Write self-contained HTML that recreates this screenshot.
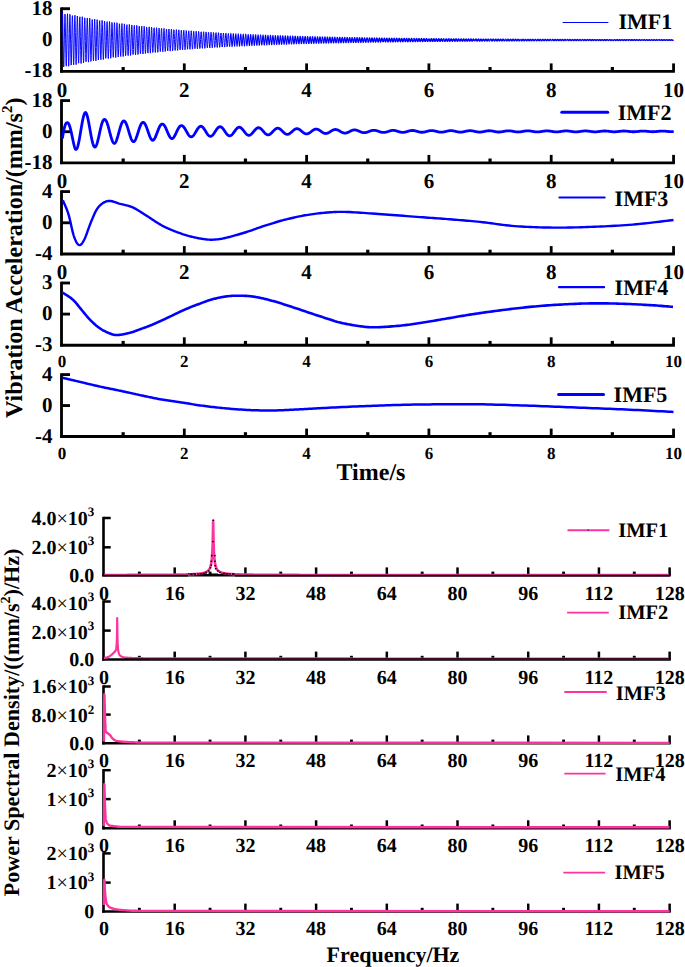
<!DOCTYPE html>
<html><head><meta charset="utf-8"><style>
html,body{margin:0;padding:0;background:#fff;overflow:hidden;width:685px;height:967px;}
svg{display:block;}
text{font-family:"Liberation Serif", serif;font-weight:bold;fill:#000;text-rendering:geometricPrecision;}
</style></head><body>
<svg width="685" height="967" viewBox="0 0 685 967">
<rect width="685" height="967" fill="#fff"/>
<line x1="61.5" y1="7.4" x2="61.5" y2="72.6" stroke="#000" stroke-width="2.85"/>
<line x1="60.15" y1="71.3" x2="674.9" y2="71.3" stroke="#000" stroke-width="2.85"/>
<line x1="61.5" y1="8.7" x2="70" y2="8.7" stroke="#000" stroke-width="2.85"/>
<line x1="123.15" y1="71.3" x2="123.15" y2="67" stroke="#000" stroke-width="3.2"/>
<line x1="184.3" y1="71.3" x2="184.3" y2="63.4" stroke="#000" stroke-width="2.8"/>
<line x1="245.45" y1="71.3" x2="245.45" y2="67" stroke="#000" stroke-width="3.2"/>
<line x1="306.6" y1="71.3" x2="306.6" y2="63.4" stroke="#000" stroke-width="2.8"/>
<line x1="367.75" y1="71.3" x2="367.75" y2="67" stroke="#000" stroke-width="3.2"/>
<line x1="428.9" y1="71.3" x2="428.9" y2="63.4" stroke="#000" stroke-width="2.8"/>
<line x1="490.05" y1="71.3" x2="490.05" y2="67" stroke="#000" stroke-width="3.2"/>
<line x1="551.2" y1="71.3" x2="551.2" y2="63.4" stroke="#000" stroke-width="2.8"/>
<line x1="612.35" y1="71.3" x2="612.35" y2="67" stroke="#000" stroke-width="3.2"/>
<line x1="673.55" y1="71.3" x2="673.55" y2="63.4" stroke="#000" stroke-width="2.8"/>
<text x="52.6" y="14.8" font-size="21" text-anchor="end" >18</text>
<text x="52.6" y="46.1" font-size="21" text-anchor="end" >0</text>
<text x="52.6" y="77.4" font-size="21" text-anchor="end" >-18</text>
<text x="62" y="96.5" font-size="21" text-anchor="middle" >0</text>
<text x="184.3" y="96.5" font-size="21" text-anchor="middle" >2</text>
<text x="306.6" y="96.5" font-size="21" text-anchor="middle" >4</text>
<text x="428.9" y="96.5" font-size="21" text-anchor="middle" >6</text>
<text x="551.2" y="96.5" font-size="21" text-anchor="middle" >8</text>
<text x="673.5" y="96.5" font-size="21" text-anchor="middle" >10</text>
<line x1="61.5" y1="99.3" x2="61.5" y2="164.1" stroke="#000" stroke-width="2.85"/>
<line x1="60.15" y1="162.8" x2="674.9" y2="162.8" stroke="#000" stroke-width="2.85"/>
<line x1="61.5" y1="100.6" x2="70" y2="100.6" stroke="#000" stroke-width="2.85"/>
<line x1="61.5" y1="131.7" x2="70" y2="131.7" stroke="#000" stroke-width="2.85"/>
<line x1="123.15" y1="162.8" x2="123.15" y2="158.5" stroke="#000" stroke-width="3.2"/>
<line x1="184.3" y1="162.8" x2="184.3" y2="154.9" stroke="#000" stroke-width="2.8"/>
<line x1="245.45" y1="162.8" x2="245.45" y2="158.5" stroke="#000" stroke-width="3.2"/>
<line x1="306.6" y1="162.8" x2="306.6" y2="154.9" stroke="#000" stroke-width="2.8"/>
<line x1="367.75" y1="162.8" x2="367.75" y2="158.5" stroke="#000" stroke-width="3.2"/>
<line x1="428.9" y1="162.8" x2="428.9" y2="154.9" stroke="#000" stroke-width="2.8"/>
<line x1="490.05" y1="162.8" x2="490.05" y2="158.5" stroke="#000" stroke-width="3.2"/>
<line x1="551.2" y1="162.8" x2="551.2" y2="154.9" stroke="#000" stroke-width="2.8"/>
<line x1="612.35" y1="162.8" x2="612.35" y2="158.5" stroke="#000" stroke-width="3.2"/>
<line x1="673.55" y1="162.8" x2="673.55" y2="154.9" stroke="#000" stroke-width="2.8"/>
<text x="52.6" y="106.7" font-size="21" text-anchor="end" >18</text>
<text x="52.6" y="137.8" font-size="21" text-anchor="end" >0</text>
<text x="52.6" y="168.9" font-size="21" text-anchor="end" >-18</text>
<text x="62" y="188" font-size="21" text-anchor="middle" >0</text>
<text x="184.3" y="188" font-size="21" text-anchor="middle" >2</text>
<text x="306.6" y="188" font-size="21" text-anchor="middle" >4</text>
<text x="428.9" y="188" font-size="21" text-anchor="middle" >6</text>
<text x="551.2" y="188" font-size="21" text-anchor="middle" >8</text>
<text x="673.5" y="188" font-size="21" text-anchor="middle" >10</text>
<line x1="61.5" y1="190.3" x2="61.5" y2="255.3" stroke="#000" stroke-width="2.85"/>
<line x1="60.15" y1="254" x2="674.9" y2="254" stroke="#000" stroke-width="2.85"/>
<line x1="61.5" y1="191.6" x2="70" y2="191.6" stroke="#000" stroke-width="2.85"/>
<line x1="61.5" y1="222.8" x2="70" y2="222.8" stroke="#000" stroke-width="2.85"/>
<line x1="123.15" y1="254" x2="123.15" y2="249.7" stroke="#000" stroke-width="3.2"/>
<line x1="184.3" y1="254" x2="184.3" y2="246.1" stroke="#000" stroke-width="2.8"/>
<line x1="245.45" y1="254" x2="245.45" y2="249.7" stroke="#000" stroke-width="3.2"/>
<line x1="306.6" y1="254" x2="306.6" y2="246.1" stroke="#000" stroke-width="2.8"/>
<line x1="367.75" y1="254" x2="367.75" y2="249.7" stroke="#000" stroke-width="3.2"/>
<line x1="428.9" y1="254" x2="428.9" y2="246.1" stroke="#000" stroke-width="2.8"/>
<line x1="490.05" y1="254" x2="490.05" y2="249.7" stroke="#000" stroke-width="3.2"/>
<line x1="551.2" y1="254" x2="551.2" y2="246.1" stroke="#000" stroke-width="2.8"/>
<line x1="612.35" y1="254" x2="612.35" y2="249.7" stroke="#000" stroke-width="3.2"/>
<line x1="673.55" y1="254" x2="673.55" y2="246.1" stroke="#000" stroke-width="2.8"/>
<text x="52.6" y="197.7" font-size="21" text-anchor="end" >4</text>
<text x="52.6" y="228.9" font-size="21" text-anchor="end" >0</text>
<text x="52.6" y="260.1" font-size="21" text-anchor="end" >-4</text>
<text x="62" y="279.2" font-size="21" text-anchor="middle" >0</text>
<text x="184.3" y="279.2" font-size="21" text-anchor="middle" >2</text>
<text x="306.6" y="279.2" font-size="21" text-anchor="middle" >4</text>
<text x="428.9" y="279.2" font-size="21" text-anchor="middle" >6</text>
<text x="551.2" y="279.2" font-size="21" text-anchor="middle" >8</text>
<text x="673.5" y="279.2" font-size="21" text-anchor="middle" >10</text>
<line x1="61.5" y1="281.7" x2="61.5" y2="346.5" stroke="#000" stroke-width="2.85"/>
<line x1="60.15" y1="345.2" x2="674.9" y2="345.2" stroke="#000" stroke-width="2.85"/>
<line x1="61.5" y1="283" x2="70" y2="283" stroke="#000" stroke-width="2.85"/>
<line x1="61.5" y1="314.1" x2="70" y2="314.1" stroke="#000" stroke-width="2.85"/>
<line x1="123.15" y1="345.2" x2="123.15" y2="340.9" stroke="#000" stroke-width="3.2"/>
<line x1="184.3" y1="345.2" x2="184.3" y2="337.3" stroke="#000" stroke-width="2.8"/>
<line x1="245.45" y1="345.2" x2="245.45" y2="340.9" stroke="#000" stroke-width="3.2"/>
<line x1="306.6" y1="345.2" x2="306.6" y2="337.3" stroke="#000" stroke-width="2.8"/>
<line x1="367.75" y1="345.2" x2="367.75" y2="340.9" stroke="#000" stroke-width="3.2"/>
<line x1="428.9" y1="345.2" x2="428.9" y2="337.3" stroke="#000" stroke-width="2.8"/>
<line x1="490.05" y1="345.2" x2="490.05" y2="340.9" stroke="#000" stroke-width="3.2"/>
<line x1="551.2" y1="345.2" x2="551.2" y2="337.3" stroke="#000" stroke-width="2.8"/>
<line x1="612.35" y1="345.2" x2="612.35" y2="340.9" stroke="#000" stroke-width="3.2"/>
<line x1="673.55" y1="345.2" x2="673.55" y2="337.3" stroke="#000" stroke-width="2.8"/>
<text x="52.6" y="289.1" font-size="21" text-anchor="end" >3</text>
<text x="52.6" y="320.2" font-size="21" text-anchor="end" >0</text>
<text x="52.6" y="351.3" font-size="21" text-anchor="end" >-3</text>
<text x="62" y="367.2" font-size="17" text-anchor="middle" >0</text>
<text x="184.3" y="367.2" font-size="17" text-anchor="middle" >2</text>
<text x="306.6" y="367.2" font-size="17" text-anchor="middle" >4</text>
<text x="428.9" y="367.2" font-size="17" text-anchor="middle" >6</text>
<text x="551.2" y="367.2" font-size="17" text-anchor="middle" >8</text>
<text x="673.5" y="367.2" font-size="17" text-anchor="middle" >10</text>
<line x1="61.5" y1="373.3" x2="61.5" y2="437.8" stroke="#000" stroke-width="2.85"/>
<line x1="60.15" y1="436.5" x2="674.9" y2="436.5" stroke="#000" stroke-width="2.85"/>
<line x1="61.5" y1="374.6" x2="70" y2="374.6" stroke="#000" stroke-width="2.85"/>
<line x1="61.5" y1="405.55" x2="70" y2="405.55" stroke="#000" stroke-width="2.85"/>
<line x1="123.15" y1="436.5" x2="123.15" y2="432.2" stroke="#000" stroke-width="3.2"/>
<line x1="184.3" y1="436.5" x2="184.3" y2="428.6" stroke="#000" stroke-width="2.8"/>
<line x1="245.45" y1="436.5" x2="245.45" y2="432.2" stroke="#000" stroke-width="3.2"/>
<line x1="306.6" y1="436.5" x2="306.6" y2="428.6" stroke="#000" stroke-width="2.8"/>
<line x1="367.75" y1="436.5" x2="367.75" y2="432.2" stroke="#000" stroke-width="3.2"/>
<line x1="428.9" y1="436.5" x2="428.9" y2="428.6" stroke="#000" stroke-width="2.8"/>
<line x1="490.05" y1="436.5" x2="490.05" y2="432.2" stroke="#000" stroke-width="3.2"/>
<line x1="551.2" y1="436.5" x2="551.2" y2="428.6" stroke="#000" stroke-width="2.8"/>
<line x1="612.35" y1="436.5" x2="612.35" y2="432.2" stroke="#000" stroke-width="3.2"/>
<line x1="673.55" y1="436.5" x2="673.55" y2="428.6" stroke="#000" stroke-width="2.8"/>
<text x="52.6" y="380.7" font-size="21" text-anchor="end" >4</text>
<text x="52.6" y="411.65" font-size="21" text-anchor="end" >0</text>
<text x="52.6" y="442.6" font-size="21" text-anchor="end" >-4</text>
<text x="62" y="459.1" font-size="17" text-anchor="middle" >0</text>
<text x="184.3" y="459.1" font-size="17" text-anchor="middle" >2</text>
<text x="306.6" y="459.1" font-size="17" text-anchor="middle" >4</text>
<text x="428.9" y="459.1" font-size="17" text-anchor="middle" >6</text>
<text x="551.2" y="459.1" font-size="17" text-anchor="middle" >8</text>
<text x="673.5" y="459.1" font-size="17" text-anchor="middle" >10</text>
<path d="M62 31.85 L62.24 18.25 L62.48 12.46 L62.72 16.51 L62.96 28.91 L63.19 45.23 L63.43 59.63 L63.67 67.02 L63.91 64.78 L64.15 53.76 L64.39 37.9 L64.63 22.88 L64.87 14.02 L65.11 14.46 L65.34 24 L65.58 39.21 L65.82 54.65 L66.06 64.84 L66.3 66.17 L66.54 58.21 L66.78 43.81 L67.02 28.14 L67.26 16.77 L67.49 13.72 L67.73 20.05 L67.97 33.47 L68.21 49.17 L68.45 61.57 L68.69 66.26 L68.93 61.61 L69.17 49.31 L69.4 33.77 L69.64 20.52 L69.88 14.28 L70.12 17.22 L70.36 28.28 L70.6 43.47 L70.84 57.39 L71.08 65.08 L71.32 63.84 L71.55 54.14 L71.79 39.47 L72.03 25.07 L72.27 16.05 L72.51 15.61 L72.75 23.86 L72.99 37.83 L73.23 52.54 L73.47 62.75 L73.7 64.84 L73.94 58.1 L74.18 44.98 L74.42 30.15 L74.66 18.9 L74.9 15.22 L75.14 20.39 L75.38 32.53 L75.62 47.29 L75.85 59.42 L76.09 64.61 L76.33 61.04 L76.57 50.02 L76.81 35.5 L77.05 22.66 L77.29 16.05" fill="none" stroke="#0000ff" stroke-width="0.95" stroke-linejoin="round" stroke-linecap="butt" />
<path d="M77.29 16.05 L77.53 18.01 L77.77 27.8 L78 41.9 L78.24 55.29 L78.48 63.21 L78.72 62.85 L78.96 54.39 L79.2 40.86 L79.44 27.1 L79.68 18 L79.92 16.78 L80.15 23.84 L80.39 36.64 L80.63 50.6 L80.87 60.75 L81.11 63.5 L81.35 57.89 L81.59 45.96 L81.83 31.98 L82.06 20.93 L82.3 16.72 L82.54 20.82 L82.78 31.75 L83.02 45.59 L83.26 57.4 L83.5 62.99 L83.74 60.4 L83.98 50.58 L84.21 37.06 L84.45 24.65 L84.69 17.78 L84.93 18.85 L85.17 27.46 L85.41 40.51 L85.65 53.35 L85.89 61.4 L86.13 61.83 L86.36 54.51 L86.6 42.08 L86.84 28.97 L87.08 19.86 L87.32 17.97 L87.56 23.94 L87.8 35.61 L88.04 48.82 L88.28 58.85 L88.51 62.16 L88.75 57.59 L88.99 46.8 L89.23 33.65 L89.47 22.84 L89.71 18.19 L89.95 21.33 L90.19 31.12 L90.43 44.05 L90.66 55.5 L90.9 61.41 L91.14 59.7 L91.38 51.01 L91.62 38.45 L91.86 26.52 L92.1 19.44 L92.34 19.73 L92.58 27.24" fill="none" stroke="#0000ff" stroke-width="0.95" stroke-linejoin="round" stroke-linecap="butt" />
<path d="M92.58 27.24 L92.81 39.28 L93.05 51.54 L93.29 59.67 L93.53 60.78 L93.77 54.52 L94.01 43.14 L94.25 30.7 L94.49 21.64 L94.72 19.17 L94.96 24.13 L95.2 34.73 L95.44 47.19 L95.68 57.05 L95.92 60.83 L96.16 57.2 L96.4 47.49 L96.64 35.17 L96.87 24.64 L97.11 19.63 L97.35 21.91 L97.59 30.63 L97.83 42.66 L98.07 53.72 L98.31 59.87 L98.55 58.95 L98.79 51.31 L99.02 39.69 L99.26 28.25 L99.5 21.05 L99.74 20.64 L99.98 27.14 L100.22 38.2 L100.46 49.87 L100.7 58.01 L100.94 59.72 L101.17 54.43 L101.41 44.05 L101.65 32.29 L101.89 23.33 L102.13 20.36 L102.37 24.4 L102.61 33.99 L102.85 45.7 L103.09 55.35 L103.32 59.52 L103.56 56.74 L103.8 48.04 L104.04 36.54 L104.28 26.32 L104.52 21.04 L104.76 22.53 L105 30.25 L105.23 41.43 L105.47 52.07 L105.71 58.39 L105.95 58.16 L106.19 51.5 L106.43 40.79 L106.67 29.86 L106.91 22.6 L107.15 21.58 L107.38 27.13 L107.62 37.26 L107.86 48.33" fill="none" stroke="#0000ff" stroke-width="0.95" stroke-linejoin="round" stroke-linecap="butt" />
<path d="M107.86 48.33 L108.1 56.42 L108.34 58.65 L108.58 54.26 L108.82 44.83 L109.06 33.74 L109.3 24.94 L109.53 21.55 L109.77 24.75 L110.01 33.38 L110.25 44.35 L110.49 53.75 L110.73 58.23 L110.97 56.23 L111.21 48.48 L111.45 37.77 L111.68 27.91 L111.92 22.4 L112.16 23.2 L112.4 29.99 L112.64 40.33 L112.88 50.52 L113.12 56.96 L113.36 57.35 L113.6 51.59 L113.83 41.75 L114.07 31.34 L114.31 24.08 L114.55 22.52 L114.79 27.21 L115.03 36.44 L115.27 46.92 L115.51 54.92 L115.75 57.59 L115.98 54.01 L116.22 45.48 L116.46 35.06 L116.7 26.45 L116.94 22.71 L117.18 25.16 L117.42 32.89 L117.66 43.14 L117.89 52.25 L118.13 56.98 L118.37 55.67 L118.61 48.81 L118.85 38.87 L119.09 29.38 L119.33 23.73 L119.57 23.9 L119.81 29.82 L120.04 39.35 L120.28 49.1 L120.52 55.58 L120.76 56.51 L121 51.59 L121.24 42.58 L121.48 32.71 L121.72 25.49 L121.96 23.47 L122.19 27.37 L122.43 35.75 L122.67 45.64 L122.91 53.49 L123.15 56.53" fill="none" stroke="#0000ff" stroke-width="0.95" stroke-linejoin="round" stroke-linecap="butt" />
<path d="M123.15 56.53 L123.39 53.7 L123.63 46.03 L123.87 36.25 L124.11 27.87 L124.34 23.86 L124.58 25.62 L124.82 32.5 L125.06 42.04 L125.3 50.84 L125.54 55.76 L125.78 55.07 L126.02 49.05 L126.26 39.84 L126.49 30.75 L126.73 25 L126.97 24.63 L127.21 29.74 L127.45 38.5 L127.69 47.77 L127.93 54.26 L128.17 55.67 L128.41 51.52 L128.64 43.3 L128.88 33.96 L129.12 26.83 L129.36 24.42 L129.6 27.59 L129.84 35.17 L130.08 44.46 L130.32 52.14 L130.55 55.49 L130.79 53.34 L131.03 46.46 L131.27 37.34 L131.51 29.21 L131.75 24.97 L131.99 26.12 L132.23 32.21 L132.47 41.07 L132.7 49.53 L132.94 54.58 L133.18 54.45 L133.42 49.19 L133.66 40.71 L133.9 32.02 L134.14 26.23 L134.38 25.37 L134.62 29.74 L134.85 37.76 L135.09 46.56 L135.33 53.01 L135.57 54.82 L135.81 51.38 L136.05 43.91 L136.29 35.11 L136.53 28.1 L136.77 25.36 L137 27.87 L137.24 34.69 L137.48 43.4 L137.72 50.88 L137.96 54.47 L138.2 52.93 L138.44 46.81" fill="none" stroke="#0000ff" stroke-width="0.95" stroke-linejoin="round" stroke-linecap="butt" />
<path d="M138.44 46.81 L138.68 38.31 L138.92 30.46 L139.15 26.06 L139.39 26.65 L139.63 32 L139.87 40.2 L140.11 48.31 L140.35 53.45 L140.59 53.8 L140.83 49.26 L141.07 41.46 L141.3 33.2 L141.54 27.4 L141.78 26.13 L142.02 29.81 L142.26 37.12 L142.5 45.44 L142.74 51.82 L142.98 53.98 L143.21 51.18 L143.45 44.43 L143.69 36.15 L143.93 29.29 L144.17 26.29 L144.41 28.19 L144.65 34.3 L144.89 42.44 L145.13 49.69 L145.36 53.48 L145.6 52.48 L145.84 47.07 L146.08 39.18 L146.32 31.63 L146.56 27.11 L146.8 27.21 L147.04 31.88 L147.28 39.43 L147.51 47.18 L147.75 52.36 L147.99 53.14 L148.23 49.26 L148.47 42.12 L148.71 34.28 L148.95 28.52 L149.19 26.88 L149.43 29.94 L149.66 36.58 L149.9 44.42 L150.14 50.69 L150.38 53.14 L150.62 50.93 L150.86 44.85 L151.1 37.1 L151.34 30.42 L151.58 27.2 L151.81 28.56 L152.05 34 L152.29 41.57 L152.53 48.57 L152.77 52.51 L153.01 52 L153.25 47.25 L153.49 39.95 L153.72 32.72" fill="none" stroke="#0000ff" stroke-width="0.95" stroke-linejoin="round" stroke-linecap="butt" />
<path d="M153.72 32.72 L153.96 28.12 L154.2 27.79 L154.44 31.82 L154.68 38.76 L154.92 46.13 L155.16 51.31 L155.4 52.47 L155.64 49.2 L155.87 42.69 L156.11 35.27 L156.35 29.58 L156.59 27.64 L156.83 30.11 L157.07 36.12 L157.31 43.5 L157.55 49.62 L157.79 52.31 L158.02 50.63 L158.26 45.2 L158.5 37.95 L158.74 31.48 L158.98 28.09 L159.22 28.96 L159.46 33.77 L159.7 40.8 L159.94 47.53 L160.17 51.58 L160.41 51.51 L160.65 47.36 L160.89 40.63 L161.13 33.72 L161.37 29.09 L161.61 28.38 L161.85 31.82 L162.09 38.17 L162.32 45.17 L162.56 50.32 L162.8 51.79 L163.04 49.08 L163.28 43.18 L163.52 36.18 L163.76 30.59 L164 28.38 L164.24 30.34 L164.47 35.74 L164.71 42.65 L164.95 48.61 L165.19 51.5 L165.43 50.31 L165.67 45.47 L165.91 38.72 L166.15 32.47 L166.38 28.95 L166.62 29.38 L166.86 33.61 L167.1 40.11 L167.34 46.57 L167.58 50.68 L167.82 50.99 L168.06 47.41 L168.3 41.23 L168.53 34.65 L168.77 30.02 L169.01 28.98" fill="none" stroke="#0000ff" stroke-width="0.95" stroke-linejoin="round" stroke-linecap="butt" />
<path d="M169.01 28.98 L169.25 31.87 L169.49 37.67 L169.73 44.29 L169.97 49.37 L170.21 51.12 L170.45 48.92 L170.68 43.58 L170.92 37 L171.16 31.54 L171.4 29.12 L171.64 30.6 L171.88 35.44 L172.12 41.89 L172.36 47.67 L172.6 50.71 L172.83 49.95 L173.07 45.67 L173.31 39.41 L173.55 33.4 L173.79 29.78 L174.03 29.83 L174.27 33.51 L174.51 39.51 L174.75 45.67 L174.98 49.81 L175.22 50.46 L175.46 47.41 L175.7 41.75 L175.94 35.51 L176.18 30.91 L176.42 29.58 L176.66 31.98 L176.9 37.24 L177.13 43.48 L177.37 48.47 L177.61 50.45 L177.85 48.72 L178.09 43.92 L178.33 37.75 L178.57 32.43 L178.81 29.84 L179.04 30.89 L179.28 35.2 L179.52 41.21 L179.76 46.79 L180 49.95 L180.24 49.57 L180.48 45.81 L180.72 40.02 L180.96 34.26 L181.19 30.58 L181.43 30.29 L181.67 33.47 L181.91 38.97 L182.15 44.84 L182.39 48.98 L182.63 49.93 L182.87 47.36 L183.11 42.2 L183.34 36.29 L183.58 31.75 L183.82 30.18 L184.06 32.12 L184.3 36.88" fill="none" stroke="#0000ff" stroke-width="0.95" stroke-linejoin="round" stroke-linecap="butt" />
<path d="M184.3 36.88 L184.54 42.74 L184.78 47.63 L185.02 49.8 L185.26 48.49 L185.49 44.19 L185.73 38.43 L185.97 33.27 L186.21 30.54 L186.45 31.21 L186.69 35.02 L186.93 40.6 L187.17 45.96 L187.41 49.2 L187.64 49.17 L187.88 45.9 L188.12 40.56 L188.36 35.06 L188.6 31.35 L188.84 30.76 L189.08 33.47 L189.32 38.51 L189.56 44.08 L189.79 48.19 L190.03 49.39 L190.27 47.26 L190.51 42.58 L190.75 37.01 L190.99 32.55 L191.23 30.77 L191.47 32.3 L191.7 36.58 L191.94 42.08 L192.18 46.83 L192.42 49.15 L192.66 48.23 L192.9 44.4 L193.14 39.04 L193.38 34.06 L193.62 31.23 L193.85 31.55 L194.09 34.89 L194.33 40.06 L194.57 45.2 L194.81 48.49 L195.05 48.76 L195.29 45.94 L195.53 41.03 L195.77 35.79 L196 32.09 L196.24 31.23 L196.48 33.52 L196.72 38.11 L196.96 43.38 L197.2 47.44 L197.44 48.86 L197.68 47.14 L197.92 42.9 L198.15 37.67 L198.39 33.3 L198.63 31.36 L198.87 32.51 L199.11 36.34 L199.35 41.47 L199.59 46.08" fill="none" stroke="#0000ff" stroke-width="0.95" stroke-linejoin="round" stroke-linecap="butt" />
<path d="M199.59 46.08 L199.83 48.53 L200.07 47.95 L200.3 44.56 L200.54 39.58 L200.78 34.79 L201.02 31.89 L201.26 31.9 L201.5 34.81 L201.74 39.58 L201.98 44.49 L202.22 47.8 L202.45 48.34 L202.69 45.94 L202.93 41.44 L203.17 36.47 L203.41 32.8 L203.65 31.71 L203.89 33.6 L204.13 37.77 L204.36 42.74 L204.6 46.73 L204.84 48.33 L205.08 46.98 L205.32 43.16 L205.56 38.26 L205.8 34.01 L206.04 31.93 L206.28 32.74 L206.51 36.15 L206.75 40.93 L206.99 45.38 L207.23 47.92 L207.47 47.64 L207.71 44.67 L207.95 40.07 L208.19 35.47 L208.43 32.53 L208.66 32.27 L208.9 34.78 L209.14 39.15 L209.38 43.83 L209.62 47.14 L209.86 47.92 L210.1 45.89 L210.34 41.8 L210.58 37.1 L210.81 33.46 L211.05 32.19 L211.29 33.72 L211.53 37.49 L211.77 42.16 L212.01 46.06 L212.25 47.81 L212.49 46.79 L212.73 43.38 L212.96 38.8 L213.2 34.68 L213.44 32.49 L213.68 33 L213.92 36.01 L214.16 40.45 L214.4 44.73 L214.64 47.33 L214.88 47.33" fill="none" stroke="#0000ff" stroke-width="0.97" stroke-linejoin="round" stroke-linecap="butt" />
<path d="M214.88 47.33 L215.11 44.74 L215.35 40.49 L215.59 36.11 L215.83 33.14 L216.07 32.64 L216.31 34.78 L216.55 38.79 L216.79 43.23 L217.02 46.52 L217.26 47.49 L217.5 45.82 L217.74 42.1 L217.98 37.67 L218.22 34.1 L218.46 32.66 L218.7 33.86 L218.94 37.25 L219.17 41.63 L219.41 45.43 L219.65 47.3 L219.89 46.58 L220.13 43.55 L220.37 39.28 L220.61 35.3 L220.85 33.03 L221.09 33.27 L221.32 35.91 L221.56 40.02 L221.8 44.12 L222.04 46.76 L222.28 47 L222.52 44.77 L222.76 40.87 L223 36.69 L223.24 33.73 L223.47 33.02 L223.71 34.82 L223.95 38.47 L224.19 42.67 L224.43 45.92 L224.67 47.07 L224.91 45.72 L225.15 42.35 L225.39 38.19 L225.62 34.7 L225.86 33.13 L226.1 34.03 L226.34 37.06 L226.58 41.15 L226.82 44.83 L227.06 46.8 L227.3 46.35 L227.53 43.67 L227.77 39.71 L228.01 35.89 L228.25 33.56 L228.49 33.55 L228.73 35.85 L228.97 39.64 L229.21 43.56 L229.45 46.21 L229.68 46.66 L229.92 44.76 L230.16 41.19" fill="none" stroke="#0000ff" stroke-width="1.0" stroke-linejoin="round" stroke-linecap="butt" />
<path d="M230.16 41.19 L230.4 37.23 L230.64 34.29 L230.88 33.4 L231.12 34.89 L231.36 38.2 L231.6 42.16 L231.83 45.35 L232.07 46.65 L232.31 45.59 L232.55 42.56 L232.79 38.66 L233.03 35.26 L233.27 33.58 L233.51 34.21 L233.75 36.91 L233.98 40.72 L234.22 44.28 L234.46 46.31 L234.7 46.11 L234.94 43.76 L235.18 40.09 L235.42 36.43 L235.66 34.07 L235.9 33.84 L236.13 35.83 L236.37 39.31 L236.61 43.04 L236.85 45.69 L237.09 46.33 L237.33 44.73 L237.57 41.47 L237.81 37.72 L238.05 34.82 L238.28 33.78 L238.52 34.98 L238.76 37.98 L239 41.7 L239.24 44.82 L239.48 46.23 L239.72 45.44 L239.96 42.73 L240.19 39.08 L240.43 35.79 L240.67 34.03 L240.91 34.41 L241.15 36.8 L241.39 40.34 L241.63 43.76 L241.87 45.84 L242.11 45.86 L242.34 43.81 L242.58 40.43 L242.82 36.93 L243.06 34.55 L243.3 34.14 L243.54 35.83 L243.78 39.01 L244.02 42.56 L244.26 45.19 L244.49 45.99 L244.73 44.67 L244.97 41.71 L245.21 38.18 L245.45 35.32" fill="none" stroke="#0000ff" stroke-width="1.03" stroke-linejoin="round" stroke-linecap="butt" />
<path d="M245.45 35.32 L245.69 34.16 L245.93 35.1 L246.17 37.79 L246.41 41.28 L246.64 44.32 L246.88 45.82 L247.12 45.27 L247.36 42.86 L247.6 39.46 L247.84 36.29 L248.08 34.46 L248.32 34.63 L248.56 36.73 L248.79 40 L249.03 43.27 L249.27 45.39 L249.51 45.6 L249.75 43.83 L249.99 40.73 L250.23 37.4 L250.47 35.02 L250.71 34.44 L250.94 35.86 L251.18 38.76 L251.42 42.12 L251.66 44.72 L251.9 45.65 L252.14 44.59 L252.38 41.91 L252.62 38.59 L252.85 35.8 L253.09 34.53 L253.33 35.23 L253.57 37.64 L253.81 40.9 L254.05 43.85 L254.29 45.43 L254.53 45.09 L254.77 42.96 L255 39.81 L255.24 36.75 L255.48 34.88 L255.72 34.85 L255.96 36.68 L256.2 39.7 L256.44 42.83 L256.68 44.96 L256.92 45.33 L257.15 43.83 L257.39 40.99 L257.63 37.82 L257.87 35.46 L258.11 34.74 L258.35 35.91 L258.59 38.55 L258.83 41.71 L259.07 44.27 L259.3 45.31 L259.54 44.48 L259.78 42.08 L260.02 38.96 L260.26 36.24 L260.5 34.89 L260.74 35.38" fill="none" stroke="#0000ff" stroke-width="1.07" stroke-linejoin="round" stroke-linecap="butt" />
<path d="M260.74 35.38 L260.98 37.52 L261.22 40.56 L261.45 43.4 L261.69 45.04 L261.93 44.9 L262.17 43.03 L262.41 40.11 L262.65 37.18 L262.89 35.28 L263.13 35.09 L263.37 36.66 L263.6 39.43 L263.84 42.41 L264.08 44.54 L264.32 45.07 L264.56 43.8 L264.8 41.21 L265.04 38.22 L265.28 35.89 L265.51 35.04 L265.75 35.99 L265.99 38.37 L266.23 41.34 L266.47 43.84 L266.71 44.98 L266.95 44.36 L267.19 42.21 L267.43 39.3 L267.66 36.67 L267.9 35.25 L268.14 35.54 L268.38 37.44 L268.62 40.26 L268.86 42.99 L269.1 44.67 L269.34 44.7 L269.58 43.07 L269.81 40.38 L270.05 37.58 L270.29 35.67 L270.53 35.32 L270.77 36.66 L271.01 39.2 L271.25 42.03 L271.49 44.15 L271.73 44.8 L271.96 43.75 L272.2 41.4 L272.44 38.58 L272.68 36.29 L272.92 35.34 L273.16 36.08 L273.4 38.23 L273.64 41.01 L273.88 43.44 L274.11 44.66 L274.35 44.23 L274.59 42.32 L274.83 39.6 L275.07 37.06 L275.31 35.59 L275.55 35.71 L275.79 37.38 L276.02 39.98" fill="none" stroke="#0000ff" stroke-width="1.1" stroke-linejoin="round" stroke-linecap="butt" />
<path d="M276.02 39.98 L276.26 42.61 L276.5 44.31 L276.74 44.49 L276.98 43.09 L277.22 40.62 L277.46 37.95 L277.7 36.04 L277.94 35.56 L278.17 36.69 L278.41 39 L278.65 41.68 L278.89 43.77 L279.13 44.53 L279.37 43.69 L279.61 41.56 L279.85 38.9 L280.09 36.66 L280.32 35.64 L280.56 36.19 L280.8 38.11 L281.04 40.71 L281.28 43.07 L281.52 44.34 L281.76 44.09 L282 42.4 L282.24 39.88 L282.47 37.43 L282.71 35.92 L282.95 35.89 L283.19 37.34 L283.43 39.75 L283.67 42.25 L283.91 43.96 L284.15 44.28 L284.39 43.09 L284.62 40.82 L284.86 38.29 L285.1 36.39 L285.34 35.81 L285.58 36.73 L285.82 38.83 L286.06 41.36 L286.3 43.41 L286.54 44.26 L286.77 43.61 L287.01 41.69 L287.25 39.2 L287.49 37.02 L287.73 35.93 L287.97 36.3 L288.21 38.01 L288.45 40.44 L288.68 42.72 L288.92 44.04 L289.16 43.94 L289.4 42.45 L289.64 40.12 L289.88 37.77 L290.12 36.24 L290.36 36.08 L290.6 37.32 L290.83 39.53 L291.07 41.92 L291.31 43.63" fill="none" stroke="#0000ff" stroke-width="1.13" stroke-linejoin="round" stroke-linecap="butt" />
<path d="M291.31 43.63 L291.55 44.06 L291.79 43.07 L292.03 41 L292.27 38.6 L292.51 36.73 L292.75 36.05 L292.98 36.79 L293.22 38.69 L293.46 41.07 L293.7 43.07 L293.94 44 L294.18 43.51 L294.42 41.8 L294.66 39.47 L294.9 37.36 L295.13 36.21 L295.37 36.43 L295.61 37.94 L295.85 40.2 L296.09 42.39 L296.33 43.74 L296.57 43.78 L296.81 42.48 L297.05 40.33 L297.28 38.09 L297.52 36.55 L297.76 36.26 L298 37.33 L298.24 39.35 L298.48 41.62 L298.72 43.32 L298.96 43.85 L299.2 43.03 L299.43 41.15 L299.67 38.89 L299.91 37.05 L300.15 36.28 L300.39 36.86 L300.63 38.57 L300.87 40.8 L301.11 42.75 L301.34 43.74 L301.58 43.41 L301.82 41.88 L302.06 39.71 L302.3 37.67 L302.54 36.48 L302.78 36.57 L303.02 37.89 L303.26 39.98 L303.49 42.08 L303.73 43.45 L303.97 43.61 L304.21 42.5 L304.45 40.52 L304.69 38.38 L304.93 36.85 L305.17 36.46 L305.41 37.34 L305.64 39.19 L305.88 41.34 L306.12 43.02 L306.36 43.63 L306.6 42.97" fill="none" stroke="#0000ff" stroke-width="1.17" stroke-linejoin="round" stroke-linecap="butt" />
<path d="M306.6 42.97 L306.84 41.28 L307.08 39.15 L307.32 37.35 L307.56 36.52 L307.79 36.95 L308.03 38.48 L308.27 40.56 L308.51 42.46 L308.75 43.49 L308.99 43.29 L309.23 41.94 L309.47 39.93 L309.71 37.96 L309.94 36.75 L310.18 36.71 L310.42 37.86 L310.66 39.79 L310.9 41.8 L311.14 43.18 L311.38 43.44 L311.62 42.5 L311.86 40.68 L312.09 38.65 L312.33 37.13 L312.57 36.65 L312.81 37.38 L313.05 39.06 L313.29 41.08 L313.53 42.73 L313.77 43.42 L314 42.91 L314.24 41.38 L314.48 39.39 L314.72 37.63 L314.96 36.75 L315.2 37.04 L315.44 38.4 L315.68 40.35 L315.92 42.18 L316.15 43.24 L316.39 43.17 L316.63 41.99 L316.87 40.12 L317.11 38.24 L317.35 37 L317.59 36.86 L317.83 37.85 L318.07 39.62 L318.3 41.54 L318.54 42.92 L318.78 43.27 L319.02 42.48 L319.26 40.83 L319.5 38.9 L319.74 37.4 L319.98 36.84 L320.22 37.43 L320.45 38.94 L320.69 40.85 L320.93 42.46 L321.17 43.21 L321.41 42.83 L321.65 41.47 L321.89 39.6" fill="none" stroke="#0000ff" stroke-width="1.2" stroke-linejoin="round" stroke-linecap="butt" />
<path d="M321.89 39.6 L322.13 37.9 L322.37 36.97 L322.6 37.14 L322.84 38.35 L323.08 40.15 L323.32 41.91 L323.56 43.01 L323.8 43.04 L324.04 42.01 L324.28 40.29 L324.52 38.49 L324.75 37.25 L324.99 37.01 L325.23 37.85 L325.47 39.47 L325.71 41.29 L325.95 42.66 L326.19 43.1 L326.43 42.45 L326.66 40.95 L326.9 39.13 L327.14 37.65 L327.38 37.03 L327.62 37.48 L327.86 38.85 L328.1 40.64 L328.34 42.21 L328.58 43.01 L328.81 42.75 L329.05 41.53 L329.29 39.79 L329.53 38.15 L329.77 37.19 L330.01 37.25 L330.25 38.31 L330.49 39.98 L330.73 41.67 L330.96 42.78 L331.2 42.91 L331.44 42.03 L331.68 40.44 L331.92 38.72 L332.16 37.48 L332.4 37.16 L332.64 37.87 L332.88 39.35 L333.11 41.07 L333.35 42.42 L333.59 42.93 L333.83 42.41 L334.07 41.05 L334.31 39.34 L334.55 37.89 L334.79 37.22 L335.03 37.55 L335.26 38.77 L335.5 40.45 L335.74 41.97 L335.98 42.81 L336.22 42.66 L336.46 41.58 L336.7 39.97 L336.94 38.39 L337.18 37.4" fill="none" stroke="#0000ff" stroke-width="1.23" stroke-linejoin="round" stroke-linecap="butt" />
<path d="M337.18 37.4 L337.41 37.37 L337.65 38.28 L337.89 39.83 L338.13 41.44 L338.37 42.56 L338.61 42.78 L338.85 42.02 L339.09 40.57 L339.32 38.94 L339.56 37.71 L339.8 37.32 L340.04 37.9 L340.28 39.24 L340.52 40.87 L340.76 42.2 L341 42.76 L341.24 42.35 L341.47 41.13 L341.71 39.53 L341.95 38.12 L342.19 37.4 L342.43 37.63 L342.67 38.71 L342.91 40.27 L343.15 41.75 L343.39 42.61 L343.62 42.56 L343.86 41.62 L344.1 40.12 L344.34 38.6 L344.58 37.61 L344.82 37.48 L345.06 38.27 L345.3 39.69 L345.54 41.23 L345.77 42.35 L346.01 42.64 L346.25 42.01 L346.49 40.69 L346.73 39.14 L346.97 37.92 L347.21 37.47 L347.45 37.93 L347.69 39.15 L347.92 40.68 L348.16 41.98 L348.4 42.59 L348.64 42.29 L348.88 41.2 L349.12 39.7 L349.36 38.33 L349.6 37.58 L349.83 37.71 L350.07 38.67 L350.31 40.12 L350.55 41.54 L350.79 42.42 L351.03 42.46 L351.27 41.64 L351.51 40.26 L351.75 38.81 L351.98 37.8 L352.22 37.6 L352.46 38.27" fill="none" stroke="#0000ff" stroke-width="1.27" stroke-linejoin="round" stroke-linecap="butt" />
<path d="M352.46 38.27 L352.7 39.58 L352.94 41.04 L353.18 42.15 L353.42 42.5 L353.66 41.99 L353.9 40.78 L354.13 39.32 L354.37 38.13 L354.61 37.62 L354.85 37.98 L355.09 39.07 L355.33 40.51 L355.57 41.78 L355.81 42.43 L356.05 42.23 L356.28 41.25 L356.52 39.85 L356.76 38.53 L357 37.75 L357.24 37.79 L357.48 38.64 L357.72 39.98 L357.96 41.34 L358.2 42.24 L358.43 42.35 L358.67 41.65 L358.91 40.38 L359.15 38.99 L359.39 37.99 L359.63 37.72 L359.87 38.29 L360.11 39.47 L360.35 40.86 L360.58 41.96 L360.82 42.37 L361.06 41.95 L361.3 40.86 L361.54 39.49 L361.78 38.32 L362.02 37.77 L362.26 38.03 L362.49 39.01 L362.73 40.36 L362.97 41.59 L363.21 42.27 L363.45 42.15 L363.69 41.29 L363.93 39.99 L364.17 38.72 L364.41 37.92 L364.64 37.89 L364.88 38.62 L365.12 39.86 L365.36 41.16 L365.6 42.07 L365.84 42.25 L366.08 41.65 L366.32 40.48 L366.56 39.17 L366.79 38.17 L367.03 37.85 L367.27 38.31 L367.51 39.39 L367.75 40.7" fill="none" stroke="#0000ff" stroke-width="1.3" stroke-linejoin="round" stroke-linecap="butt" />
<path d="M367.75 40.7 L367.99 41.77 L368.23 42.23 L368.47 41.91 L368.71 40.93 L368.94 39.64 L369.18 38.5 L369.42 37.92 L369.66 38.09 L369.9 38.96 L370.14 40.22 L370.38 41.41 L370.62 42.11 L370.86 42.08 L371.09 41.32 L371.33 40.12 L371.57 38.89 L371.81 38.08 L372.05 37.98 L372.29 38.61 L372.53 39.75 L372.77 40.99 L373.01 41.9 L373.24 42.14 L373.48 41.64 L373.72 40.57 L373.96 39.33 L374.2 38.34 L374.44 37.97 L374.68 38.34 L374.92 39.31 L375.15 40.55 L375.39 41.6 L375.63 42.1 L375.87 41.86 L376.11 40.99 L376.35 39.78 L376.59 38.67 L376.83 38.06 L377.07 38.16 L377.3 38.93 L377.54 40.1 L377.78 41.24 L378.02 41.96 L378.26 42 L378.5 41.34 L378.74 40.23 L378.98 39.05 L379.22 38.24 L379.45 38.07 L379.69 38.61 L379.93 39.66 L380.17 40.84 L380.41 41.74 L380.65 42.03 L380.89 41.62 L381.13 40.65 L381.37 39.47 L381.6 38.5 L381.84 38.09 L382.08 38.37 L382.32 39.25 L382.56 40.41 L382.8 41.44 L383.04 41.97" fill="none" stroke="#0000ff" stroke-width="1.34" stroke-linejoin="round" stroke-linecap="butt" />
<path d="M383.04 41.97 L383.28 41.81 L383.52 41.03 L383.75 39.9 L383.99 38.83 L384.23 38.2 L384.47 38.23 L384.71 38.9 L384.95 39.99 L385.19 41.09 L385.43 41.81 L385.67 41.91 L385.9 41.35 L386.14 40.32 L386.38 39.21 L386.62 38.39 L386.86 38.17 L387.1 38.62 L387.34 39.58 L387.58 40.7 L387.81 41.58 L388.05 41.92 L388.29 41.59 L388.53 40.72 L388.77 39.61 L389.01 38.66 L389.25 38.21 L389.49 38.42 L389.73 39.2 L389.96 40.29 L390.2 41.29 L390.44 41.84 L390.68 41.75 L390.92 41.06 L391.16 40.01 L391.4 38.98 L391.64 38.33 L391.88 38.3 L392.11 38.89 L392.35 39.89 L392.59 40.94 L392.83 41.67 L393.07 41.83 L393.31 41.35 L393.55 40.41 L393.79 39.34 L394.03 38.54 L394.26 38.27 L394.5 38.64 L394.74 39.51 L394.98 40.57 L395.22 41.44 L395.46 41.81 L395.7 41.56 L395.94 40.77 L396.18 39.73 L396.41 38.8 L396.65 38.33 L396.89 38.46 L397.13 39.17 L397.37 40.18 L397.61 41.14 L397.85 41.71 L398.09 41.69 L398.32 41.09" fill="none" stroke="#0000ff" stroke-width="1.37" stroke-linejoin="round" stroke-linecap="butt" />
<path d="M398.32 41.09 L398.56 40.11 L398.8 39.12 L399.04 38.46 L399.28 38.37 L399.52 38.88 L399.76 39.8 L400 40.81 L400.24 41.54 L400.47 41.74 L400.71 41.34 L400.95 40.48 L401.19 39.47 L401.43 38.67 L401.67 38.37 L401.91 38.66 L402.15 39.45 L402.39 40.45 L402.62 41.3 L402.86 41.71 L403.1 41.52 L403.34 40.81 L403.58 39.84 L403.82 38.94 L404.06 38.44 L404.3 38.52 L404.54 39.14 L404.77 40.08 L405.01 41.01 L405.25 41.59 L405.49 41.63 L405.73 41.1 L405.97 40.2 L406.21 39.25 L406.45 38.59 L406.69 38.45 L406.92 38.88 L407.16 39.72 L407.4 40.68 L407.64 41.41 L407.88 41.65 L408.12 41.32 L408.36 40.54 L408.6 39.59 L408.84 38.8 L409.07 38.46 L409.31 38.69 L409.55 39.4 L409.79 40.34 L410.03 41.17 L410.27 41.6 L410.51 41.48 L410.75 40.85 L410.98 39.94 L411.22 39.07 L411.46 38.55 L411.7 38.57 L411.94 39.11 L412.18 39.99 L412.42 40.88 L412.66 41.48 L412.9 41.56 L413.13 41.11 L413.37 40.28 L413.61 39.37" fill="none" stroke="#0000ff" stroke-width="1.4" stroke-linejoin="round" stroke-linecap="butt" />
<path d="M413.61 39.37 L413.85 38.71 L414.09 38.53 L414.33 38.89 L414.57 39.66 L414.81 40.57 L415.05 41.29 L415.28 41.57 L415.52 41.3 L415.76 40.6 L416 39.7 L416.24 38.93 L416.48 38.56 L416.72 38.72 L416.96 39.36 L417.2 40.24 L417.43 41.05 L417.67 41.5 L417.91 41.43 L418.15 40.88 L418.39 40.03 L418.63 39.19 L418.87 38.66 L419.11 38.63 L419.35 39.1 L419.58 39.91 L419.82 40.77 L420.06 41.36 L420.3 41.49 L420.54 41.11 L420.78 40.35 L421.02 39.48 L421.26 38.83 L421.5 38.61 L421.73 38.9 L421.97 39.6 L422.21 40.46 L422.45 41.17 L422.69 41.48 L422.93 41.28 L423.17 40.64 L423.41 39.8 L423.64 39.04 L423.88 38.65 L424.12 38.76 L424.36 39.33 L424.6 40.15 L424.84 40.93 L425.08 41.4 L425.32 41.38 L425.56 40.9 L425.79 40.11 L426.03 39.3 L426.27 38.77 L426.51 38.69 L426.75 39.09 L426.99 39.84 L427.23 40.66 L427.47 41.26 L427.71 41.42 L427.94 41.1 L428.18 40.41 L428.42 39.59 L428.66 38.94 L428.9 38.68" fill="none" stroke="#0000ff" stroke-width="1.44" stroke-linejoin="round" stroke-linecap="butt" />
<path d="M428.9 38.68 L429.14 38.92 L429.38 39.55 L429.62 40.36 L429.86 41.06 L430.09 41.39 L430.33 41.25 L430.57 40.68 L430.81 39.88 L431.05 39.15 L431.29 38.74 L431.53 38.8 L431.77 39.3 L432.01 40.07 L432.24 40.82 L432.48 41.3 L432.72 41.33 L432.96 40.91 L433.2 40.18 L433.44 39.41 L433.68 38.87 L433.92 38.75 L434.16 39.09 L434.39 39.78 L434.63 40.56 L434.87 41.15 L435.11 41.35 L435.35 41.09 L435.59 40.46 L435.83 39.68 L436.07 39.04 L436.3 38.76 L436.54 38.94 L436.78 39.51 L437.02 40.28 L437.26 40.96 L437.5 41.31 L437.74 41.22 L437.98 40.71 L438.22 39.96 L438.45 39.26 L438.69 38.83 L438.93 38.84 L439.17 39.28 L439.41 39.99 L439.65 40.72 L439.89 41.21 L440.13 41.28 L440.37 40.91 L440.6 40.24 L440.84 39.5 L441.08 38.96 L441.32 38.81 L441.56 39.1 L441.8 39.73 L442.04 40.47 L442.28 41.05 L442.52 41.28 L442.75 41.07 L442.99 40.5 L443.23 39.77 L443.47 39.14 L443.71 38.84 L443.95 38.97 L444.19 39.48" fill="none" stroke="#0000ff" stroke-width="1.47" stroke-linejoin="round" stroke-linecap="butt" />
<path d="M444.19 39.48 L444.43 40.2 L444.67 40.86 L444.9 41.23 L445.14 41.18 L445.38 40.73 L445.62 40.04 L445.86 39.35 L446.1 38.92 L446.34 38.89 L446.58 39.27 L446.82 39.93 L447.05 40.63 L447.29 41.12 L447.53 41.23 L447.77 40.91 L448.01 40.3 L448.25 39.59 L448.49 39.06 L448.73 38.87 L448.96 39.11 L449.2 39.68 L449.44 40.38 L449.68 40.96 L449.92 41.21 L450.16 41.05 L450.4 40.54 L450.64 39.85 L450.88 39.23 L451.11 38.91 L451.35 39 L451.59 39.46 L451.83 40.12 L452.07 40.76 L452.31 41.15 L452.55 41.14 L452.79 40.74 L453.03 40.1 L453.26 39.44 L453.5 39 L453.74 38.94 L453.98 39.27 L454.22 39.87 L454.46 40.54 L454.7 41.03 L454.94 41.17 L455.18 40.91 L455.41 40.35 L455.65 39.68 L455.89 39.14 L456.13 38.94 L456.37 39.12 L456.61 39.64 L456.85 40.3 L457.09 40.87 L457.33 41.15 L457.56 41.03 L457.8 40.57 L458.04 39.92 L458.28 39.32 L458.52 38.99 L458.76 39.03 L459 39.44 L459.24 40.06 L459.47 40.68" fill="none" stroke="#0000ff" stroke-width="1.5" stroke-linejoin="round" stroke-linecap="butt" />
<path d="M459.47 40.68 L459.71 41.07 L459.95 41.1 L460.19 40.75 L460.43 40.16 L460.67 39.53 L460.91 39.09 L461.15 38.99 L461.39 39.27 L461.62 39.82 L461.86 40.46 L462.1 40.95 L462.34 41.11 L462.58 40.9 L462.82 40.39 L463.06 39.75 L463.3 39.23 L463.54 39 L463.77 39.14 L464.01 39.61 L464.25 40.23 L464.49 40.79 L464.73 41.08 L464.97 41 L465.21 40.59 L465.45 39.99 L465.69 39.41 L465.92 39.06 L466.16 39.06 L466.4 39.42 L466.64 40 L466.88 40.6 L467.12 40.99 L467.36 41.06 L467.6 40.76 L467.84 40.21 L468.07 39.61 L468.31 39.16 L468.55 39.04 L468.79 39.27 L469.03 39.78 L469.27 40.38 L469.51 40.87 L469.75 41.06 L469.99 40.89 L470.22 40.42 L470.46 39.82 L470.7 39.31 L470.94 39.06 L471.18 39.16 L471.42 39.58 L471.66 40.17 L471.9 40.71 L472.13 41.01 L472.37 40.97 L472.61 40.61 L472.85 40.04 L473.09 39.48 L473.33 39.13 L473.57 39.1 L473.81 39.41 L474.05 39.95 L474.28 40.52 L474.52 40.92 L474.76 41.01" fill="none" stroke="#0000ff" stroke-width="1.5" stroke-linejoin="round" stroke-linecap="butt" />
<path d="M474.76 41.01 L475 40.76 L475.24 40.26 L475.48 39.68 L475.72 39.24 L475.96 39.09 L476.2 39.28 L476.43 39.74 L476.67 40.32 L476.91 40.79 L477.15 41 L477.39 40.87 L477.63 40.45 L477.87 39.89 L478.11 39.39 L478.35 39.12 L478.58 39.19 L478.82 39.56 L479.06 40.11 L479.3 40.63 L479.54 40.95 L479.78 40.94 L480.02 40.62 L480.26 40.1 L480.5 39.56 L480.73 39.2 L480.97 39.14 L481.21 39.41 L481.45 39.9 L481.69 40.45 L481.93 40.85 L482.17 40.97 L482.41 40.76 L482.65 40.3 L482.88 39.75 L483.12 39.31 L483.36 39.14 L483.6 39.29 L483.84 39.71 L484.08 40.25 L484.32 40.72 L484.56 40.95 L484.79 40.86 L485.03 40.48 L485.27 39.95 L485.51 39.46 L485.75 39.18 L485.99 39.21 L486.23 39.54 L486.47 40.05 L486.71 40.56 L486.94 40.88 L487.18 40.91 L487.42 40.63 L487.66 40.14 L487.9 39.63 L488.14 39.26 L488.38 39.18 L488.62 39.4 L488.86 39.86 L489.09 40.38 L489.33 40.78 L489.57 40.92 L489.81 40.75 L490.05 40.33" fill="none" stroke="#0000ff" stroke-width="1.5" stroke-linejoin="round" stroke-linecap="butt" />
<path d="M490.05 40.33 L490.29 39.81 L490.53 39.38 L490.77 39.19 L491.01 39.3 L491.24 39.68 L491.48 40.19 L491.72 40.65 L491.96 40.89 L492.2 40.83 L492.44 40.5 L492.68 40 L492.92 39.52 L493.16 39.24 L493.39 39.24 L493.63 39.53 L493.87 40 L494.11 40.49 L494.35 40.82 L494.59 40.88 L494.83 40.64 L495.07 40.19 L495.31 39.69 L495.54 39.32 L495.78 39.22 L496.02 39.41 L496.26 39.82 L496.5 40.32 L496.74 40.72 L496.98 40.88 L497.22 40.74 L497.45 40.36 L497.69 39.87 L497.93 39.44 L498.17 39.24 L498.41 39.32 L498.65 39.66 L498.89 40.14 L499.13 40.59 L499.37 40.84 L499.6 40.81 L499.84 40.51 L500.08 40.05 L500.32 39.59 L500.56 39.29 L500.8 39.27 L501.04 39.52 L501.28 39.96 L501.52 40.43 L501.75 40.77 L501.99 40.84 L502.23 40.64 L502.47 40.22 L502.71 39.75 L502.95 39.38 L503.19 39.26 L503.43 39.41 L503.67 39.79 L503.9 40.26 L504.14 40.66 L504.38 40.83 L504.62 40.73 L504.86 40.38 L505.1 39.92 L505.34 39.51" fill="none" stroke="#0000ff" stroke-width="1.5" stroke-linejoin="round" stroke-linecap="butt" />
<path d="M505.34 39.51 L505.58 39.28 L505.82 39.34 L506.05 39.64 L506.29 40.09 L506.53 40.53 L506.77 40.79 L507.01 40.79 L507.25 40.52 L507.49 40.09 L507.73 39.65 L507.97 39.35 L508.2 39.3 L508.44 39.52 L508.68 39.92 L508.92 40.37 L509.16 40.71 L509.4 40.81 L509.64 40.64 L509.88 40.26 L510.11 39.81 L510.35 39.44 L510.59 39.3 L510.83 39.42 L511.07 39.77 L511.31 40.21 L511.55 40.6 L511.79 40.79 L512.03 40.72 L512.26 40.41 L512.5 39.97 L512.74 39.56 L512.98 39.33 L513.22 39.36 L513.46 39.63 L513.7 40.05 L513.94 40.47 L514.18 40.74 L514.41 40.76 L514.65 40.53 L514.89 40.13 L515.13 39.7 L515.37 39.4 L515.61 39.33 L515.85 39.51 L516.09 39.89 L516.33 40.32 L516.56 40.65 L516.8 40.77 L517.04 40.63 L517.28 40.29 L517.52 39.86 L517.76 39.5 L518 39.34 L518.24 39.43 L518.48 39.74 L518.71 40.17 L518.95 40.54 L519.19 40.75 L519.43 40.7 L519.67 40.42 L519.91 40.01 L520.15 39.62 L520.39 39.38 L520.62 39.38" fill="none" stroke="#0000ff" stroke-width="1.5" stroke-linejoin="round" stroke-linecap="butt" />
<path d="M520.62 39.38 L520.86 39.62 L521.1 40.01 L521.34 40.41 L521.58 40.69 L521.82 40.73 L522.06 40.54 L522.3 40.17 L522.54 39.76 L522.77 39.45 L523.01 39.36 L523.25 39.52 L523.49 39.86 L523.73 40.27 L523.97 40.6 L524.21 40.73 L524.45 40.62 L524.69 40.31 L524.92 39.9 L525.16 39.55 L525.4 39.38 L525.64 39.44 L525.88 39.73 L526.12 40.12 L526.36 40.49 L526.6 40.7 L526.84 40.68 L527.07 40.44 L527.31 40.05 L527.55 39.67 L527.79 39.43 L528.03 39.4 L528.27 39.61 L528.51 39.97 L528.75 40.36 L528.99 40.64 L529.22 40.71 L529.46 40.54 L529.7 40.2 L529.94 39.81 L530.18 39.5 L530.42 39.39 L530.66 39.52 L530.9 39.83 L531.14 40.22 L531.37 40.55 L531.61 40.7 L531.85 40.61 L532.09 40.33 L532.33 39.95 L532.57 39.6 L532.81 39.42 L533.05 39.46 L533.28 39.71 L533.52 40.08 L533.76 40.44 L534 40.66 L534.24 40.66 L534.48 40.45 L534.72 40.09 L534.96 39.72 L535.2 39.47 L535.43 39.43 L535.67 39.61 L535.91 39.94" fill="none" stroke="#0000ff" stroke-width="1.5" stroke-linejoin="round" stroke-linecap="butt" />
<path d="M535.91 39.94 L536.15 40.32 L536.39 40.59 L536.63 40.68 L536.87 40.54 L537.11 40.22 L537.35 39.85 L537.58 39.55 L537.82 39.43 L538.06 39.53 L538.3 39.81 L538.54 40.18 L538.78 40.5 L539.02 40.66 L539.26 40.6 L539.5 40.35 L539.73 39.99 L539.97 39.65 L540.21 39.46 L540.45 39.47 L540.69 39.7 L540.93 40.05 L541.17 40.39 L541.41 40.62 L541.65 40.64 L541.88 40.45 L542.12 40.12 L542.36 39.77 L542.6 39.51 L542.84 39.45 L543.08 39.6 L543.32 39.91 L543.56 40.27 L543.8 40.55 L544.03 40.65 L544.27 40.53 L544.51 40.25 L544.75 39.89 L544.99 39.59 L545.23 39.46 L545.47 39.53 L545.71 39.79 L545.94 40.14 L546.18 40.46 L546.42 40.63 L546.66 40.59 L546.9 40.36 L547.14 40.02 L547.38 39.69 L547.62 39.49 L547.86 39.49 L548.09 39.69 L548.33 40.01 L548.57 40.35 L548.81 40.58 L549.05 40.62 L549.29 40.46 L549.53 40.15 L549.77 39.81 L550.01 39.55 L550.24 39.48 L550.48 39.6 L550.72 39.89 L550.96 40.23 L551.2 40.51" fill="none" stroke="#0000ff" stroke-width="1.5" stroke-linejoin="round" stroke-linecap="butt" />
<path d="M551.2 40.51 L551.44 40.62 L551.68 40.53 L551.92 40.27 L552.16 39.93 L552.39 39.64 L552.63 39.49 L552.87 39.54 L553.11 39.78 L553.35 40.11 L553.59 40.42 L553.83 40.59 L554.07 40.58 L554.31 40.37 L554.54 40.06 L554.78 39.74 L555.02 39.53 L555.26 39.51 L555.5 39.68 L555.74 39.98 L555.98 40.31 L556.22 40.54 L556.46 40.6 L556.69 40.46 L556.93 40.18 L557.17 39.85 L557.41 39.59 L557.65 39.5 L557.89 39.61 L558.13 39.87 L558.37 40.19 L558.6 40.47 L558.84 40.59 L559.08 40.52 L559.32 40.29 L559.56 39.97 L559.8 39.68 L560.04 39.52 L560.28 39.56 L560.52 39.76 L560.75 40.07 L560.99 40.37 L561.23 40.56 L561.47 40.56 L561.71 40.38 L561.95 40.08 L562.19 39.78 L562.43 39.57 L562.67 39.53 L562.9 39.68 L563.14 39.96 L563.38 40.27 L563.62 40.5 L563.86 40.57 L564.1 40.46 L564.34 40.2 L564.58 39.89 L564.82 39.63 L565.05 39.53 L565.29 39.61 L565.53 39.85 L565.77 40.16 L566.01 40.43 L566.25 40.56 L566.49 40.51" fill="none" stroke="#0000ff" stroke-width="1.5" stroke-linejoin="round" stroke-linecap="butt" />
<path d="M566.49 40.51 L566.73 40.3 L566.97 40 L567.2 39.72 L567.44 39.55 L567.68 39.57 L567.92 39.75 L568.16 40.04 L568.4 40.34 L568.64 40.52 L568.88 40.54 L569.12 40.39 L569.35 40.11 L569.59 39.81 L569.83 39.6 L570.07 39.55 L570.31 39.68 L570.55 39.93 L570.79 40.23 L571.03 40.47 L571.26 40.55 L571.5 40.46 L571.74 40.22 L571.98 39.92 L572.22 39.67 L572.46 39.56 L572.7 39.62 L572.94 39.83 L573.18 40.13 L573.41 40.39 L573.65 40.53 L573.89 40.5 L574.13 40.31 L574.37 40.03 L574.61 39.75 L574.85 39.59 L575.09 39.58 L575.33 39.75 L575.56 40.02 L575.8 40.3 L576.04 40.49 L576.28 40.53 L576.52 40.39 L576.76 40.14 L577 39.85 L577.24 39.64 L577.48 39.57 L577.71 39.68 L577.95 39.91 L578.19 40.2 L578.43 40.43 L578.67 40.53 L578.91 40.45 L579.15 40.24 L579.39 39.95 L579.63 39.71 L579.86 39.58 L580.1 39.63 L580.34 39.82 L580.58 40.1 L580.82 40.35 L581.06 40.5 L581.3 40.49 L581.54 40.32 L581.77 40.06" fill="none" stroke="#0000ff" stroke-width="1.5" stroke-linejoin="round" stroke-linecap="butt" />
<path d="M581.77 40.06 L582.01 39.79 L582.25 39.62 L582.49 39.6 L582.73 39.74 L582.97 39.99 L583.21 40.26 L583.45 40.46 L583.69 40.51 L583.92 40.39 L584.16 40.16 L584.4 39.88 L584.64 39.67 L584.88 39.59 L585.12 39.68 L585.36 39.9 L585.6 40.17 L585.84 40.4 L586.07 40.5 L586.31 40.45 L586.55 40.25 L586.79 39.98 L587.03 39.74 L587.27 39.61 L587.51 39.63 L587.75 39.81 L587.99 40.07 L588.22 40.32 L588.46 40.48 L588.7 40.48 L588.94 40.33 L589.18 40.08 L589.42 39.82 L589.66 39.65 L589.9 39.61 L590.14 39.74 L590.37 39.97 L590.61 40.23 L590.85 40.43 L591.09 40.49 L591.33 40.39 L591.57 40.18 L591.81 39.91 L592.05 39.7 L592.29 39.61 L592.52 39.68 L592.76 39.88 L593 40.14 L593.24 40.37 L593.48 40.48 L593.72 40.44 L593.96 40.26 L594.2 40.01 L594.43 39.77 L594.67 39.63 L594.91 39.64 L595.15 39.8 L595.39 40.04 L595.63 40.29 L595.87 40.45 L596.11 40.47 L596.35 40.34 L596.58 40.1 L596.82 39.85 L597.06 39.67" fill="none" stroke="#0000ff" stroke-width="1.5" stroke-linejoin="round" stroke-linecap="butt" />
<path d="M597.06 39.67 L597.3 39.63 L597.54 39.73 L597.78 39.95 L598.02 40.2 L598.26 40.4 L598.5 40.47 L598.73 40.39 L598.97 40.19 L599.21 39.94 L599.45 39.73 L599.69 39.63 L599.93 39.68 L600.17 39.87 L600.41 40.11 L600.65 40.33 L600.88 40.46 L601.12 40.43 L601.36 40.27 L601.6 40.03 L601.84 39.8 L602.08 39.66 L602.32 39.66 L602.56 39.79 L602.8 40.02 L603.03 40.26 L603.27 40.42 L603.51 40.45 L603.75 40.34 L603.99 40.12 L604.23 39.88 L604.47 39.7 L604.71 39.65 L604.95 39.73 L605.18 39.93 L605.42 40.17 L605.66 40.37 L605.9 40.45 L606.14 40.39 L606.38 40.21 L606.62 39.97 L606.86 39.76 L607.09 39.66 L607.33 39.69 L607.57 39.85 L607.81 40.09 L608.05 40.31 L608.29 40.43 L608.53 40.42 L608.77 40.28 L609.01 40.06 L609.24 39.83 L609.48 39.68 L609.72 39.67 L609.96 39.79 L610.2 40 L610.44 40.23 L610.68 40.4 L610.92 40.44 L611.16 40.34 L611.39 40.14 L611.63 39.91 L611.87 39.73 L612.11 39.66 L612.35 39.73" fill="none" stroke="#0000ff" stroke-width="1.5" stroke-linejoin="round" stroke-linecap="butt" />
<path d="M612.35 39.73 L612.59 39.92 L612.83 40.15 L613.07 40.34 L613.31 40.43 L613.54 40.39 L613.78 40.22 L614.02 39.99 L614.26 39.79 L614.5 39.68 L614.74 39.7 L614.98 39.84 L615.22 40.06 L615.46 40.28 L615.69 40.41 L615.93 40.41 L616.17 40.29 L616.41 40.08 L616.65 39.86 L616.89 39.71 L617.13 39.68 L617.37 39.78 L617.61 39.98 L617.84 40.2 L618.08 40.37 L618.32 40.42 L618.56 40.34 L618.8 40.16 L619.04 39.94 L619.28 39.76 L619.52 39.68 L619.75 39.74 L619.99 39.9 L620.23 40.12 L620.47 40.32 L620.71 40.41 L620.95 40.38 L621.19 40.23 L621.43 40.02 L621.67 39.82 L621.9 39.7 L622.14 39.71 L622.38 39.84 L622.62 40.04 L622.86 40.25 L623.1 40.39 L623.34 40.4 L623.58 40.29 L623.82 40.1 L624.05 39.89 L624.29 39.73 L624.53 39.69 L624.77 39.78 L625.01 39.96 L625.25 40.18 L625.49 40.35 L625.73 40.41 L625.97 40.34 L626.2 40.17 L626.44 39.96 L626.68 39.78 L626.92 39.7 L627.16 39.74 L627.4 39.89 L627.64 40.1" fill="none" stroke="#0000ff" stroke-width="1.5" stroke-linejoin="round" stroke-linecap="butt" />
<path d="M627.64 40.1 L627.88 40.29 L628.12 40.39 L628.35 40.38 L628.59 40.24 L628.83 40.04 L629.07 39.84 L629.31 39.72 L629.55 39.71 L629.79 39.83 L630.03 40.02 L630.27 40.23 L630.5 40.37 L630.74 40.39 L630.98 40.3 L631.22 40.11 L631.46 39.91 L631.7 39.76 L631.94 39.71 L632.18 39.78 L632.41 39.95 L632.65 40.15 L632.89 40.32 L633.13 40.39 L633.37 40.34 L633.61 40.19 L633.85 39.98 L634.09 39.8 L634.33 39.71 L634.56 39.74 L634.8 39.88 L635.04 40.08 L635.28 40.27 L635.52 40.38 L635.76 40.37 L636 40.25 L636.24 40.06 L636.48 39.87 L636.71 39.74 L636.95 39.72 L637.19 39.82 L637.43 40.01 L637.67 40.2 L637.91 40.34 L638.15 40.38 L638.39 40.3 L638.63 40.13 L638.86 39.93 L639.1 39.78 L639.34 39.72 L639.58 39.78 L639.82 39.94 L640.06 40.13 L640.3 40.3 L640.54 40.38 L640.78 40.34 L641.01 40.2 L641.25 40 L641.49 39.83 L641.73 39.73 L641.97 39.75 L642.21 39.87 L642.45 40.06 L642.69 40.24 L642.92 40.36" fill="none" stroke="#0000ff" stroke-width="1.5" stroke-linejoin="round" stroke-linecap="butt" />
<path d="M642.92 40.36 L643.16 40.36 L643.4 40.25 L643.64 40.08 L643.88 39.89 L644.12 39.76 L644.36 39.73 L644.6 39.82 L644.84 39.99 L645.07 40.18 L645.31 40.32 L645.55 40.37 L645.79 40.3 L646.03 40.14 L646.27 39.95 L646.51 39.8 L646.75 39.73 L646.99 39.78 L647.22 39.92 L647.46 40.11 L647.7 40.28 L647.94 40.36 L648.18 40.33 L648.42 40.21 L648.66 40.02 L648.9 39.85 L649.14 39.75 L649.37 39.75 L649.61 39.87 L649.85 40.04 L650.09 40.22 L650.33 40.34 L650.57 40.35 L650.81 40.26 L651.05 40.09 L651.29 39.91 L651.52 39.78 L651.76 39.74 L652 39.82 L652.24 39.97 L652.48 40.16 L652.72 40.3 L652.96 40.36 L653.2 40.3 L653.44 40.16 L653.67 39.98 L653.91 39.82 L654.15 39.75 L654.39 39.78 L654.63 39.91 L654.87 40.09 L655.11 40.25 L655.35 40.34 L655.58 40.33 L655.82 40.21 L656.06 40.04 L656.3 39.87 L656.54 39.77 L656.78 39.76 L657.02 39.86 L657.26 40.03 L657.5 40.2 L657.73 40.32 L657.97 40.34 L658.21 40.26" fill="none" stroke="#0000ff" stroke-width="1.5" stroke-linejoin="round" stroke-linecap="butt" />
<path d="M658.21 40.26 L658.45 40.11 L658.69 39.93 L658.93 39.8 L659.17 39.75 L659.41 39.82 L659.65 39.96 L659.88 40.14 L660.12 40.28 L660.36 40.34 L660.6 40.3 L660.84 40.17 L661.08 39.99 L661.32 39.84 L661.56 39.76 L661.8 39.79 L662.03 39.9 L662.27 40.07 L662.51 40.23 L662.75 40.33 L662.99 40.32 L663.23 40.22 L663.47 40.06 L663.71 39.89 L663.95 39.78 L664.18 39.77 L664.42 39.86 L664.66 40.01 L664.9 40.18 L665.14 40.3 L665.38 40.33 L665.62 40.27 L665.86 40.12 L666.1 39.95 L666.33 39.82 L666.57 39.77 L666.81 39.82 L667.05 39.95 L667.29 40.12 L667.53 40.26 L667.77 40.33 L668.01 40.3 L668.24 40.18 L668.48 40.01 L668.72 39.86 L668.96 39.78 L669.2 39.79 L669.44 39.9 L669.68 40.06 L669.92 40.21 L670.16 40.31 L670.39 40.32 L670.63 40.23 L670.87 40.07 L671.11 39.91 L671.35 39.8 L671.59 39.78 L671.83 39.85 L672.07 40 L672.31 40.16 L672.54 40.28 L672.78 40.32 L673.02 40.27 L673.26 40.13 L673.5 39.97" fill="none" stroke="#0000ff" stroke-width="1.5" stroke-linejoin="round" stroke-linecap="butt" />
<path d="M62.3 138.5 L62.5 137.39 L62.7 136.28 L62.9 135.18 L63.1 134.1 L63.3 133.04 L63.5 132.01 L63.7 131.02 L63.9 130.06 L64.1 129.14 L64.3 128.27 L64.5 127.46 L64.7 126.7 L64.9 126 L65.1 125.36 L65.3 124.79 L65.5 124.3 L65.7 123.87 L65.9 123.52 L66.1 123.24 L66.3 123.04 L66.5 122.92 L66.7 122.88 L66.7 122.88 L66.95 122.74 L67.2 122.67 L67.45 122.67 L67.7 122.75 L67.95 122.9 L68.2 123.13 L68.45 123.44 L68.7 123.84 L68.95 124.32 L69.2 124.88 L69.45 125.52 L69.7 126.23 L69.95 127.02 L70.2 127.89 L70.45 128.81 L70.7 129.8 L70.95 130.85 L71.2 131.94 L71.45 133.07 L71.7 134.24 L71.95 135.43 L72.2 136.64 L72.45 137.85 L72.7 139.06 L72.95 140.26 L73.2 141.44 L73.45 142.58 L73.7 143.68 L73.95 144.73 L74.2 145.72 L74.45 146.63 L74.7 147.46 L74.95 148.2 L75.2 148.84 L75.45 149.23 L75.7 149.4 L75.95 149.45 L76.2 149.38 L76.45 149.19 L76.7 148.88 L76.95 148.46 L77.2 147.92 L77.45 147.26 L77.7 146.5 L77.95 145.64 L78.2 144.68 L78.45 143.63 L78.7 142.49 L78.95 141.28 L79.2 140 L79.45 138.65 L79.7 137.26 L79.95 135.82 L80.2 134.35 L80.45 132.86 L80.7 131.35 L80.95 129.85 L81.2 128.34 L81.45 126.86 L81.7 125.4 L81.95 123.98 L82.2 122.6 L82.45 121.28 L82.7 120.02 L82.95 118.84 L83.2 117.74 L83.45 116.73 L83.7 115.81 L83.95 114.99 L84.2 114.28 L84.45 113.69 L84.7 113.21 L84.95 112.85 L85.2 112.62 L85.45 112.51 L85.7 112.61 L85.95 112.86 L86.2 113.22 L86.45 113.71 L86.7 114.31 L86.95 115.02 L87.2 115.83 L87.45 116.74 L87.7 117.74 L87.95 118.82 L88.2 119.97 L88.45 121.19 L88.7 122.47 L88.95 123.79 L89.2 125.15 L89.45 126.55 L89.7 127.95 L89.95 129.37 L90.2 130.79 L90.45 132.2 L90.7 133.59 L90.95 134.95 L91.2 136.28 L91.45 137.55 L91.7 138.78 L91.95 139.94 L92.2 141.03 L92.45 142.05 L92.7 142.99 L92.95 143.84 L93.2 144.6 L93.45 145.26 L93.7 145.82 L93.95 146.28 L94.2 146.63 L94.45 146.88 L94.7 147.03 L94.95 147.06 L95.2 146.99 L95.45 146.81 L95.7 146.53 L95.95 146.14 L96.2 145.67 L96.45 145.1 L96.7 144.45 L96.95 143.72 L97.2 142.92 L97.45 142.05 L97.7 141.11 L97.95 140.13 L98.2 139.1 L98.45 138.04 L98.7 136.94 L98.95 135.82 L99.2 134.69 L99.45 133.55 L99.7 132.41 L99.95 131.28 L100.2 130.16 L100.45 129.07 L100.7 128.02 L100.95 127 L101.2 126.02 L101.45 125.09 L101.7 124.22 L101.95 123.41 L102.2 122.67 L102.45 122 L102.7 121.4 L102.95 120.88 L103.2 120.43 L103.45 120.07 L103.7 119.79 L103.95 119.59 L104.2 119.47 L104.45 119.44 L104.7 119.48 L104.95 119.61 L105.2 119.73 L105.45 119.92 L105.7 120.17 L105.95 120.51 L106.2 120.91 L106.45 121.39 L106.7 121.93 L106.95 122.54 L107.2 123.21 L107.45 123.93 L107.7 124.7 L107.95 125.52 L108.2 126.38 L108.45 127.27 L108.7 128.19 L108.95 129.13 L109.2 130.09 L109.45 131.06 L109.7 132.03 L109.95 133 L110.2 133.96 L110.45 134.9 L110.7 135.82 L110.95 136.71 L111.2 137.56 L111.45 138.38 L111.7 139.15 L111.95 139.87 L112.2 140.53 L112.45 141.13 L112.7 141.67 L112.95 142.14 L113.2 142.54 L113.45 142.86 L113.7 143.11 L113.95 143.28 L114.2 143.37 L114.45 143.39 L114.7 143.32 L114.95 143.14 L115.2 142.87 L115.45 142.52 L115.7 142.11 L115.95 141.62 L116.2 141.07 L116.45 140.46 L116.7 139.79 L116.95 139.07 L117.2 138.31 L117.45 137.5 L117.7 136.66 L117.95 135.79 L118.2 134.9 L118.45 133.99 L118.7 133.07 L118.95 132.15 L119.2 131.23 L119.45 130.31 L119.7 129.41 L119.95 128.53 L120.2 127.67 L120.45 126.85 L120.7 126.06 L120.95 125.32 L121.2 124.62 L121.45 123.97 L121.7 123.38 L121.95 122.84 L122.2 122.37 L122.45 121.95 L122.7 121.61 L122.95 121.33 L123.2 121.13 L123.45 120.99 L123.7 120.92 L123.95 120.93 L124.2 121 L124.45 121.13 L124.7 121.31 L124.95 121.54 L125.2 121.85 L125.45 122.22 L125.7 122.65 L125.95 123.13 L126.2 123.68 L126.45 124.27 L126.7 124.91 L126.95 125.6 L127.2 126.32 L127.45 127.07 L127.7 127.86 L127.95 128.66 L128.2 129.49 L128.45 130.33 L128.7 131.17 L128.95 132.02 L129.2 132.86 L129.45 133.69 L129.7 134.5 L129.95 135.3 L130.2 136.06 L130.45 136.8 L130.7 137.5 L130.95 138.16 L131.2 138.77 L131.45 139.34 L131.7 139.85 L131.95 140.3 L132.2 140.69 L132.45 141.03 L132.7 141.29 L132.95 141.5 L133.2 141.63 L133.45 141.7 L133.7 141.69 L133.95 141.62 L134.2 141.46 L134.45 141.22 L134.7 140.92 L134.95 140.56 L135.2 140.14 L135.45 139.66 L135.7 139.13 L135.95 138.56 L136.2 137.94 L136.45 137.28 L136.7 136.59 L136.95 135.86 L137.2 135.11 L137.45 134.35 L137.7 133.56 L137.95 132.77 L138.2 131.98 L138.45 131.19 L138.7 130.4 L138.95 129.63 L139.2 128.87 L139.45 128.14 L139.7 127.43 L139.95 126.76 L140.2 126.12 L140.45 125.52 L140.7 124.96 L140.95 124.45 L141.2 123.99 L141.45 123.59 L141.7 123.24 L141.95 122.94 L142.2 122.71 L142.45 122.53 L142.7 122.42 L142.95 122.37 L143.2 122.37 L143.45 122.43 L143.7 122.53 L143.95 122.68 L144.2 122.89 L144.45 123.16 L144.7 123.49 L144.95 123.86 L145.2 124.29 L145.45 124.76 L145.7 125.28 L145.95 125.83 L146.2 126.43 L146.45 127.06 L146.7 127.71 L146.95 128.39 L147.2 129.09 L147.45 129.81 L147.7 130.53 L147.95 131.26 L148.2 131.99 L148.45 132.72 L148.7 133.44 L148.95 134.14 L149.2 134.82 L149.45 135.48 L149.7 136.12 L149.95 136.72 L150.2 137.29 L150.45 137.81 L150.7 138.3 L150.95 138.73 L151.2 139.12 L151.45 139.46 L151.7 139.74 L151.95 139.97 L152.2 140.13 L152.45 140.25 L152.7 140.3 L152.95 140.29 L153.2 140.19 L153.45 140.03 L153.7 139.81 L153.95 139.54 L154.2 139.21 L154.45 138.84 L154.7 138.42 L154.95 137.95 L155.2 137.45 L155.45 136.91 L155.7 136.34 L155.95 135.75 L156.2 135.13 L156.45 134.49 L156.7 133.83 L156.95 133.17 L157.2 132.5 L157.45 131.83 L157.7 131.17 L157.95 130.51 L158.2 129.87 L158.45 129.24 L158.7 128.63 L158.95 128.05 L159.2 127.5 L159.45 126.98 L159.7 126.49 L159.95 126.05 L160.2 125.64 L160.45 125.27 L160.7 124.95 L160.95 124.68 L161.2 124.46 L161.45 124.28 L161.7 124.16 L161.95 124.08 L162.2 124.05 L162.45 124.08 L162.7 124.13 L162.95 124.21 L163.2 124.34 L163.45 124.52 L163.7 124.74 L163.95 125.01 L164.2 125.31 L164.45 125.66 L164.7 126.05 L164.95 126.47 L165.2 126.93 L165.45 127.41 L165.7 127.92 L165.95 128.46 L166.2 129.01 L166.45 129.58 L166.7 130.16 L166.95 130.74 L167.2 131.33 L167.45 131.93 L167.7 132.51 L167.95 133.09 L168.2 133.66 L168.45 134.21 L168.7 134.75 L168.95 135.26 L169.2 135.74 L169.45 136.2 L169.7 136.62 L169.95 137.01 L170.2 137.36 L170.45 137.67 L170.7 137.94 L170.95 138.16 L171.2 138.34 L171.45 138.47 L171.7 138.56 L171.95 138.6 L172.2 138.56 L172.45 138.47 L172.7 138.33 L172.95 138.14 L173.2 137.92 L173.45 137.65 L173.7 137.34 L173.95 137 L174.2 136.62 L174.45 136.21 L174.7 135.78 L174.95 135.32 L175.2 134.84 L175.45 134.34 L175.7 133.82 L175.95 133.3 L176.2 132.77 L176.45 132.24 L176.7 131.7 L176.95 131.17 L177.2 130.65 L177.45 130.14 L177.7 129.65 L177.95 129.17 L178.2 128.71 L178.45 128.27 L178.7 127.87 L178.95 127.49 L179.2 127.14 L179.45 126.82 L179.7 126.54 L179.95 126.3 L180.2 126.09 L180.45 125.92 L180.7 125.79 L180.95 125.7 L181.2 125.64 L181.45 125.63 L181.7 125.66 L181.95 125.72 L182.2 125.8 L182.45 125.91 L182.7 126.05 L182.95 126.23 L183.2 126.45 L183.45 126.7 L183.7 126.98 L183.95 127.28 L184.2 127.61 L184.45 127.97 L184.7 128.35 L184.95 128.75 L185.2 129.17 L185.45 129.59 L185.7 130.03 L185.95 130.48 L186.2 130.93 L186.45 131.39 L186.7 131.84 L186.95 132.29 L187.2 132.73 L187.45 133.16 L187.7 133.58 L187.95 133.98 L188.2 134.36 L188.45 134.73 L188.7 135.07 L188.95 135.38 L189.2 135.67 L189.45 135.93 L189.7 136.15 L189.95 136.35 L190.2 136.51 L190.45 136.63 L190.7 136.72 L190.95 136.78 L191.2 136.8 L191.45 136.78 L191.7 136.73 L191.95 136.65 L192.2 136.53 L192.45 136.37 L192.7 136.18 L192.95 135.96 L193.2 135.72 L193.45 135.44 L193.7 135.13 L193.95 134.81 L194.2 134.46 L194.45 134.09 L194.7 133.7 L194.95 133.3 L195.2 132.89 L195.45 132.47 L195.7 132.04 L195.95 131.61 L196.2 131.18 L196.45 130.75 L196.7 130.33 L196.95 129.91 L197.2 129.51 L197.45 129.12 L197.7 128.75 L197.95 128.39 L198.2 128.06 L198.45 127.74 L198.7 127.46 L198.95 127.2 L199.2 126.97 L199.45 126.77 L199.7 126.6 L199.95 126.46 L200.2 126.36 L200.45 126.29 L200.7 126.25 L200.95 126.25 L201.2 126.28 L201.45 126.35 L201.7 126.45 L201.95 126.58 L202.2 126.75 L202.45 126.95 L202.7 127.17 L202.95 127.42 L203.2 127.7 L203.45 128 L203.7 128.33 L203.95 128.67 L204.2 129.03 L204.45 129.41 L204.7 129.8 L204.95 130.2 L205.2 130.6 L205.45 131.01 L205.7 131.42 L205.95 131.83 L206.2 132.24 L206.45 132.64 L206.7 133.03 L206.95 133.4 L207.2 133.77 L207.45 134.11 L207.7 134.44 L207.95 134.75 L208.2 135.03 L208.45 135.29 L208.7 135.53 L208.95 135.73 L209.2 135.9 L209.45 136.05 L209.7 136.16 L209.95 136.24 L210.2 136.29 L210.45 136.31 L210.7 136.29 L210.95 136.24 L211.2 136.16 L211.45 136.05 L211.7 135.9 L211.95 135.73 L212.2 135.53 L212.45 135.3 L212.7 135.05 L212.95 134.77 L213.2 134.47 L213.45 134.15 L213.7 133.81 L213.95 133.46 L214.2 133.1 L214.45 132.72 L214.7 132.34 L214.95 131.95 L215.2 131.56 L215.45 131.17 L215.7 130.78 L215.95 130.4 L216.2 130.02 L216.45 129.66 L216.7 129.31 L216.95 128.97 L217.2 128.65 L217.45 128.35 L217.7 128.07 L217.95 127.81 L218.2 127.58 L218.45 127.37 L218.7 127.19 L218.95 127.04 L219.2 126.92 L219.45 126.83 L219.7 126.77 L219.95 126.74 L220.2 126.74 L220.45 126.78 L220.7 126.84 L220.95 126.93 L221.2 127.06 L221.45 127.21 L221.7 127.39 L221.95 127.59 L222.2 127.82 L222.45 128.08 L222.7 128.35 L222.95 128.65 L223.2 128.96 L223.45 129.29 L223.7 129.63 L223.95 129.98 L224.2 130.34 L224.45 130.71 L224.7 131.08 L224.95 131.45 L225.2 131.82 L225.45 132.18 L225.7 132.54 L225.95 132.89 L226.2 133.23 L226.45 133.56 L226.7 133.87 L226.95 134.17 L227.2 134.44 L227.45 134.69 L227.7 134.93 L227.95 135.13 L228.2 135.31 L228.45 135.47 L228.7 135.6 L228.95 135.7 L229.2 135.77 L229.45 135.81 L229.7 135.82 L229.95 135.8 L230.2 135.75 L230.45 135.68 L230.7 135.57 L230.95 135.44 L231.2 135.28 L231.45 135.1 L231.7 134.89 L231.95 134.66 L232.2 134.41 L232.45 134.14 L232.7 133.85 L232.95 133.54 L233.2 133.23 L233.45 132.9 L233.7 132.56 L233.95 132.22 L234.2 131.87 L234.45 131.52 L234.7 131.17 L234.95 130.82 L235.2 130.47 L235.45 130.14 L235.7 129.81 L235.95 129.5 L236.2 129.2 L236.45 128.91 L236.7 128.64 L236.95 128.39 L237.2 128.17 L237.45 127.96 L237.7 127.78 L237.95 127.62 L238.2 127.49 L238.45 127.38 L238.7 127.3 L238.95 127.25 L239.2 127.23 L239.45 127.23 L239.7 127.27 L239.95 127.33 L240.2 127.41 L240.45 127.53 L240.7 127.66 L240.95 127.83 L241.2 128.01 L241.45 128.22 L241.7 128.45 L241.95 128.7 L242.2 128.96 L242.45 129.24 L242.7 129.54 L242.95 129.84 L243.2 130.16 L243.45 130.48 L243.7 130.81 L243.95 131.14 L244.2 131.47 L244.45 131.8 L244.7 132.12 L244.95 132.44 L245.2 132.76 L245.45 133.06 L245.7 133.35 L245.95 133.62 L246.2 133.88 L246.45 134.13 L246.7 134.35 L246.95 134.55 L247.2 134.74 L247.45 134.89 L247.7 135.03 L247.95 135.14 L248.2 135.23 L248.45 135.29 L248.7 135.32 L248.95 135.33 L249.2 135.31 L249.45 135.26 L249.7 135.19 L249.95 135.1 L250.2 134.98 L250.45 134.83 L250.7 134.67 L250.95 134.48 L251.2 134.27 L251.45 134.05 L251.7 133.81 L251.95 133.55 L252.2 133.28 L252.45 133 L252.7 132.7 L252.95 132.4 L253.2 132.1 L253.45 131.79 L253.7 131.48 L253.95 131.17 L254.2 130.86 L254.45 130.56 L254.7 130.26 L254.95 129.97 L255.2 129.7 L255.45 129.43 L255.7 129.18 L255.95 128.94 L256.2 128.73 L256.45 128.53 L256.7 128.35 L256.95 128.19 L257.2 128.05 L257.45 127.94 L257.7 127.85 L257.95 127.78 L258.2 127.74 L258.45 127.72 L258.7 127.73 L258.95 127.76 L259.2 127.81 L259.45 127.89 L259.7 127.99 L259.95 128.12 L260.2 128.26 L260.45 128.43 L260.7 128.62 L260.95 128.82 L261.2 129.04 L261.45 129.28 L261.7 129.52 L261.95 129.78 L262.2 130.05 L262.45 130.33 L262.7 130.61 L262.95 130.9 L263.2 131.19 L263.45 131.48 L263.7 131.77 L263.95 132.06 L264.2 132.34 L264.45 132.61 L264.7 132.88 L264.95 133.13 L265.2 133.37 L265.45 133.6 L265.7 133.81 L265.95 134 L266.2 134.18 L266.45 134.34 L266.7 134.47 L266.95 134.59 L267.2 134.68 L267.45 134.75 L267.7 134.8 L267.95 134.83 L268.2 134.83 L268.45 134.82 L268.7 134.77 L268.95 134.71 L269.2 134.62 L269.45 134.52 L269.7 134.39 L269.95 134.24 L270.2 134.08 L270.45 133.89 L270.7 133.7 L270.95 133.48 L271.2 133.26 L271.45 133.02 L271.7 132.77 L271.95 132.52 L272.2 132.25 L272.45 131.99 L272.7 131.72 L272.95 131.45 L273.2 131.18 L273.45 130.91 L273.7 130.65 L273.95 130.39 L274.2 130.14 L274.45 129.9 L274.7 129.67 L274.95 129.45 L275.2 129.25 L275.45 129.06 L275.7 128.89 L275.95 128.74 L276.2 128.6 L276.45 128.48 L276.7 128.39 L276.95 128.31 L277.2 128.26 L277.45 128.22 L277.7 128.21 L277.95 128.22 L278.2 128.25 L278.45 128.3 L278.7 128.37 L278.95 128.46 L279.2 128.57 L279.45 128.7 L279.7 128.84 L279.95 129.01 L280.2 129.18 L280.45 129.38 L280.7 129.58 L280.95 129.8 L281.2 130.02 L281.45 130.26 L281.7 130.5 L281.95 130.74 L282.2 130.99 L282.45 131.24 L282.7 131.49 L282.95 131.74 L283.2 131.99 L283.45 132.23 L283.7 132.46 L283.95 132.69 L284.2 132.9 L284.45 133.11 L284.7 133.3 L284.95 133.48 L285.2 133.65 L285.45 133.8 L285.7 133.93 L285.95 134.05 L286.2 134.14 L286.45 134.22 L286.7 134.28 L286.95 134.32 L287.2 134.34 L287.45 134.34 L287.7 134.32 L287.95 134.29 L288.2 134.23 L288.45 134.15 L288.7 134.06 L288.95 133.95 L289.2 133.82 L289.45 133.68 L289.7 133.52 L289.95 133.35 L290.2 133.16 L290.45 132.97 L290.7 132.77 L290.95 132.55 L291.2 132.33 L291.45 132.11 L291.7 131.88 L291.95 131.65 L292.2 131.42 L292.45 131.19 L292.7 130.96 L292.95 130.74 L293.2 130.52 L293.45 130.31 L293.7 130.11 L293.95 129.91 L294.2 129.73 L294.45 129.56 L294.7 129.4 L294.95 129.26 L295.2 129.13 L295.45 129.02 L295.7 128.92 L295.95 128.84 L296.2 128.78 L296.45 128.73 L296.7 128.71 L296.95 128.7 L297.2 128.71 L297.45 128.73 L297.7 128.78 L297.95 128.84 L298.2 128.92 L298.45 129.01 L298.7 129.12 L298.95 129.25 L299.2 129.39 L299.45 129.54 L299.7 129.7 L299.95 129.87 L300.2 130.06 L300.45 130.25 L300.7 130.45 L300.95 130.65 L301.2 130.86 L301.45 131.07 L301.7 131.28 L301.95 131.5 L302.2 131.71 L302.45 131.91 L302.7 132.12 L302.95 132.32 L303.2 132.51 L303.45 132.69 L303.7 132.86 L303.95 133.03 L304.2 133.18 L304.45 133.32 L304.7 133.44 L304.95 133.55 L305.2 133.65 L305.45 133.73 L305.7 133.8 L305.95 133.85 L306.2 133.88 L306.45 133.9 L306.7 133.9 L306.95 133.88 L307.2 133.84 L307.45 133.79 L307.7 133.73 L307.95 133.65 L308.2 133.55 L308.45 133.44 L308.7 133.32 L308.95 133.19 L309.2 133.04 L309.45 132.88 L309.7 132.72 L309.95 132.54 L310.2 132.36 L310.45 132.18 L310.7 131.99 L310.95 131.79 L311.2 131.6 L311.45 131.4 L311.7 131.21 L311.95 131.01 L312.2 130.82 L312.45 130.64 L312.7 130.46 L312.95 130.29 L313.2 130.13 L313.45 129.97 L313.7 129.83 L313.95 129.69 L314.2 129.57 L314.45 129.46 L314.7 129.37 L314.95 129.29 L315.2 129.22 L315.45 129.17 L315.7 129.13 L315.95 129.11 L316.2 129.1 L316.45 129.11 L316.7 129.14 L316.95 129.18 L317.2 129.23 L317.45 129.3 L317.7 129.38 L317.95 129.48 L318.2 129.58 L318.45 129.7 L318.7 129.83 L318.95 129.97 L319.2 130.12 L319.45 130.28 L319.7 130.44 L319.95 130.61 L320.2 130.78 L320.45 130.96 L320.7 131.14 L320.95 131.32 L321.2 131.49 L321.45 131.67 L321.7 131.85 L321.95 132.02 L322.2 132.18 L322.45 132.34 L322.7 132.5 L322.95 132.64 L323.2 132.78 L323.45 132.9 L323.7 133.02 L323.95 133.12 L324.2 133.22 L324.45 133.3 L324.7 133.36 L324.95 133.42 L325.2 133.46 L325.45 133.48 L325.7 133.49 L325.95 133.49 L326.2 133.47 L326.45 133.44 L326.7 133.4 L326.95 133.34 L327.2 133.27 L327.45 133.19 L327.7 133.1 L327.95 133 L328.2 132.88 L328.45 132.76 L328.7 132.63 L328.95 132.49 L329.2 132.34 L329.45 132.19 L329.7 132.03 L329.95 131.88 L330.2 131.71 L330.45 131.55 L330.7 131.39 L330.95 131.23 L331.2 131.07 L331.45 130.91 L331.7 130.76 L331.95 130.61 L332.2 130.47 L332.45 130.33 L332.7 130.21 L332.95 130.09 L333.2 129.98 L333.45 129.88 L333.7 129.79 L333.95 129.72 L334.2 129.65 L334.45 129.6 L334.7 129.56 L334.95 129.53 L335.2 129.51 L335.45 129.51 L335.7 129.52 L335.95 129.54 L336.2 129.58 L336.45 129.62 L336.7 129.68 L336.95 129.75 L337.2 129.83 L337.45 129.92 L337.7 130.02 L337.95 130.12 L338.2 130.24 L338.45 130.36 L338.7 130.49 L338.95 130.63 L339.2 130.76 L339.45 130.91 L339.7 131.05 L339.95 131.2 L340.2 131.34 L340.45 131.49 L340.7 131.63 L340.95 131.78 L341.2 131.91 L341.45 132.05 L341.7 132.18 L341.95 132.3 L342.2 132.42 L342.45 132.53 L342.7 132.63 L342.95 132.72 L343.2 132.8 L343.45 132.88 L343.7 132.94 L343.95 132.99 L344.2 133.03 L344.45 133.06 L344.7 133.08 L344.95 133.09 L345.2 133.08 L345.45 133.07 L345.7 133.04 L345.95 133.01 L346.2 132.96 L346.45 132.9 L346.7 132.83 L346.95 132.76 L347.2 132.67 L347.45 132.58 L347.7 132.48 L347.95 132.37 L348.2 132.26 L348.45 132.14 L348.7 132.02 L348.95 131.9 L349.2 131.77 L349.45 131.64 L349.7 131.51 L349.95 131.38 L350.2 131.25 L350.45 131.12 L350.7 131 L350.95 130.88 L351.2 130.76 L351.45 130.65 L351.7 130.55 L351.95 130.45 L352.2 130.35 L352.45 130.27 L352.7 130.19 L352.95 130.13 L353.2 130.07 L353.45 130.02 L353.7 129.98 L353.95 129.95 L354.2 129.93 L354.45 129.92 L354.7 129.91 L354.95 129.92 L355.2 129.94 L355.45 129.97 L355.7 130.01 L355.95 130.06 L356.2 130.11 L356.45 130.18 L356.7 130.25 L356.95 130.33 L357.2 130.41 L357.45 130.5 L357.7 130.6 L357.95 130.7 L358.2 130.81 L358.45 130.92 L358.7 131.03 L358.95 131.14 L359.2 131.25 L359.45 131.36 L359.7 131.48 L359.95 131.59 L360.2 131.7 L360.45 131.8 L360.7 131.91 L360.95 132.01 L361.2 132.1 L361.45 132.19 L361.7 132.27 L361.95 132.35 L362.2 132.42 L362.45 132.48 L362.7 132.53 L362.95 132.58 L363.2 132.62 L363.45 132.65 L363.7 132.67 L363.95 132.68 L364.2 132.68 L364.45 132.68 L364.7 132.67 L364.95 132.64 L365.2 132.61 L365.45 132.58 L365.7 132.53 L365.95 132.48 L366.2 132.42 L366.45 132.35 L366.7 132.28 L366.95 132.21 L367.2 132.12 L367.45 132.04 L367.7 131.95 L367.95 131.86 L368.2 131.76 L368.45 131.67 L368.7 131.57 L368.95 131.47 L369.2 131.38 L369.45 131.28 L369.7 131.19 L369.95 131.1 L370.2 131.01 L370.45 130.92 L370.7 130.84 L370.95 130.76 L371.2 130.69 L371.45 130.62 L371.7 130.56 L371.95 130.51 L372.2 130.46 L372.45 130.42 L372.7 130.38 L372.95 130.36 L373.2 130.33 L373.45 130.32 L373.7 130.31 L373.95 130.3 L374.2 130.31 L374.45 130.32 L374.7 130.34 L374.95 130.37 L375.2 130.4 L375.45 130.44 L375.7 130.49 L375.95 130.54 L376.2 130.59 L376.45 130.66 L376.7 130.73 L376.95 130.8 L377.2 130.87 L377.45 130.95 L377.7 131.03 L377.95 131.12 L378.2 131.21 L378.45 131.29 L378.7 131.38 L378.95 131.47 L379.2 131.55 L379.45 131.64 L379.7 131.72 L379.95 131.81 L380.2 131.88 L380.45 131.96 L380.7 132.03 L380.95 132.1 L381.2 132.16 L381.45 132.22 L381.7 132.27 L381.95 132.32 L382.2 132.35 L382.45 132.39 L382.7 132.41 L382.95 132.43 L383.2 132.45 L383.45 132.45 L383.7 132.45 L383.95 132.44 L384.2 132.43 L384.45 132.4 L384.7 132.38 L384.95 132.34 L385.2 132.3 L385.45 132.25 L385.7 132.2 L385.95 132.14 L386.2 132.08 L386.45 132.01 L386.7 131.94 L386.95 131.86 L387.2 131.79 L387.45 131.71 L387.7 131.63 L387.95 131.54 L388.2 131.46 L388.45 131.37 L388.7 131.29 L388.95 131.21 L389.2 131.13 L389.45 131.05 L389.7 130.97 L389.95 130.9 L390.2 130.83 L390.45 130.76 L390.7 130.7 L390.95 130.64 L391.2 130.59 L391.45 130.54 L391.7 130.5 L391.95 130.47 L392.2 130.44 L392.45 130.42 L392.7 130.4 L392.95 130.39 L393.2 130.39 L393.45 130.4 L393.7 130.41 L393.95 130.43 L394.2 130.45 L394.45 130.48 L394.7 130.52 L394.95 130.56 L395.2 130.61 L395.45 130.66 L395.7 130.72 L395.95 130.79 L396.2 130.85 L396.45 130.92 L396.7 130.99 L396.95 131.07 L397.2 131.15 L397.45 131.23 L397.7 131.31 L397.95 131.39 L398.2 131.47 L398.45 131.55 L398.7 131.63 L398.95 131.7 L399.2 131.78 L399.45 131.85 L399.7 131.92 L399.95 131.98 L400.2 132.05 L400.45 132.1 L400.7 132.15 L400.95 132.2 L401.2 132.24 L401.45 132.28 L401.7 132.31 L401.95 132.33 L402.2 132.35 L402.45 132.36 L402.7 132.36 L402.95 132.36 L403.2 132.35 L403.45 132.34 L403.7 132.32 L403.95 132.29 L404.2 132.26 L404.45 132.22 L404.7 132.18 L404.95 132.13 L405.2 132.07 L405.45 132.02 L405.7 131.95 L405.95 131.89 L406.2 131.82 L406.45 131.75 L406.7 131.68 L406.95 131.6 L407.2 131.52 L407.45 131.45 L407.7 131.37 L407.95 131.29 L408.2 131.22 L408.45 131.14 L408.7 131.07 L408.95 131 L409.2 130.93 L409.45 130.87 L409.7 130.81 L409.95 130.75 L410.2 130.7 L410.45 130.65 L410.7 130.61 L410.95 130.58 L411.2 130.55 L411.45 130.52 L411.7 130.5 L411.95 130.49 L412.2 130.48 L412.45 130.48 L412.7 130.48 L412.95 130.5 L413.2 130.51 L413.45 130.54 L413.7 130.57 L413.95 130.6 L414.2 130.64 L414.45 130.68 L414.7 130.73 L414.95 130.79 L415.2 130.84 L415.45 130.9 L415.7 130.97 L415.95 131.04 L416.2 131.11 L416.45 131.18 L416.7 131.25 L416.95 131.32 L417.2 131.39 L417.45 131.47 L417.7 131.54 L417.95 131.61 L418.2 131.68 L418.45 131.75 L418.7 131.82 L418.95 131.88 L419.2 131.94 L419.45 131.99 L419.7 132.04 L419.95 132.09 L420.2 132.13 L420.45 132.17 L420.7 132.2 L420.95 132.23 L421.2 132.25 L421.45 132.26 L421.7 132.27 L421.95 132.28 L422.2 132.27 L422.45 132.27 L422.7 132.25 L422.95 132.23 L423.2 132.21 L423.45 132.18 L423.7 132.14 L423.95 132.1 L424.2 132.06 L424.45 132.01 L424.7 131.96 L424.95 131.9 L425.2 131.84 L425.45 131.78 L425.7 131.71 L425.95 131.64 L426.2 131.58 L426.45 131.51 L426.7 131.44 L426.95 131.37 L427.2 131.3 L427.45 131.23 L427.7 131.16 L427.95 131.1 L428.2 131.03 L428.45 130.97 L428.7 130.91 L428.95 130.86 L429.2 130.81 L429.45 130.76 L429.7 130.72 L429.95 130.68 L430.2 130.65 L430.45 130.62 L430.7 130.6 L430.95 130.58 L431.2 130.57 L431.45 130.57 L431.7 130.57 L431.95 130.57 L432.2 130.58 L432.45 130.6 L432.7 130.62 L432.95 130.65 L433.2 130.68 L433.45 130.71 L433.7 130.76 L433.95 130.8 L434.2 130.85 L434.45 130.9 L434.7 130.96 L434.95 131.02 L435.2 131.08 L435.45 131.14 L435.7 131.2 L435.95 131.27 L436.2 131.33 L436.45 131.4 L436.7 131.47 L436.95 131.53 L437.2 131.6 L437.45 131.66 L437.7 131.72 L437.95 131.78 L438.2 131.84 L438.45 131.89 L438.7 131.94 L438.95 131.98 L439.2 132.03 L439.45 132.06 L439.7 132.1 L439.95 132.12 L440.2 132.15 L440.45 132.17 L440.7 132.18 L440.95 132.19 L441.2 132.19 L441.45 132.19 L441.7 132.18 L441.95 132.17 L442.2 132.15 L442.45 132.13 L442.7 132.1 L442.95 132.07 L443.2 132.03 L443.45 131.99 L443.7 131.94 L443.95 131.9 L444.2 131.84 L444.45 131.79 L444.7 131.73 L444.95 131.67 L445.2 131.61 L445.45 131.55 L445.7 131.49 L445.95 131.43 L446.2 131.37 L446.45 131.3 L446.7 131.24 L446.95 131.18 L447.2 131.12 L447.45 131.07 L447.7 131.01 L447.95 130.96 L448.2 130.91 L448.45 130.87 L448.7 130.83 L448.95 130.79 L449.2 130.76 L449.45 130.73 L449.7 130.7 L449.95 130.68 L450.2 130.67 L450.45 130.66 L450.7 130.65 L450.95 130.65 L451.2 130.66 L451.45 130.67 L451.7 130.68 L451.95 130.7 L452.2 130.72 L452.45 130.75 L452.7 130.79 L452.95 130.82 L453.2 130.86 L453.45 130.91 L453.7 130.95 L453.95 131 L454.2 131.06 L454.45 131.11 L454.7 131.17 L454.95 131.23 L455.2 131.29 L455.45 131.35 L455.7 131.41 L455.95 131.47 L456.2 131.52 L456.45 131.58 L456.7 131.64 L456.95 131.7 L457.2 131.75 L457.45 131.8 L457.7 131.85 L457.95 131.89 L458.2 131.94 L458.45 131.97 L458.7 132.01 L458.95 132.04 L459.2 132.06 L459.45 132.09 L459.7 132.1 L459.95 132.11 L460.2 132.12 L460.45 132.12 L460.7 132.12 L460.95 132.11 L461.2 132.1 L461.45 132.09 L461.7 132.06 L461.95 132.04 L462.2 132.01 L462.45 131.98 L462.7 131.94 L462.95 131.9 L463.2 131.85 L463.45 131.81 L463.7 131.76 L463.95 131.7 L464.2 131.65 L464.45 131.59 L464.7 131.54 L464.95 131.48 L465.2 131.42 L465.45 131.36 L465.7 131.31 L465.95 131.25 L466.2 131.19 L466.45 131.14 L466.7 131.09 L466.95 131.04 L467.2 130.99 L467.45 130.94 L467.7 130.9 L467.95 130.86 L468.2 130.83 L468.45 130.8 L468.7 130.77 L468.95 130.75 L469.2 130.73 L469.45 130.71 L469.7 130.71 L469.95 130.7 L470.2 130.7 L470.45 130.71 L470.7 130.72 L470.95 130.73 L471.2 130.75 L471.45 130.77 L471.7 130.8 L471.95 130.83 L472.2 130.86 L472.45 130.9 L472.7 130.94 L472.95 130.99 L473.2 131.03 L473.45 131.08 L473.7 131.13 L473.95 131.19 L474.2 131.24 L474.45 131.3 L474.7 131.35 L474.95 131.41 L475.2 131.47 L475.45 131.52 L475.7 131.58 L475.95 131.63 L476.2 131.68 L476.45 131.73 L476.7 131.78 L476.95 131.82 L477.2 131.86 L477.45 131.9 L477.7 131.94 L477.95 131.97 L478.2 132 L478.45 132.02 L478.7 132.04 L478.95 132.06 L479.2 132.07 L479.45 132.07 L479.7 132.08 L479.95 132.07 L480.2 132.07 L480.45 132.05 L480.7 132.04 L480.95 132.02 L481.2 131.99 L481.45 131.97 L481.7 131.93 L481.95 131.9 L482.2 131.86 L482.45 131.82 L482.7 131.77 L482.95 131.73 L483.2 131.68 L483.45 131.63 L483.7 131.58 L483.95 131.52 L484.2 131.47 L484.45 131.42 L484.7 131.36 L484.95 131.31 L485.2 131.25 L485.45 131.2 L485.7 131.15 L485.95 131.1 L486.2 131.06 L486.45 131.01 L486.7 130.97 L486.95 130.93 L487.2 130.9 L487.45 130.86 L487.7 130.84 L487.95 130.81 L488.2 130.79 L488.45 130.77 L488.7 130.76 L488.95 130.75 L489.2 130.75 L489.45 130.75 L489.7 130.75 L489.95 130.76 L490.2 130.78 L490.45 130.79 L490.7 130.82 L490.95 130.84 L491.2 130.87 L491.45 130.9 L491.7 130.94 L491.95 130.98 L492.2 131.02 L492.45 131.06 L492.7 131.11 L492.95 131.16 L493.2 131.21 L493.45 131.26 L493.7 131.31 L493.95 131.36 L494.2 131.41 L494.45 131.47 L494.7 131.52 L494.95 131.57 L495.2 131.62 L495.45 131.66 L495.7 131.71 L495.95 131.75 L496.2 131.8 L496.45 131.83 L496.7 131.87 L496.95 131.9 L497.2 131.93 L497.45 131.96 L497.7 131.98 L497.95 132 L498.2 132.01 L498.45 132.02 L498.7 132.03 L498.95 132.03 L499.2 132.02 L499.45 132.02 L499.7 132.01 L499.95 131.99 L500.2 131.97 L500.45 131.95 L500.7 131.92 L500.95 131.89 L501.2 131.86 L501.45 131.82 L501.7 131.79 L501.95 131.74 L502.2 131.7 L502.45 131.66 L502.7 131.61 L502.95 131.56 L503.2 131.51 L503.45 131.46 L503.7 131.41 L503.95 131.36 L504.2 131.31 L504.45 131.26 L504.7 131.21 L504.95 131.17 L505.2 131.12 L505.45 131.08 L505.7 131.04 L505.95 131 L506.2 130.96 L506.45 130.93 L506.7 130.9 L506.95 130.87 L507.2 130.85 L507.45 130.83 L507.7 130.82 L507.95 130.81 L508.2 130.8 L508.45 130.8 L508.7 130.8 L508.95 130.8 L509.2 130.81 L509.45 130.82 L509.7 130.84 L509.95 130.86 L510.2 130.88 L510.45 130.91 L510.7 130.94 L510.95 130.98 L511.2 131.01 L511.45 131.05 L511.7 131.09 L511.95 131.13 L512.2 131.18 L512.45 131.22 L512.7 131.27 L512.95 131.32 L513.2 131.37 L513.45 131.42 L513.7 131.46 L513.95 131.51 L514.2 131.56 L514.45 131.6 L514.7 131.65 L514.95 131.69 L515.2 131.73 L515.45 131.77 L515.7 131.8 L515.95 131.84 L516.2 131.87 L516.45 131.89 L516.7 131.92 L516.95 131.94 L517.2 131.95 L517.45 131.97 L517.7 131.97 L517.95 131.98 L518.2 131.98 L518.45 131.98 L518.7 131.97 L518.95 131.96 L519.2 131.94 L519.45 131.93 L519.7 131.91 L519.95 131.88 L520.2 131.85 L520.45 131.82 L520.7 131.79 L520.95 131.75 L521.2 131.71 L521.45 131.67 L521.7 131.63 L521.95 131.59 L522.2 131.54 L522.45 131.5 L522.7 131.45 L522.95 131.41 L523.2 131.36 L523.45 131.31 L523.7 131.27 L523.95 131.22 L524.2 131.18 L524.45 131.14 L524.7 131.1 L524.95 131.06 L525.2 131.03 L525.45 130.99 L525.7 130.96 L525.95 130.94 L526.2 130.91 L526.45 130.89 L526.7 130.88 L526.95 130.86 L527.2 130.85 L527.45 130.85 L527.7 130.84 L527.95 130.85 L528.2 130.85 L528.45 130.86 L528.7 130.87 L528.95 130.89 L529.2 130.91 L529.45 130.93 L529.7 130.95 L529.95 130.98 L530.2 131.01 L530.45 131.05 L530.7 131.08 L530.95 131.12 L531.2 131.16 L531.45 131.2 L531.7 131.24 L531.95 131.29 L532.2 131.33 L532.45 131.37 L532.7 131.42 L532.95 131.46 L533.2 131.51 L533.45 131.55 L533.7 131.59 L533.95 131.63 L534.2 131.67 L534.45 131.71 L534.7 131.74 L534.95 131.78 L535.2 131.81 L535.45 131.83 L535.7 131.86 L535.95 131.88 L536.2 131.9 L536.45 131.91 L536.7 131.92 L536.95 131.93 L537.2 131.94 L537.45 131.94 L537.7 131.93 L537.95 131.93 L538.2 131.92 L538.45 131.9 L538.7 131.89 L538.95 131.87 L539.2 131.84 L539.45 131.82 L539.7 131.79 L539.95 131.76 L540.2 131.73 L540.45 131.69 L540.7 131.65 L540.95 131.61 L541.2 131.57 L541.45 131.53 L541.7 131.49 L541.95 131.45 L542.2 131.4 L542.45 131.36 L542.7 131.32 L542.95 131.27 L543.2 131.23 L543.45 131.19 L543.7 131.15 L543.95 131.12 L544.2 131.08 L544.45 131.05 L544.7 131.02 L544.95 130.99 L545.2 130.97 L545.45 130.94 L545.7 130.93 L545.95 130.91 L546.2 130.9 L546.45 130.89 L546.7 130.88 L546.95 130.88 L547.2 130.88 L547.45 130.89 L547.7 130.89 L547.95 130.9 L548.2 130.92 L548.45 130.94 L548.7 130.96 L548.95 130.98 L549.2 131.01 L549.45 131.04 L549.7 131.07 L549.95 131.1 L550.2 131.14 L550.45 131.18 L550.7 131.21 L550.95 131.25 L551.2 131.3 L551.45 131.34 L551.7 131.38 L551.95 131.42 L552.2 131.46 L552.45 131.5 L552.7 131.54 L552.95 131.58 L553.2 131.62 L553.45 131.66 L553.7 131.69 L553.95 131.72 L554.2 131.76 L554.45 131.78 L554.7 131.81 L554.95 131.83 L555.2 131.85 L555.45 131.87 L555.7 131.88 L555.95 131.89 L556.2 131.9 L556.45 131.9 L556.7 131.9 L556.95 131.9 L557.2 131.89 L557.45 131.88 L557.7 131.87 L557.95 131.86 L558.2 131.84 L558.45 131.82 L558.7 131.79 L558.95 131.76 L559.2 131.73 L559.45 131.7 L559.7 131.67 L559.95 131.63 L560.2 131.6 L560.45 131.56 L560.7 131.52 L560.95 131.48 L561.2 131.44 L561.45 131.4 L561.7 131.36 L561.95 131.32 L562.2 131.28 L562.45 131.24 L562.7 131.2 L562.95 131.17 L563.2 131.13 L563.45 131.1 L563.7 131.07 L563.95 131.04 L564.2 131.02 L564.45 130.99 L564.7 130.97 L564.95 130.95 L565.2 130.94 L565.45 130.93 L565.7 130.92 L565.95 130.91 L566.2 130.91 L566.45 130.91 L566.7 130.92 L566.95 130.93 L567.2 130.94 L567.45 130.95 L567.7 130.97 L567.95 130.99 L568.2 131.01 L568.45 131.04 L568.7 131.06 L568.95 131.09 L569.2 131.13 L569.45 131.16 L569.7 131.19 L569.95 131.23 L570.2 131.27 L570.45 131.31 L570.7 131.34 L570.95 131.38 L571.2 131.42 L571.45 131.46 L571.7 131.5 L571.95 131.54 L572.2 131.57 L572.45 131.61 L572.7 131.64 L572.95 131.68 L573.2 131.71 L573.45 131.73 L573.7 131.76 L573.95 131.78 L574.2 131.8 L574.45 131.82 L574.7 131.84 L574.95 131.85 L575.2 131.86 L575.45 131.87 L575.7 131.87 L575.95 131.87 L576.2 131.87 L576.45 131.86 L576.7 131.85 L576.95 131.84 L577.2 131.82 L577.45 131.81 L577.7 131.79 L577.95 131.76 L578.2 131.74 L578.45 131.71 L578.7 131.68 L578.95 131.65 L579.2 131.61 L579.45 131.58 L579.7 131.54 L579.95 131.51 L580.2 131.47 L580.45 131.43 L580.7 131.4 L580.95 131.36 L581.2 131.32 L581.45 131.28 L581.7 131.25 L581.95 131.21 L582.2 131.18 L582.45 131.15 L582.7 131.12 L582.95 131.09 L583.2 131.06 L583.45 131.04 L583.7 131.02 L583.95 131 L584.2 130.98 L584.45 130.97 L584.7 130.96 L584.95 130.95 L585.2 130.95 L585.45 130.95 L585.7 130.95 L585.95 130.95 L586.2 130.96 L586.45 130.97 L586.7 130.98 L586.95 131 L587.2 131.02 L587.45 131.04 L587.7 131.06 L587.95 131.09 L588.2 131.12 L588.45 131.15 L588.7 131.18 L588.95 131.21 L589.2 131.24 L589.45 131.28 L589.7 131.31 L589.95 131.35 L590.2 131.39 L590.45 131.42 L590.7 131.46 L590.95 131.5 L591.2 131.53 L591.45 131.56 L591.7 131.6 L591.95 131.63 L592.2 131.66 L592.45 131.69 L592.7 131.71 L592.95 131.74 L593.2 131.76 L593.45 131.78 L593.7 131.79 L593.95 131.81 L594.2 131.82 L594.45 131.83 L594.7 131.83 L594.95 131.84 L595.2 131.84 L595.45 131.83 L595.7 131.83 L595.95 131.82 L596.2 131.81 L596.45 131.79 L596.7 131.78 L596.95 131.76 L597.2 131.73 L597.45 131.71 L597.7 131.68 L597.95 131.66 L598.2 131.63 L598.45 131.6 L598.7 131.56 L598.95 131.53 L599.2 131.5 L599.45 131.46 L599.7 131.43 L599.95 131.39 L600.2 131.36 L600.45 131.32 L600.7 131.29 L600.95 131.26 L601.2 131.22 L601.45 131.19 L601.7 131.16 L601.95 131.14 L602.2 131.11 L602.45 131.09 L602.7 131.06 L602.95 131.04 L603.2 131.03 L603.45 131.01 L603.7 131 L603.95 130.99 L604.2 130.98 L604.45 130.98 L604.7 130.98 L604.95 130.98 L605.2 130.99 L605.45 130.99 L605.7 131 L605.95 131.02 L606.2 131.03 L606.45 131.05 L606.7 131.07 L606.95 131.09 L607.2 131.11 L607.45 131.14 L607.7 131.17 L607.95 131.2 L608.2 131.23 L608.45 131.26 L608.7 131.29 L608.95 131.32 L609.2 131.36 L609.45 131.39 L609.7 131.42 L609.95 131.46 L610.2 131.49 L610.45 131.52 L610.7 131.55 L610.95 131.58 L611.2 131.61 L611.45 131.64 L611.7 131.67 L611.95 131.69 L612.2 131.71 L612.45 131.73 L612.7 131.75 L612.95 131.77 L613.2 131.78 L613.45 131.79 L613.7 131.8 L613.95 131.8 L614.2 131.8 L614.45 131.8 L614.7 131.8 L614.95 131.79 L615.2 131.79 L615.45 131.77 L615.7 131.76 L615.95 131.75 L616.2 131.73 L616.45 131.71 L616.7 131.68 L616.95 131.66 L617.2 131.64 L617.45 131.61 L617.7 131.58 L617.95 131.55 L618.2 131.52 L618.45 131.49 L618.7 131.46 L618.95 131.42 L619.2 131.39 L619.45 131.36 L619.7 131.33 L619.95 131.3 L620.2 131.27 L620.45 131.24 L620.7 131.21 L620.95 131.18 L621.2 131.16 L621.45 131.13 L621.7 131.11 L621.95 131.09 L622.2 131.07 L622.45 131.06 L622.7 131.04 L622.95 131.03 L623.2 131.02 L623.45 131.02 L623.7 131.01 L623.95 131.01 L624.2 131.02 L624.45 131.02 L624.7 131.03 L624.95 131.04 L625.2 131.05 L625.45 131.06 L625.7 131.08 L625.95 131.1 L626.2 131.12 L626.45 131.14 L626.7 131.16 L626.95 131.19 L627.2 131.22 L627.45 131.24 L627.7 131.27 L627.95 131.3 L628.2 131.33 L628.45 131.36 L628.7 131.39 L628.95 131.42 L629.2 131.46 L629.45 131.49 L629.7 131.52 L629.95 131.54 L630.2 131.57 L630.45 131.6 L630.7 131.62 L630.95 131.65 L631.2 131.67 L631.45 131.69 L631.7 131.71 L631.95 131.72 L632.2 131.74 L632.45 131.75 L632.7 131.76 L632.95 131.76 L633.2 131.77 L633.45 131.77 L633.7 131.77 L633.95 131.77 L634.2 131.76 L634.45 131.75 L634.7 131.74 L634.95 131.73 L635.2 131.72 L635.45 131.7 L635.7 131.68 L635.95 131.66 L636.2 131.64 L636.45 131.61 L636.7 131.59 L636.95 131.56 L637.2 131.53 L637.45 131.51 L637.7 131.48 L637.95 131.45 L638.2 131.42 L638.45 131.39 L638.7 131.36 L638.95 131.33 L639.2 131.3 L639.45 131.27 L639.7 131.25 L639.95 131.22 L640.2 131.2 L640.45 131.17 L640.7 131.15 L640.95 131.13 L641.2 131.11 L641.45 131.1 L641.7 131.08 L641.95 131.07 L642.2 131.06 L642.45 131.06 L642.7 131.05 L642.95 131.05 L643.2 131.05 L643.45 131.05 L643.7 131.05 L643.95 131.06 L644.2 131.07 L644.45 131.08 L644.7 131.09 L644.95 131.11 L645.2 131.12 L645.45 131.14 L645.7 131.16 L645.95 131.19 L646.2 131.21 L646.45 131.23 L646.7 131.26 L646.95 131.29 L647.2 131.31 L647.45 131.34 L647.7 131.37 L647.95 131.4 L648.2 131.43 L648.45 131.45 L648.7 131.48 L648.95 131.51 L649.2 131.53 L649.45 131.56 L649.7 131.58 L649.95 131.61 L650.2 131.63 L650.45 131.65 L650.7 131.66 L650.95 131.68 L651.2 131.69 L651.45 131.71 L651.7 131.72 L651.95 131.73 L652.2 131.73 L652.45 131.74 L652.7 131.74 L652.95 131.74 L653.2 131.73 L653.45 131.73 L653.7 131.72 L653.95 131.71 L654.2 131.7 L654.45 131.69 L654.7 131.67 L654.95 131.65 L655.2 131.63 L655.45 131.61 L655.7 131.59 L655.95 131.57 L656.2 131.55 L656.45 131.52 L656.7 131.49 L656.95 131.47 L657.2 131.44 L657.45 131.42 L657.7 131.39 L657.95 131.36 L658.2 131.34 L658.45 131.31 L658.7 131.28 L658.95 131.26 L659.2 131.24 L659.45 131.21 L659.7 131.19 L659.95 131.17 L660.2 131.16 L660.45 131.14 L660.7 131.13 L660.95 131.11 L661.2 131.1 L661.45 131.09 L661.7 131.09 L661.95 131.08 L662.2 131.08 L662.45 131.08 L662.7 131.08 L662.95 131.09 L663.2 131.09 L663.45 131.1 L663.7 131.11 L663.95 131.12 L664.2 131.14 L664.45 131.15 L664.7 131.17 L664.95 131.19 L665.2 131.21 L665.45 131.23 L665.7 131.25 L665.95 131.27 L666.2 131.3 L666.45 131.32 L666.7 131.35 L666.95 131.37 L667.2 131.4 L667.45 131.42 L667.7 131.45 L667.95 131.47 L668.2 131.5 L668.45 131.52 L668.7 131.54 L668.95 131.57 L669.2 131.59 L669.45 131.61 L669.7 131.62 L669.95 131.64 L670.2 131.65 L670.45 131.67 L670.7 131.68 L670.95 131.69 L671.2 131.69 L671.45 131.7 L671.7 131.7 L671.95 131.7 L672.2 131.7 L672.45 131.7 L672.7 131.69 L672.95 131.69 L673.2 131.68 L673.45 131.67 L673.7 131.66" fill="none" stroke="#0000ff" stroke-width="2.8" stroke-linejoin="round" stroke-linecap="butt" />
<path d="M62.9 200.3 L63.17 200.95 L63.51 201.74 L63.91 202.64 L64.36 203.65 L64.85 204.76 L65.37 205.96 L65.9 207.23 L66.45 208.56 L66.99 209.94 L67.52 211.37 L68.03 212.83 L68.5 214.3 L68.95 215.87 L69.4 217.59 L69.85 219.44 L70.29 221.37 L70.73 223.35 L71.17 225.35 L71.61 227.33 L72.05 229.27 L72.49 231.11 L72.93 232.84 L73.36 234.42 L73.8 235.8 L74.24 237.04 L74.67 238.22 L75.1 239.31 L75.54 240.32 L75.97 241.25 L76.4 242.09 L76.83 242.83 L77.26 243.48 L77.7 244.02 L78.13 244.46 L78.56 244.79 L79 245 L79.43 245.1 L79.86 245.08 L80.28 244.96 L80.7 244.73 L81.12 244.39 L81.54 243.96 L81.97 243.44 L82.4 242.82 L82.85 242.11 L83.32 241.32 L83.8 240.45 L84.3 239.5 L84.82 238.41 L85.37 237.15 L85.93 235.74 L86.51 234.22 L87.1 232.6 L87.69 230.93 L88.3 229.23 L88.9 227.53 L89.51 225.85 L90.11 224.24 L90.71 222.71 L91.3 221.3 L91.87 219.96 L92.43 218.63 L92.98 217.32 L93.53 216.04 L94.07 214.78 L94.62 213.56 L95.18 212.37 L95.75 211.24 L96.35 210.16 L96.97 209.14 L97.62 208.18 L98.3 207.3 L99.02 206.48 L99.76 205.7 L100.52 204.97 L101.3 204.29 L102.1 203.66 L102.92 203.09 L103.77 202.58 L104.62 202.13 L105.5 201.75 L106.38 201.43 L107.29 201.18 L108.2 201 L109.14 200.92 L110.1 200.94 L111.09 201.06 L112.09 201.26 L113.12 201.53 L114.15 201.84 L115.19 202.18 L116.24 202.55 L117.29 202.92 L118.33 203.28 L119.37 203.61 L120.4 203.9 L121.42 204.16 L122.44 204.4 L123.47 204.64 L124.49 204.88 L125.52 205.12 L126.54 205.38 L127.57 205.64 L128.6 205.93 L129.62 206.24 L130.65 206.59 L131.67 206.97 L132.7 207.4 L133.72 207.87 L134.72 208.37 L135.71 208.9 L136.7 209.46 L137.69 210.05 L138.68 210.66 L139.68 211.3 L140.7 211.95 L141.74 212.62 L142.79 213.3 L143.88 214 L145 214.7 L146.17 215.44 L147.4 216.23 L148.68 217.07 L149.99 217.93 L151.31 218.81 L152.64 219.7 L153.97 220.58 L155.27 221.43 L156.54 222.26 L157.76 223.03 L158.92 223.75 L160 224.4 L161.01 224.98 L161.96 225.51 L162.85 225.99 L163.7 226.43 L164.52 226.83 L165.31 227.21 L166.09 227.57 L166.85 227.92 L167.62 228.26 L168.39 228.6 L169.18 228.94 L170 229.3 L170.83 229.66 L171.67 230.02 L172.5 230.36 L173.33 230.7 L174.17 231.04 L175 231.36 L175.83 231.68 L176.67 232 L177.5 232.3 L178.33 232.61 L179.17 232.91 L180 233.2 L180.83 233.49 L181.67 233.77 L182.5 234.05 L183.33 234.33 L184.17 234.59 L185 234.86 L185.83 235.11 L186.67 235.36 L187.5 235.61 L188.33 235.84 L189.17 236.08 L190 236.3 L190.83 236.52 L191.67 236.73 L192.5 236.94 L193.33 237.14 L194.17 237.33 L195 237.52 L195.83 237.7 L196.67 237.87 L197.5 238.04 L198.33 238.2 L199.17 238.35 L200 238.5 L200.83 238.64 L201.67 238.78 L202.5 238.91 L203.33 239.04 L204.17 239.17 L205 239.28 L205.83 239.39 L206.67 239.48 L207.5 239.56 L208.33 239.62 L209.17 239.67 L210 239.7 L210.83 239.71 L211.67 239.71 L212.5 239.69 L213.33 239.66 L214.17 239.62 L215 239.56 L215.83 239.49 L216.67 239.41 L217.5 239.32 L218.33 239.23 L219.17 239.12 L220 239 L220.83 238.87 L221.67 238.73 L222.5 238.57 L223.33 238.4 L224.17 238.22 L225 238.03 L225.83 237.84 L226.67 237.63 L227.5 237.43 L228.33 237.22 L229.17 237.01 L230 236.8 L230.83 236.59 L231.67 236.37 L232.5 236.15 L233.33 235.92 L234.17 235.69 L235 235.46 L235.83 235.22 L236.67 234.98 L237.5 234.74 L238.33 234.49 L239.17 234.25 L240 234 L240.83 233.75 L241.67 233.51 L242.5 233.26 L243.33 233.01 L244.17 232.75 L245 232.5 L245.83 232.24 L246.67 231.98 L247.5 231.72 L248.33 231.45 L249.17 231.18 L250 230.9 L250.83 230.62 L251.67 230.32 L252.5 230.03 L253.33 229.72 L254.17 229.42 L255 229.11 L255.83 228.8 L256.67 228.49 L257.5 228.18 L258.33 227.88 L259.17 227.59 L260 227.3 L260.83 227.02 L261.67 226.74 L262.5 226.47 L263.33 226.2 L264.17 225.93 L265 225.67 L265.83 225.41 L266.67 225.14 L267.5 224.88 L268.33 224.62 L269.17 224.36 L270 224.1 L270.83 223.84 L271.67 223.57 L272.5 223.3 L273.33 223.04 L274.17 222.77 L275 222.51 L275.83 222.24 L276.67 221.99 L277.5 221.73 L278.33 221.48 L279.17 221.24 L280 221 L280.82 220.77 L281.61 220.56 L282.38 220.35 L283.15 220.15 L283.91 219.95 L284.69 219.76 L285.48 219.56 L286.3 219.36 L287.15 219.16 L288.04 218.95 L288.99 218.73 L290 218.5 L291.06 218.26 L292.15 218 L293.28 217.74 L294.44 217.46 L295.64 217.19 L296.88 216.91 L298.14 216.63 L299.44 216.35 L300.78 216.07 L302.15 215.81 L303.56 215.55 L305 215.3 L306.49 215.06 L308.04 214.81 L309.65 214.57 L311.3 214.32 L312.98 214.08 L314.69 213.85 L316.41 213.63 L318.15 213.41 L319.88 213.21 L321.61 213.02 L323.32 212.85 L325 212.7 L326.62 212.56 L328.17 212.43 L329.68 212.31 L331.16 212.19 L332.64 212.09 L334.14 212.01 L335.7 211.94 L337.32 211.89 L339.04 211.85 L340.87 211.84 L342.85 211.86 L345 211.9 L347.3 211.97 L349.74 212.07 L352.28 212.2 L354.94 212.35 L357.69 212.52 L360.52 212.71 L363.43 212.91 L366.4 213.12 L369.42 213.34 L372.48 213.56 L375.58 213.78 L378.7 214 L381.91 214.23 L385.27 214.47 L388.76 214.73 L392.32 214.99 L395.94 215.27 L399.58 215.54 L403.21 215.82 L406.79 216.1 L410.29 216.36 L413.68 216.62 L416.93 216.87 L420 217.1 L422.9 217.31 L425.65 217.51 L428.29 217.7 L430.84 217.89 L433.3 218.06 L435.71 218.23 L438.07 218.4 L440.42 218.57 L442.76 218.74 L445.13 218.92 L447.54 219.11 L450 219.3 L452.48 219.5 L454.94 219.69 L457.39 219.88 L459.82 220.08 L462.25 220.27 L464.69 220.47 L467.15 220.68 L469.64 220.9 L472.16 221.13 L474.72 221.37 L477.33 221.63 L480 221.9 L482.73 222.2 L485.5 222.54 L488.31 222.9 L491.16 223.28 L494.04 223.67 L496.96 224.07 L499.9 224.46 L502.86 224.84 L505.85 225.2 L508.85 225.54 L511.87 225.84 L514.9 226.1 L517.95 226.33 L521.04 226.53 L524.16 226.72 L527.31 226.88 L530.47 227.03 L533.66 227.16 L536.85 227.27 L540.05 227.36 L543.25 227.44 L546.44 227.51 L549.63 227.56 L552.8 227.6 L555.95 227.62 L559.08 227.63 L562.21 227.62 L565.32 227.59 L568.44 227.55 L571.56 227.49 L574.7 227.42 L577.86 227.33 L581.04 227.24 L584.25 227.13 L587.5 227.02 L590.8 226.9 L594.15 226.77 L597.54 226.64 L600.98 226.49 L604.45 226.34 L607.95 226.17 L611.46 225.99 L614.99 225.8 L618.51 225.6 L622.04 225.37 L625.55 225.13 L629.04 224.88 L632.5 224.6 L636.07 224.28 L639.85 223.91 L643.76 223.5 L647.74 223.07 L651.71 222.61 L655.61 222.16 L659.36 221.71 L662.9 221.28 L666.15 220.88 L669.05 220.53 L671.52 220.23 L673.5 220" fill="none" stroke="#0000ff" stroke-width="2.4" stroke-linejoin="round" stroke-linecap="butt" />
<path d="M62.5 292.6 L62.87 292.83 L63.34 293.13 L63.91 293.47 L64.54 293.86 L65.22 294.28 L65.94 294.73 L66.67 295.19 L67.41 295.65 L68.12 296.12 L68.81 296.57 L69.44 297 L70 297.4 L70.5 297.78 L70.98 298.14 L71.43 298.49 L71.85 298.83 L72.26 299.18 L72.66 299.52 L73.04 299.87 L73.43 300.22 L73.81 300.59 L74.2 300.97 L74.59 301.38 L75 301.8 L75.4 302.23 L75.78 302.65 L76.13 303.07 L76.48 303.5 L76.83 303.93 L77.19 304.39 L77.56 304.87 L77.96 305.38 L78.4 305.93 L78.88 306.53 L79.41 307.19 L80 307.9 L80.66 308.69 L81.38 309.57 L82.15 310.52 L82.96 311.53 L83.81 312.57 L84.69 313.64 L85.58 314.71 L86.48 315.79 L87.38 316.83 L88.28 317.85 L89.15 318.81 L90 319.7 L90.83 320.54 L91.67 321.37 L92.5 322.18 L93.33 322.96 L94.17 323.73 L95 324.47 L95.83 325.19 L96.67 325.88 L97.5 326.55 L98.33 327.19 L99.17 327.81 L100 328.4 L100.84 328.96 L101.7 329.5 L102.56 330.01 L103.43 330.5 L104.29 330.96 L105.16 331.4 L106.01 331.81 L106.85 332.2 L107.68 332.56 L108.48 332.9 L109.25 333.21 L110 333.5 L110.7 333.76 L111.34 334 L111.93 334.21 L112.5 334.4 L113.05 334.57 L113.59 334.71 L114.15 334.82 L114.72 334.91 L115.33 334.97 L115.99 335.01 L116.71 335.02 L117.5 335 L118.37 334.95 L119.32 334.86 L120.33 334.74 L121.39 334.59 L122.48 334.41 L123.59 334.21 L124.72 334 L125.83 333.77 L126.93 333.53 L128 333.28 L129.03 333.04 L130 332.8 L130.92 332.55 L131.81 332.29 L132.68 332.02 L133.52 331.74 L134.34 331.44 L135.16 331.14 L135.96 330.84 L136.76 330.53 L137.56 330.22 L138.36 329.91 L139.17 329.6 L140 329.3 L140.83 329 L141.67 328.7 L142.5 328.4 L143.33 328.1 L144.17 327.8 L145 327.5 L145.83 327.19 L146.67 326.89 L147.5 326.57 L148.33 326.25 L149.17 325.93 L150 325.6 L150.83 325.26 L151.67 324.92 L152.5 324.58 L153.33 324.23 L154.17 323.87 L155 323.51 L155.83 323.15 L156.67 322.79 L157.5 322.42 L158.33 322.05 L159.17 321.67 L160 321.3 L160.83 320.92 L161.67 320.54 L162.5 320.16 L163.33 319.77 L164.17 319.38 L165 318.98 L165.83 318.59 L166.67 318.19 L167.5 317.79 L168.33 317.39 L169.17 317 L170 316.6 L170.83 316.2 L171.67 315.8 L172.5 315.4 L173.33 314.99 L174.17 314.59 L175 314.18 L175.83 313.78 L176.67 313.37 L177.5 312.97 L178.33 312.58 L179.17 312.19 L180 311.8 L180.83 311.42 L181.67 311.04 L182.5 310.66 L183.33 310.28 L184.17 309.91 L185 309.54 L185.83 309.17 L186.67 308.81 L187.5 308.45 L188.33 308.09 L189.17 307.74 L190 307.4 L190.83 307.06 L191.67 306.73 L192.5 306.4 L193.33 306.08 L194.17 305.76 L195 305.45 L195.83 305.14 L196.67 304.83 L197.5 304.52 L198.33 304.21 L199.17 303.91 L200 303.6 L200.83 303.29 L201.67 302.98 L202.5 302.66 L203.33 302.34 L204.17 302.03 L205 301.72 L205.83 301.41 L206.67 301.11 L207.5 300.82 L208.33 300.53 L209.17 300.26 L210 300 L210.83 299.75 L211.67 299.51 L212.5 299.27 L213.33 299.05 L214.17 298.83 L215 298.62 L215.83 298.42 L216.67 298.22 L217.5 298.03 L218.33 297.85 L219.17 297.67 L220 297.5 L220.83 297.34 L221.67 297.18 L222.5 297.03 L223.33 296.88 L224.17 296.74 L225 296.61 L225.83 296.49 L226.67 296.37 L227.5 296.27 L228.33 296.17 L229.17 296.08 L230 296 L230.83 295.93 L231.67 295.87 L232.5 295.82 L233.33 295.78 L234.17 295.75 L235 295.73 L235.83 295.71 L236.67 295.7 L237.5 295.69 L238.33 295.69 L239.17 295.69 L240 295.7 L240.83 295.71 L241.67 295.72 L242.5 295.74 L243.33 295.77 L244.17 295.8 L245 295.83 L245.83 295.87 L246.67 295.92 L247.5 295.98 L248.33 296.04 L249.17 296.12 L250 296.2 L250.83 296.29 L251.67 296.39 L252.5 296.5 L253.33 296.62 L254.17 296.75 L255 296.88 L255.83 297.02 L256.67 297.17 L257.5 297.32 L258.33 297.47 L259.17 297.64 L260 297.8 L260.83 297.97 L261.67 298.15 L262.5 298.33 L263.33 298.52 L264.17 298.72 L265 298.92 L265.83 299.12 L266.67 299.33 L267.5 299.55 L268.33 299.76 L269.17 299.98 L270 300.2 L270.83 300.42 L271.67 300.65 L272.5 300.88 L273.33 301.12 L274.17 301.36 L275 301.6 L275.83 301.85 L276.67 302.09 L277.5 302.34 L278.33 302.59 L279.17 302.85 L280 303.1 L280.83 303.36 L281.67 303.61 L282.5 303.88 L283.33 304.14 L284.17 304.41 L285 304.68 L285.83 304.94 L286.67 305.21 L287.5 305.49 L288.33 305.76 L289.17 306.03 L290 306.3 L290.83 306.57 L291.67 306.84 L292.5 307.12 L293.33 307.39 L294.17 307.66 L295 307.94 L295.83 308.21 L296.67 308.49 L297.5 308.77 L298.33 309.04 L299.17 309.32 L300 309.6 L300.83 309.88 L301.67 310.16 L302.5 310.45 L303.33 310.73 L304.17 311.01 L305 311.3 L305.83 311.59 L306.67 311.87 L307.5 312.15 L308.33 312.44 L309.17 312.72 L310 313 L310.83 313.28 L311.67 313.56 L312.5 313.83 L313.33 314.11 L314.17 314.39 L315 314.66 L315.83 314.94 L316.67 315.21 L317.5 315.48 L318.33 315.76 L319.17 316.03 L320 316.3 L320.83 316.57 L321.67 316.84 L322.5 317.11 L323.33 317.38 L324.17 317.65 L325 317.91 L325.83 318.18 L326.67 318.44 L327.5 318.71 L328.33 318.97 L329.17 319.24 L330 319.5 L330.8 319.76 L331.55 320.02 L332.27 320.27 L332.96 320.52 L333.66 320.77 L334.38 321.03 L335.12 321.28 L335.93 321.53 L336.8 321.79 L337.75 322.06 L338.82 322.32 L340 322.6 L341.33 322.89 L342.81 323.2 L344.41 323.52 L346.11 323.86 L347.88 324.19 L349.69 324.53 L351.51 324.85 L353.33 325.17 L355.12 325.46 L356.84 325.74 L358.48 325.99 L360 326.2 L361.39 326.39 L362.67 326.56 L363.87 326.71 L365 326.85 L366.1 326.97 L367.19 327.08 L368.29 327.16 L369.44 327.23 L370.66 327.27 L371.98 327.3 L373.42 327.31 L375 327.3 L376.75 327.26 L378.65 327.2 L380.66 327.12 L382.78 327.01 L384.96 326.88 L387.19 326.74 L389.43 326.58 L391.67 326.41 L393.87 326.24 L396.01 326.06 L398.06 325.88 L400 325.7 L401.84 325.52 L403.62 325.32 L405.35 325.12 L407.04 324.9 L408.69 324.68 L410.31 324.46 L411.92 324.22 L413.52 323.99 L415.12 323.74 L416.72 323.5 L418.35 323.25 L420 323 L421.63 322.75 L423.22 322.51 L424.77 322.26 L426.3 322.01 L427.83 321.76 L429.38 321.5 L430.96 321.23 L432.59 320.96 L434.3 320.67 L436.09 320.36 L437.98 320.04 L440 319.7 L442.15 319.34 L444.42 318.94 L446.8 318.53 L449.26 318.1 L451.79 317.66 L454.38 317.21 L456.99 316.75 L459.63 316.3 L462.27 315.85 L464.88 315.42 L467.47 315 L470 314.6 L472.5 314.22 L475 313.84 L477.5 313.47 L480 313.11 L482.5 312.75 L485 312.4 L487.5 312.05 L490 311.71 L492.5 311.38 L495 311.05 L497.5 310.72 L500 310.4 L502.5 310.08 L505 309.76 L507.5 309.45 L510 309.14 L512.5 308.83 L515 308.53 L517.5 308.24 L520 307.95 L522.5 307.67 L525 307.41 L527.5 307.15 L530 306.9 L532.5 306.66 L535 306.43 L537.5 306.21 L540 306 L542.5 305.8 L545 305.61 L547.5 305.42 L550 305.24 L552.5 305.07 L555 304.91 L557.5 304.75 L560 304.6 L562.5 304.46 L565 304.32 L567.5 304.19 L570 304.06 L572.5 303.95 L575 303.84 L577.5 303.74 L580 303.65 L582.5 303.57 L585 303.5 L587.5 303.44 L590 303.4 L592.5 303.37 L595 303.35 L597.5 303.34 L600 303.35 L602.5 303.36 L605 303.39 L607.5 303.42 L610 303.46 L612.5 303.51 L615 303.57 L617.5 303.63 L620 303.7 L622.52 303.78 L625.08 303.87 L627.66 303.96 L630.26 304.07 L632.85 304.19 L635.44 304.31 L638 304.43 L640.52 304.56 L642.99 304.7 L645.41 304.83 L647.75 304.97 L650 305.1 L652.23 305.24 L654.5 305.4 L656.78 305.56 L659.04 305.74 L661.24 305.91 L663.38 306.09 L665.4 306.26 L667.3 306.42 L669.03 306.57 L670.58 306.7 L671.91 306.81 L673 306.9" fill="none" stroke="#0000ff" stroke-width="2.6" stroke-linejoin="round" stroke-linecap="butt" />
<path d="M62.5 377.8 L63.34 378 L64.38 378.24 L65.59 378.52 L66.94 378.84 L68.42 379.19 L70 379.56 L71.64 379.94 L73.33 380.34 L75.04 380.74 L76.74 381.13 L78.4 381.52 L80 381.9 L81.58 382.27 L83.19 382.66 L84.82 383.05 L86.48 383.44 L88.16 383.85 L89.84 384.25 L91.54 384.65 L93.24 385.06 L94.94 385.45 L96.64 385.84 L98.33 386.23 L100 386.6 L101.67 386.96 L103.33 387.31 L105 387.66 L106.67 388 L108.33 388.34 L110 388.67 L111.67 389 L113.33 389.33 L115 389.67 L116.67 390.01 L118.33 390.35 L120 390.7 L121.67 391.06 L123.33 391.42 L125 391.79 L126.67 392.16 L128.33 392.53 L130 392.9 L131.67 393.27 L133.33 393.64 L135 394.01 L136.67 394.38 L138.33 394.74 L140 395.1 L141.67 395.46 L143.33 395.81 L145 396.17 L146.67 396.53 L148.33 396.89 L150 397.24 L151.67 397.58 L153.33 397.93 L155 398.26 L156.67 398.58 L158.33 398.9 L160 399.2 L161.67 399.49 L163.33 399.76 L165 400.02 L166.67 400.27 L168.33 400.52 L170 400.76 L171.67 400.99 L173.33 401.23 L175 401.46 L176.67 401.7 L178.33 401.95 L180 402.2 L181.67 402.46 L183.33 402.73 L185 403 L186.67 403.28 L188.33 403.56 L190 403.84 L191.67 404.11 L193.33 404.39 L195 404.65 L196.67 404.91 L198.33 405.16 L200 405.4 L201.67 405.63 L203.33 405.85 L205 406.07 L206.67 406.29 L208.33 406.49 L210 406.69 L211.67 406.89 L213.33 407.08 L215 407.27 L216.67 407.45 L218.33 407.63 L220 407.8 L221.67 407.97 L223.33 408.13 L225 408.29 L226.67 408.45 L228.33 408.6 L230 408.74 L231.67 408.88 L233.33 409.02 L235 409.15 L236.67 409.27 L238.33 409.39 L240 409.5 L241.67 409.61 L243.33 409.71 L245 409.8 L246.67 409.9 L248.33 409.98 L250 410.06 L251.67 410.14 L253.33 410.2 L255 410.26 L256.67 410.32 L258.33 410.36 L260 410.4 L261.67 410.43 L263.33 410.45 L265 410.47 L266.67 410.47 L268.33 410.47 L270 410.47 L271.67 410.46 L273.33 410.44 L275 410.41 L276.67 410.38 L278.33 410.34 L280 410.3 L281.67 410.25 L283.33 410.19 L285 410.12 L286.67 410.04 L288.33 409.95 L290 409.86 L291.67 409.77 L293.33 409.67 L295 409.58 L296.67 409.48 L298.33 409.39 L300 409.3 L301.6 409.21 L303.1 409.13 L304.53 409.05 L305.93 408.97 L307.32 408.89 L308.75 408.81 L310.25 408.72 L311.85 408.63 L313.59 408.53 L315.51 408.43 L317.63 408.32 L320 408.2 L322.63 408.07 L325.51 407.92 L328.59 407.77 L331.85 407.61 L335.25 407.44 L338.75 407.27 L342.32 407.1 L345.93 406.93 L349.53 406.76 L353.1 406.6 L356.6 406.44 L360 406.3 L363.33 406.16 L366.67 406.03 L370 405.9 L373.33 405.77 L376.67 405.64 L380 405.52 L383.33 405.4 L386.67 405.29 L390 405.18 L393.33 405.08 L396.67 404.99 L400 404.9 L403.33 404.82 L406.67 404.75 L410 404.68 L413.33 404.62 L416.67 404.56 L420 404.51 L423.33 404.47 L426.67 404.43 L430 404.39 L433.33 404.36 L436.67 404.33 L440 404.3 L443.3 404.27 L446.55 404.25 L449.77 404.23 L452.96 404.2 L456.16 404.19 L459.38 404.18 L462.62 404.17 L465.93 404.17 L469.3 404.19 L472.75 404.21 L476.32 404.25 L480 404.3 L483.82 404.37 L487.75 404.45 L491.8 404.54 L495.93 404.64 L500.12 404.75 L504.38 404.87 L508.66 405 L512.96 405.14 L517.27 405.28 L521.55 405.42 L525.8 405.56 L530 405.7 L534.17 405.85 L538.33 406 L542.5 406.16 L546.67 406.32 L550.83 406.49 L555 406.66 L559.17 406.84 L563.33 407.01 L567.5 407.19 L571.67 407.36 L575.83 407.53 L580 407.7 L584.19 407.87 L588.41 408.03 L592.65 408.2 L596.91 408.36 L601.16 408.52 L605.41 408.69 L609.63 408.85 L613.81 409.02 L617.96 409.19 L622.04 409.36 L626.06 409.53 L630 409.7 L633.99 409.88 L638.13 410.08 L642.35 410.29 L646.59 410.5 L650.79 410.71 L654.88 410.93 L658.79 411.13 L662.46 411.32 L665.84 411.5 L668.84 411.66 L671.42 411.79 L673.5 411.9" fill="none" stroke="#0000ff" stroke-width="2.5" stroke-linejoin="round" stroke-linecap="butt" />
<line x1="563" y1="22.5" x2="608" y2="22.5" stroke="#0000ff" stroke-width="1.0" stroke-linecap="round"/>
<text x="618.4" y="29.2" font-size="22" text-anchor="start" >IMF1</text>
<line x1="561.8" y1="112.2" x2="607.7" y2="112.2" stroke="#0000ff" stroke-width="3.0" stroke-linecap="round"/>
<text x="617.8" y="119.6" font-size="22" text-anchor="start" >IMF2</text>
<line x1="559.5" y1="197.5" x2="604.6" y2="197.5" stroke="#0000ff" stroke-width="2.2" stroke-linecap="round"/>
<text x="614.6" y="205.6" font-size="22" text-anchor="start" >IMF3</text>
<line x1="559" y1="287.2" x2="604.1" y2="287.2" stroke="#0000ff" stroke-width="2.2" stroke-linecap="round"/>
<text x="614.6" y="294.9" font-size="22" text-anchor="start" >IMF4</text>
<line x1="558.6" y1="394.4" x2="603.5" y2="394.4" stroke="#0000ff" stroke-width="3.0" stroke-linecap="round"/>
<text x="613.6" y="401.8" font-size="22" text-anchor="start" >IMF5</text>
<text transform="translate(21.7 417.9) rotate(-90)" font-size="24.1">Vibration Acceleration/(mm/s<tspan font-size="15" dy="-9.8">2</tspan><tspan dy="9.8">)</tspan></text>
<text x="371" y="480.1" font-size="24" text-anchor="middle" >Time/s</text>
<line x1="103.5" y1="516.8" x2="103.5" y2="576.5" stroke="#000" stroke-width="2.6"/>
<line x1="102.2" y1="575.3" x2="670.8" y2="575.3" stroke="#000" stroke-width="2.6"/>
<line x1="103.5" y1="518" x2="110.7" y2="518" stroke="#000" stroke-width="2.5"/>
<line x1="103.5" y1="547.3" x2="110.7" y2="547.3" stroke="#000" stroke-width="2.5"/>
<line x1="139.35" y1="575.3" x2="139.35" y2="571.6" stroke="#000" stroke-width="2.9"/>
<line x1="174.7" y1="575.3" x2="174.7" y2="567.4" stroke="#000" stroke-width="2.5"/>
<line x1="210.06" y1="575.3" x2="210.06" y2="571.6" stroke="#000" stroke-width="2.9"/>
<line x1="245.41" y1="575.3" x2="245.41" y2="567.4" stroke="#000" stroke-width="2.5"/>
<line x1="280.76" y1="575.3" x2="280.76" y2="571.6" stroke="#000" stroke-width="2.9"/>
<line x1="316.11" y1="575.3" x2="316.11" y2="567.4" stroke="#000" stroke-width="2.5"/>
<line x1="351.46" y1="575.3" x2="351.46" y2="571.6" stroke="#000" stroke-width="2.9"/>
<line x1="386.82" y1="575.3" x2="386.82" y2="567.4" stroke="#000" stroke-width="2.5"/>
<line x1="422.17" y1="575.3" x2="422.17" y2="571.6" stroke="#000" stroke-width="2.9"/>
<line x1="457.52" y1="575.3" x2="457.52" y2="567.4" stroke="#000" stroke-width="2.5"/>
<line x1="492.87" y1="575.3" x2="492.87" y2="571.6" stroke="#000" stroke-width="2.9"/>
<line x1="528.22" y1="575.3" x2="528.22" y2="567.4" stroke="#000" stroke-width="2.5"/>
<line x1="563.58" y1="575.3" x2="563.58" y2="571.6" stroke="#000" stroke-width="2.9"/>
<line x1="598.93" y1="575.3" x2="598.93" y2="567.4" stroke="#000" stroke-width="2.5"/>
<line x1="634.28" y1="575.3" x2="634.28" y2="571.6" stroke="#000" stroke-width="2.9"/>
<line x1="669.63" y1="575.3" x2="669.63" y2="567.4" stroke="#000" stroke-width="2.5"/>
<text x="94.3" y="524.8" font-size="20" text-anchor="end" >4.0<tspan font-weight="normal">×</tspan>10<tspan font-size="13" dy="-8.7">3</tspan></text>
<text x="94.3" y="554.1" font-size="20" text-anchor="end" >2.0<tspan font-weight="normal">×</tspan>10<tspan font-size="13" dy="-8.7">3</tspan></text>
<text x="94.3" y="582.1" font-size="20" text-anchor="end" >0.0</text>
<text x="104" y="599.9" font-size="20" text-anchor="middle" >0</text>
<text x="174.7" y="599.9" font-size="20" text-anchor="middle" >16</text>
<text x="245.41" y="599.9" font-size="20" text-anchor="middle" >32</text>
<text x="316.11" y="599.9" font-size="20" text-anchor="middle" >48</text>
<text x="386.82" y="599.9" font-size="20" text-anchor="middle" >64</text>
<text x="457.52" y="599.9" font-size="20" text-anchor="middle" >80</text>
<text x="528.22" y="599.9" font-size="20" text-anchor="middle" >96</text>
<text x="598.93" y="599.9" font-size="20" text-anchor="middle" >112</text>
<text x="669.63" y="599.9" font-size="20" text-anchor="middle" >128</text>
<line x1="103.5" y1="600.3" x2="103.5" y2="660.7" stroke="#000" stroke-width="2.6"/>
<line x1="102.2" y1="659.5" x2="670.8" y2="659.5" stroke="#000" stroke-width="2.6"/>
<line x1="103.5" y1="601.5" x2="110.7" y2="601.5" stroke="#000" stroke-width="2.5"/>
<line x1="103.5" y1="630.6" x2="110.7" y2="630.6" stroke="#000" stroke-width="2.5"/>
<line x1="139.35" y1="659.5" x2="139.35" y2="655.8" stroke="#000" stroke-width="2.9"/>
<line x1="174.7" y1="659.5" x2="174.7" y2="651.6" stroke="#000" stroke-width="2.5"/>
<line x1="210.06" y1="659.5" x2="210.06" y2="655.8" stroke="#000" stroke-width="2.9"/>
<line x1="245.41" y1="659.5" x2="245.41" y2="651.6" stroke="#000" stroke-width="2.5"/>
<line x1="280.76" y1="659.5" x2="280.76" y2="655.8" stroke="#000" stroke-width="2.9"/>
<line x1="316.11" y1="659.5" x2="316.11" y2="651.6" stroke="#000" stroke-width="2.5"/>
<line x1="351.46" y1="659.5" x2="351.46" y2="655.8" stroke="#000" stroke-width="2.9"/>
<line x1="386.82" y1="659.5" x2="386.82" y2="651.6" stroke="#000" stroke-width="2.5"/>
<line x1="422.17" y1="659.5" x2="422.17" y2="655.8" stroke="#000" stroke-width="2.9"/>
<line x1="457.52" y1="659.5" x2="457.52" y2="651.6" stroke="#000" stroke-width="2.5"/>
<line x1="492.87" y1="659.5" x2="492.87" y2="655.8" stroke="#000" stroke-width="2.9"/>
<line x1="528.22" y1="659.5" x2="528.22" y2="651.6" stroke="#000" stroke-width="2.5"/>
<line x1="563.58" y1="659.5" x2="563.58" y2="655.8" stroke="#000" stroke-width="2.9"/>
<line x1="598.93" y1="659.5" x2="598.93" y2="651.6" stroke="#000" stroke-width="2.5"/>
<line x1="634.28" y1="659.5" x2="634.28" y2="655.8" stroke="#000" stroke-width="2.9"/>
<line x1="669.63" y1="659.5" x2="669.63" y2="651.6" stroke="#000" stroke-width="2.5"/>
<text x="94.3" y="609.6" font-size="20" text-anchor="end" >4.0<tspan font-weight="normal">×</tspan>10<tspan font-size="13" dy="-8.7">3</tspan></text>
<text x="94.3" y="638.7" font-size="20" text-anchor="end" >2.0<tspan font-weight="normal">×</tspan>10<tspan font-size="13" dy="-8.7">3</tspan></text>
<text x="94.3" y="666.3" font-size="20" text-anchor="end" >0.0</text>
<text x="104" y="683.6" font-size="20" text-anchor="middle" >0</text>
<text x="174.7" y="683.6" font-size="20" text-anchor="middle" >16</text>
<text x="245.41" y="683.6" font-size="20" text-anchor="middle" >32</text>
<text x="316.11" y="683.6" font-size="20" text-anchor="middle" >48</text>
<text x="386.82" y="683.6" font-size="20" text-anchor="middle" >64</text>
<text x="457.52" y="683.6" font-size="20" text-anchor="middle" >80</text>
<text x="528.22" y="683.6" font-size="20" text-anchor="middle" >96</text>
<text x="598.93" y="683.6" font-size="20" text-anchor="middle" >112</text>
<text x="669.63" y="683.6" font-size="20" text-anchor="middle" >128</text>
<line x1="103.5" y1="685.3" x2="103.5" y2="744.5" stroke="#000" stroke-width="2.6"/>
<line x1="102.2" y1="743.3" x2="670.8" y2="743.3" stroke="#000" stroke-width="2.6"/>
<line x1="103.5" y1="686.5" x2="110.7" y2="686.5" stroke="#000" stroke-width="2.5"/>
<line x1="103.5" y1="714.6" x2="110.7" y2="714.6" stroke="#000" stroke-width="2.5"/>
<line x1="139.35" y1="743.3" x2="139.35" y2="739.6" stroke="#000" stroke-width="2.9"/>
<line x1="174.7" y1="743.3" x2="174.7" y2="735.4" stroke="#000" stroke-width="2.5"/>
<line x1="210.06" y1="743.3" x2="210.06" y2="739.6" stroke="#000" stroke-width="2.9"/>
<line x1="245.41" y1="743.3" x2="245.41" y2="735.4" stroke="#000" stroke-width="2.5"/>
<line x1="280.76" y1="743.3" x2="280.76" y2="739.6" stroke="#000" stroke-width="2.9"/>
<line x1="316.11" y1="743.3" x2="316.11" y2="735.4" stroke="#000" stroke-width="2.5"/>
<line x1="351.46" y1="743.3" x2="351.46" y2="739.6" stroke="#000" stroke-width="2.9"/>
<line x1="386.82" y1="743.3" x2="386.82" y2="735.4" stroke="#000" stroke-width="2.5"/>
<line x1="422.17" y1="743.3" x2="422.17" y2="739.6" stroke="#000" stroke-width="2.9"/>
<line x1="457.52" y1="743.3" x2="457.52" y2="735.4" stroke="#000" stroke-width="2.5"/>
<line x1="492.87" y1="743.3" x2="492.87" y2="739.6" stroke="#000" stroke-width="2.9"/>
<line x1="528.22" y1="743.3" x2="528.22" y2="735.4" stroke="#000" stroke-width="2.5"/>
<line x1="563.58" y1="743.3" x2="563.58" y2="739.6" stroke="#000" stroke-width="2.9"/>
<line x1="598.93" y1="743.3" x2="598.93" y2="735.4" stroke="#000" stroke-width="2.5"/>
<line x1="634.28" y1="743.3" x2="634.28" y2="739.6" stroke="#000" stroke-width="2.9"/>
<line x1="669.63" y1="743.3" x2="669.63" y2="735.4" stroke="#000" stroke-width="2.5"/>
<text x="94.3" y="693.3" font-size="20" text-anchor="end" >1.6<tspan font-weight="normal">×</tspan>10<tspan font-size="13" dy="-8.7">3</tspan></text>
<text x="94.3" y="722.2" font-size="20" text-anchor="end" >8.0<tspan font-weight="normal">×</tspan>10<tspan font-size="13" dy="-8.7">2</tspan></text>
<text x="94.3" y="750.1" font-size="20" text-anchor="end" >0.0</text>
<text x="104" y="767.1" font-size="20" text-anchor="middle" >0</text>
<text x="174.7" y="767.1" font-size="20" text-anchor="middle" >16</text>
<text x="245.41" y="767.1" font-size="20" text-anchor="middle" >32</text>
<text x="316.11" y="767.1" font-size="20" text-anchor="middle" >48</text>
<text x="386.82" y="767.1" font-size="20" text-anchor="middle" >64</text>
<text x="457.52" y="767.1" font-size="20" text-anchor="middle" >80</text>
<text x="528.22" y="767.1" font-size="20" text-anchor="middle" >96</text>
<text x="598.93" y="767.1" font-size="20" text-anchor="middle" >112</text>
<text x="669.63" y="767.1" font-size="20" text-anchor="middle" >128</text>
<line x1="103.5" y1="769" x2="103.5" y2="829.4" stroke="#000" stroke-width="2.6"/>
<line x1="102.2" y1="828.2" x2="670.8" y2="828.2" stroke="#000" stroke-width="2.6"/>
<line x1="103.5" y1="770.2" x2="110.7" y2="770.2" stroke="#000" stroke-width="2.5"/>
<line x1="103.5" y1="799.1" x2="110.7" y2="799.1" stroke="#000" stroke-width="2.5"/>
<line x1="139.35" y1="828.2" x2="139.35" y2="824.5" stroke="#000" stroke-width="2.9"/>
<line x1="174.7" y1="828.2" x2="174.7" y2="820.3" stroke="#000" stroke-width="2.5"/>
<line x1="210.06" y1="828.2" x2="210.06" y2="824.5" stroke="#000" stroke-width="2.9"/>
<line x1="245.41" y1="828.2" x2="245.41" y2="820.3" stroke="#000" stroke-width="2.5"/>
<line x1="280.76" y1="828.2" x2="280.76" y2="824.5" stroke="#000" stroke-width="2.9"/>
<line x1="316.11" y1="828.2" x2="316.11" y2="820.3" stroke="#000" stroke-width="2.5"/>
<line x1="351.46" y1="828.2" x2="351.46" y2="824.5" stroke="#000" stroke-width="2.9"/>
<line x1="386.82" y1="828.2" x2="386.82" y2="820.3" stroke="#000" stroke-width="2.5"/>
<line x1="422.17" y1="828.2" x2="422.17" y2="824.5" stroke="#000" stroke-width="2.9"/>
<line x1="457.52" y1="828.2" x2="457.52" y2="820.3" stroke="#000" stroke-width="2.5"/>
<line x1="492.87" y1="828.2" x2="492.87" y2="824.5" stroke="#000" stroke-width="2.9"/>
<line x1="528.22" y1="828.2" x2="528.22" y2="820.3" stroke="#000" stroke-width="2.5"/>
<line x1="563.58" y1="828.2" x2="563.58" y2="824.5" stroke="#000" stroke-width="2.9"/>
<line x1="598.93" y1="828.2" x2="598.93" y2="820.3" stroke="#000" stroke-width="2.5"/>
<line x1="634.28" y1="828.2" x2="634.28" y2="824.5" stroke="#000" stroke-width="2.9"/>
<line x1="669.63" y1="828.2" x2="669.63" y2="820.3" stroke="#000" stroke-width="2.5"/>
<text x="94.3" y="777" font-size="20" text-anchor="end" >2<tspan font-weight="normal">×</tspan>10<tspan font-size="13" dy="-8.7">3</tspan></text>
<text x="94.3" y="805.9" font-size="20" text-anchor="end" >1<tspan font-weight="normal">×</tspan>10<tspan font-size="13" dy="-8.7">3</tspan></text>
<text x="94.3" y="835" font-size="20" text-anchor="end" >0</text>
<text x="104" y="852" font-size="20" text-anchor="middle" >0</text>
<text x="174.7" y="852" font-size="20" text-anchor="middle" >16</text>
<text x="245.41" y="852" font-size="20" text-anchor="middle" >32</text>
<text x="316.11" y="852" font-size="20" text-anchor="middle" >48</text>
<text x="386.82" y="852" font-size="20" text-anchor="middle" >64</text>
<text x="457.52" y="852" font-size="20" text-anchor="middle" >80</text>
<text x="528.22" y="852" font-size="20" text-anchor="middle" >96</text>
<text x="598.93" y="852" font-size="20" text-anchor="middle" >112</text>
<text x="669.63" y="852" font-size="20" text-anchor="middle" >128</text>
<line x1="103.5" y1="852.2" x2="103.5" y2="912.7" stroke="#000" stroke-width="2.6"/>
<line x1="102.2" y1="911.5" x2="670.8" y2="911.5" stroke="#000" stroke-width="2.6"/>
<line x1="103.5" y1="853.4" x2="110.7" y2="853.4" stroke="#000" stroke-width="2.5"/>
<line x1="103.5" y1="882.6" x2="110.7" y2="882.6" stroke="#000" stroke-width="2.5"/>
<line x1="139.35" y1="911.5" x2="139.35" y2="907.8" stroke="#000" stroke-width="2.9"/>
<line x1="174.7" y1="911.5" x2="174.7" y2="903.6" stroke="#000" stroke-width="2.5"/>
<line x1="210.06" y1="911.5" x2="210.06" y2="907.8" stroke="#000" stroke-width="2.9"/>
<line x1="245.41" y1="911.5" x2="245.41" y2="903.6" stroke="#000" stroke-width="2.5"/>
<line x1="280.76" y1="911.5" x2="280.76" y2="907.8" stroke="#000" stroke-width="2.9"/>
<line x1="316.11" y1="911.5" x2="316.11" y2="903.6" stroke="#000" stroke-width="2.5"/>
<line x1="351.46" y1="911.5" x2="351.46" y2="907.8" stroke="#000" stroke-width="2.9"/>
<line x1="386.82" y1="911.5" x2="386.82" y2="903.6" stroke="#000" stroke-width="2.5"/>
<line x1="422.17" y1="911.5" x2="422.17" y2="907.8" stroke="#000" stroke-width="2.9"/>
<line x1="457.52" y1="911.5" x2="457.52" y2="903.6" stroke="#000" stroke-width="2.5"/>
<line x1="492.87" y1="911.5" x2="492.87" y2="907.8" stroke="#000" stroke-width="2.9"/>
<line x1="528.22" y1="911.5" x2="528.22" y2="903.6" stroke="#000" stroke-width="2.5"/>
<line x1="563.58" y1="911.5" x2="563.58" y2="907.8" stroke="#000" stroke-width="2.9"/>
<line x1="598.93" y1="911.5" x2="598.93" y2="903.6" stroke="#000" stroke-width="2.5"/>
<line x1="634.28" y1="911.5" x2="634.28" y2="907.8" stroke="#000" stroke-width="2.9"/>
<line x1="669.63" y1="911.5" x2="669.63" y2="903.6" stroke="#000" stroke-width="2.5"/>
<text x="94.3" y="860.2" font-size="20" text-anchor="end" >2<tspan font-weight="normal">×</tspan>10<tspan font-size="13" dy="-8.7">3</tspan></text>
<text x="94.3" y="889.4" font-size="20" text-anchor="end" >1<tspan font-weight="normal">×</tspan>10<tspan font-size="13" dy="-8.7">3</tspan></text>
<text x="94.3" y="918.3" font-size="20" text-anchor="end" >0</text>
<text x="104" y="935.3" font-size="20" text-anchor="middle" >0</text>
<text x="174.7" y="935.3" font-size="20" text-anchor="middle" >16</text>
<text x="245.41" y="935.3" font-size="20" text-anchor="middle" >32</text>
<text x="316.11" y="935.3" font-size="20" text-anchor="middle" >48</text>
<text x="386.82" y="935.3" font-size="20" text-anchor="middle" >64</text>
<text x="457.52" y="935.3" font-size="20" text-anchor="middle" >80</text>
<text x="528.22" y="935.3" font-size="20" text-anchor="middle" >96</text>
<text x="598.93" y="935.3" font-size="20" text-anchor="middle" >112</text>
<text x="669.63" y="935.3" font-size="20" text-anchor="middle" >128</text>
<path d="M104 574.97 L104.5 574.97 L105 574.97 L105.5 574.97 L106 574.96 L106.5 574.96 L107 574.96 L107.5 574.96 L108 574.96 L108.5 574.96 L109 574.96 L109.5 574.96 L110 574.96 L110.5 574.96 L111 574.96 L111.5 574.96 L112 574.96 L112.5 574.95 L113 574.95 L113.5 574.95 L114 574.95 L114.5 574.95 L115 574.95 L115.5 574.95 L116 574.95 L116.5 574.95 L117 574.95 L117.5 574.95 L118 574.94 L118.5 574.94 L119 574.94 L119.5 574.94 L120 574.94 L120.5 574.94 L121 574.94 L121.5 574.94 L122 574.94 L122.5 574.94 L123 574.93 L123.5 574.93 L124 574.93 L124.5 574.93 L125 574.93 L125.5 574.93 L126 574.93 L126.5 574.93 L127 574.93 L127.5 574.92 L128 574.92 L128.5 574.92 L129 574.92 L129.5 574.92 L130 574.92 L130.5 574.92 L131 574.92 L131.5 574.91 L132 574.91 L132.5 574.91 L133 574.91 L133.5 574.91 L134 574.91 L134.5 574.91 L135 574.9 L135.5 574.9 L136 574.9 L136.5 574.9 L137 574.9 L137.5 574.9 L138 574.9 L138.5 574.89 L139 574.89 L139.5 574.89 L140 574.89 L140.5 574.89 L141 574.89 L141.5 574.88 L142 574.88 L142.5 574.88 L143 574.88 L143.5 574.88 L144 574.87 L144.5 574.87 L145 574.87 L145.5 574.87 L146 574.87 L146.5 574.86 L147 574.86 L147.5 574.86 L148 574.86 L148.5 574.86 L149 574.85 L149.5 574.85 L150 574.85 L150.5 574.85 L151 574.84 L151.5 574.84 L152 574.84 L152.5 574.84 L153 574.83 L153.5 574.83 L154 574.83 L154.5 574.83 L155 574.82 L155.5 574.82 L156 574.82 L156.5 574.82 L157 574.81 L157.5 574.81 L158 574.81 L158.5 574.8 L159 574.8 L159.5 574.8 L160 574.79 L160.5 574.79 L161 574.79 L161.5 574.78 L162 574.78 L162.5 574.78 L163 574.77 L163.5 574.77 L164 574.76 L164.5 574.76 L165 574.76 L165.5 574.75 L166 574.75 L166.5 574.74 L167 574.74 L167.5 574.73 L168 574.73 L168.5 574.73 L169 574.72 L169.5 574.72 L170 574.71 L170.5 574.7 L171 574.7 L171.5 574.69 L172 574.69 L172.5 574.68 L173 574.68 L173.5 574.67 L174 574.66 L174.5 574.66 L175 574.65 L175.5 574.64 L176 574.64 L176.5 574.63 L177 574.62 L177.5 574.61 L178 574.61 L178.5 574.6 L179 574.59 L179.5 574.58 L180 574.57 L180.5 574.56 L181 574.55 L181.5 574.54 L182 574.53 L182.5 574.52 L183 574.51 L183.5 574.5 L184 574.49 L184.5 574.47 L185 574.46 L185.5 574.45 L186 574.43 L186.5 574.42 L187 574.4 L187.5 574.39 L188 574.37 L188.5 574.35 L189 574.34 L189.5 574.32 L190 574.3 L190.5 574.28 L191 574.26 L191.5 574.23 L192 574.21 L192.5 574.18 L193 574.16 L193.5 574.13 L194 574.1 L194.5 574.07 L195 574.04 L195.1 574.03 L195.2 574.03 L195.3 574.02 L195.4 574.01 L195.5 574 L195.6 574 L195.7 573.99 L195.8 573.98 L195.9 573.98 L196 573.97 L196.1 573.96 L196.2 573.95 L196.3 573.94 L196.4 573.94 L196.5 573.93 L196.6 573.92 L196.7 573.91 L196.8 573.9 L196.9 573.9 L197 573.89 L197.1 573.88 L197.2 573.87 L197.3 573.86 L197.4 573.85 L197.5 573.84 L197.6 573.83 L197.7 573.82 L197.8 573.81 L197.9 573.8 L198 573.79 L198.1 573.78 L198.2 573.77 L198.3 573.76 L198.4 573.75 L198.5 573.74 L198.6 573.73 L198.7 573.72 L198.8 573.71 L198.9 573.7 L199 573.69 L199.1 573.68 L199.2 573.67 L199.3 573.65 L199.4 573.64 L199.5 573.63 L199.6 573.62 L199.7 573.61 L199.8 573.59 L199.9 573.58 L200 573.57 L200.1 573.55 L200.2 573.54 L200.3 573.53 L200.4 573.51 L200.5 573.5 L200.6 573.48 L200.7 573.47 L200.8 573.45 L200.9 573.44 L201 573.42 L201.1 573.41 L201.2 573.39 L201.3 573.37 L201.4 573.36 L201.5 573.34 L201.6 573.32 L201.7 573.31 L201.8 573.29 L201.9 573.27 L202 573.25 L202.1 573.23 L202.2 573.21 L202.3 573.19 L202.4 573.17 L202.5 573.15 L202.6 573.13 L202.7 573.11 L202.8 573.09 L202.9 573.07 L203 573.04 L203.1 573.02 L203.2 573 L203.3 572.97 L203.4 572.95 L203.5 572.92 L203.6 572.9 L203.7 572.87 L203.8 572.85 L203.9 572.82 L204 572.79 L204.1 572.76 L204.2 572.73 L204.3 572.7 L204.4 572.67 L204.5 572.64 L204.6 572.61 L204.7 572.58 L204.8 572.54 L204.9 572.51 L205 572.47 L205.1 572.43 L205.2 572.4 L205.3 572.36 L205.4 572.32 L205.5 572.28 L205.6 572.24 L205.7 572.2 L205.8 572.15 L205.9 572.11 L206 572.06 L206.1 572.01 L206.2 571.96 L206.3 571.91 L206.4 571.86 L206.5 571.81 L206.6 571.75 L206.7 571.7 L206.8 571.64 L206.9 571.58 L207 571.51 L207.1 571.45 L207.2 571.38 L207.3 571.31 L207.4 571.24 L207.5 571.17 L207.6 571.09 L207.7 571.01 L207.8 570.93 L207.9 570.84 L208 570.75 L208.02 570.73 L208.04 570.71 L208.06 570.7 L208.08 570.68 L208.1 570.66 L208.12 570.64 L208.14 570.62 L208.16 570.6 L208.18 570.58 L208.2 570.56 L208.22 570.54 L208.24 570.52 L208.26 570.5 L208.28 570.48 L208.3 570.46 L208.32 570.44 L208.34 570.42 L208.36 570.4 L208.38 570.38 L208.4 570.36 L208.42 570.34 L208.44 570.31 L208.46 570.29 L208.48 570.27 L208.5 570.25 L208.52 570.23 L208.54 570.2 L208.56 570.18 L208.58 570.16 L208.6 570.13 L208.62 570.11 L208.64 570.09 L208.66 570.06 L208.68 570.04 L208.7 570.02 L208.72 569.99 L208.74 569.97 L208.76 569.94 L208.78 569.92 L208.8 569.89 L208.82 569.87 L208.84 569.84 L208.86 569.81 L208.88 569.79 L208.9 569.76 L208.92 569.74 L208.94 569.71 L208.96 569.68 L208.98 569.65 L209 569.63 L209.02 569.6 L209.04 569.57 L209.06 569.54 L209.08 569.51 L209.1 569.48 L209.12 569.46 L209.14 569.43 L209.16 569.4 L209.18 569.37 L209.2 569.34 L209.22 569.3 L209.24 569.27 L209.26 569.24 L209.28 569.21 L209.3 569.18 L209.32 569.15 L209.34 569.11 L209.36 569.08 L209.38 569.05 L209.4 569.01 L209.42 568.98 L209.44 568.95 L209.46 568.91 L209.48 568.88 L209.5 568.84 L209.52 568.81 L209.54 568.77 L209.56 568.73 L209.58 568.7 L209.6 568.66 L209.62 568.62 L209.64 568.58 L209.66 568.54 L209.68 568.51 L209.7 568.47 L209.72 568.43 L209.74 568.39 L209.76 568.35 L209.78 568.3 L209.8 568.26 L209.82 568.22 L209.84 568.18 L209.86 568.14 L209.88 568.09 L209.9 568.05 L209.92 568 L209.94 567.96 L209.96 567.91 L209.98 567.87 L210 567.82 L210.02 567.77 L210.04 567.73 L210.06 567.68 L210.08 567.63 L210.1 567.58 L210.12 567.53 L210.14 567.48 L210.16 567.43 L210.18 567.38 L210.2 567.32 L210.22 567.27 L210.24 567.22 L210.26 567.16 L210.28 567.11 L210.3 567.05 L210.32 566.99 L210.34 566.94 L210.36 566.88 L210.38 566.82 L210.4 566.76 L210.42 566.7 L210.44 566.64 L210.46 566.57 L210.48 566.51 L210.5 566.45 L210.52 566.38 L210.54 566.32 L210.56 566.25 L210.58 566.18 L210.6 566.12 L210.62 566.05 L210.64 565.98 L210.66 565.9 L210.68 565.83 L210.7 565.76 L210.72 565.68 L210.74 565.61 L210.76 565.53 L210.78 565.45 L210.8 565.37 L210.82 565.29 L210.84 565.21 L210.86 565.13 L210.88 565.05 L210.9 564.96 L210.92 564.87 L210.94 564.79 L210.96 564.7 L210.98 564.61 L211 564.51 L211.02 564.42 L211.04 564.33 L211.06 564.23 L211.08 564.13 L211.1 564.03 L211.12 563.93 L211.14 563.83 L211.16 563.72 L211.18 563.61 L211.2 563.51 L211.22 563.4 L211.24 563.28 L211.26 563.17 L211.28 563.05 L211.3 562.93 L211.32 562.81 L211.34 562.69 L211.36 562.56 L211.38 562.44 L211.4 562.31 L211.42 562.18 L211.44 562.04 L211.46 561.9 L211.48 561.76 L211.5 561.62 L211.52 561.48 L211.54 561.33 L211.56 561.18 L211.58 561.02 L211.6 560.86 L211.62 560.7 L211.64 560.54 L211.66 560.37 L211.68 560.2 L211.7 560.03 L211.72 559.85 L211.74 559.67 L211.76 559.48 L211.78 559.29 L211.8 559.1 L211.82 558.9 L211.84 558.7 L211.86 558.49 L211.88 558.28 L211.9 558.06 L211.92 557.84 L211.94 557.61 L211.96 557.38 L211.98 557.14 L212 556.9 L212.02 556.65 L212.04 556.39 L212.06 556.13 L212.08 555.86 L212.1 555.58 L212.12 555.3 L212.14 555.01 L212.16 554.71 L212.18 554.41 L212.2 554.09 L212.22 553.77 L212.24 553.44 L212.26 553.1 L212.28 552.75 L212.3 552.39 L212.32 552.02 L212.34 551.64 L212.36 551.24 L212.38 550.84 L212.4 550.42 L212.42 550 L212.44 549.56 L212.46 549.1 L212.48 548.63 L212.5 548.15 L212.52 547.65 L212.54 547.13 L212.56 546.6 L212.58 546.05 L212.6 545.49 L212.62 544.9 L212.64 544.29 L212.66 543.67 L212.68 543.02 L212.7 542.35 L212.72 541.66 L212.74 540.94 L212.76 540.2 L212.78 539.43 L212.8 538.63 L212.82 537.81 L212.84 536.95 L212.86 536.07 L212.88 535.16 L212.9 534.21 L212.92 533.24 L212.94 532.23 L212.96 531.18 L212.98 530.11 L213 529 L213.02 527.87 L213.04 526.71 L213.06 525.53 L213.08 524.34 L213.1 523.15 L213.12 521.99 L213.14 520.92 L213.16 520.92 L213.18 521.99 L213.2 523.15 L213.22 524.34 L213.24 525.53 L213.26 526.71 L213.28 527.87 L213.3 529 L213.32 530.11 L213.34 531.18 L213.36 532.23 L213.38 533.24 L213.4 534.21 L213.42 535.16 L213.44 536.07 L213.46 536.95 L213.48 537.81 L213.5 538.63 L213.52 539.43 L213.54 540.2 L213.56 540.94 L213.58 541.66 L213.6 542.35 L213.62 543.02 L213.64 543.67 L213.66 544.29 L213.68 544.9 L213.7 545.49 L213.72 546.05 L213.74 546.6 L213.76 547.13 L213.78 547.65 L213.8 548.15 L213.82 548.63 L213.84 549.1 L213.86 549.56 L213.88 550 L213.9 550.42 L213.92 550.84 L213.94 551.24 L213.96 551.64 L213.98 552.02 L214 552.39 L214.02 552.75 L214.04 553.1 L214.06 553.44 L214.08 553.77 L214.1 554.09 L214.12 554.41 L214.14 554.71 L214.16 555.01 L214.18 555.3 L214.2 555.58 L214.22 555.86 L214.24 556.13 L214.26 556.39 L214.28 556.65 L214.3 556.9 L214.32 557.14 L214.34 557.38 L214.36 557.61 L214.38 557.84 L214.4 558.06 L214.42 558.28 L214.44 558.49 L214.46 558.7 L214.48 558.9 L214.5 559.1 L214.52 559.29 L214.54 559.48 L214.56 559.67 L214.58 559.85 L214.6 560.03 L214.62 560.2 L214.64 560.37 L214.66 560.54 L214.68 560.7 L214.7 560.86 L214.72 561.02 L214.74 561.18 L214.76 561.33 L214.78 561.48 L214.8 561.62 L214.82 561.76 L214.84 561.9 L214.86 562.04 L214.88 562.18 L214.9 562.31 L214.92 562.44 L214.94 562.56 L214.96 562.69 L214.98 562.81 L215 562.93 L215.02 563.05 L215.04 563.17 L215.06 563.28 L215.08 563.4 L215.1 563.51 L215.12 563.61 L215.14 563.72 L215.16 563.83 L215.18 563.93 L215.2 564.03 L215.22 564.13 L215.24 564.23 L215.26 564.33 L215.28 564.42 L215.3 564.51 L215.32 564.61 L215.34 564.7 L215.36 564.79 L215.38 564.87 L215.4 564.96 L215.42 565.05 L215.44 565.13 L215.46 565.21 L215.48 565.29 L215.5 565.37 L215.52 565.45 L215.54 565.53 L215.56 565.61 L215.58 565.68 L215.6 565.76 L215.62 565.83 L215.64 565.9 L215.66 565.98 L215.68 566.05 L215.7 566.12 L215.72 566.18 L215.74 566.25 L215.76 566.32 L215.78 566.38 L215.8 566.45 L215.82 566.51 L215.84 566.57 L215.86 566.64 L215.88 566.7 L215.9 566.76 L215.92 566.82 L215.94 566.88 L215.96 566.94 L215.98 566.99 L216 567.05 L216.02 567.11 L216.04 567.16 L216.06 567.22 L216.08 567.27 L216.1 567.32 L216.12 567.38 L216.14 567.43 L216.16 567.48 L216.18 567.53 L216.2 567.58 L216.22 567.63 L216.24 567.68 L216.26 567.73 L216.28 567.77 L216.3 567.82 L216.32 567.87 L216.34 567.91 L216.36 567.96 L216.38 568 L216.4 568.05 L216.42 568.09 L216.44 568.14 L216.46 568.18 L216.48 568.22 L216.5 568.26 L216.52 568.3 L216.54 568.35 L216.56 568.39 L216.58 568.43 L216.6 568.47 L216.62 568.51 L216.64 568.54 L216.66 568.58 L216.68 568.62 L216.7 568.66 L216.72 568.7 L216.74 568.73 L216.76 568.77 L216.78 568.81 L216.8 568.84 L216.82 568.88 L216.84 568.91 L216.86 568.95 L216.88 568.98 L216.9 569.01 L216.92 569.05 L216.94 569.08 L216.96 569.11 L216.98 569.15 L217 569.18 L217.02 569.21 L217.04 569.24 L217.06 569.27 L217.08 569.3 L217.1 569.34 L217.12 569.37 L217.14 569.4 L217.16 569.43 L217.18 569.46 L217.2 569.48 L217.22 569.51 L217.24 569.54 L217.26 569.57 L217.28 569.6 L217.3 569.63 L217.32 569.65 L217.34 569.68 L217.36 569.71 L217.38 569.74 L217.4 569.76 L217.42 569.79 L217.44 569.81 L217.46 569.84 L217.48 569.87 L217.5 569.89 L217.52 569.92 L217.54 569.94 L217.56 569.97 L217.58 569.99 L217.6 570.02 L217.62 570.04 L217.64 570.06 L217.66 570.09 L217.68 570.11 L217.7 570.13 L217.72 570.16 L217.74 570.18 L217.76 570.2 L217.78 570.23 L217.8 570.25 L217.82 570.27 L217.84 570.29 L217.86 570.31 L217.88 570.34 L217.9 570.36 L217.92 570.38 L217.94 570.4 L217.96 570.42 L217.98 570.44 L218 570.46 L218.1 570.56 L218.2 570.66 L218.3 570.75 L218.4 570.84 L218.5 570.93 L218.6 571.01 L218.7 571.09 L218.8 571.17 L218.9 571.24 L219 571.31 L219.1 571.38 L219.2 571.45 L219.3 571.51 L219.4 571.58 L219.5 571.64 L219.6 571.7 L219.7 571.75 L219.8 571.81 L219.9 571.86 L220 571.91 L220.1 571.96 L220.2 572.01 L220.3 572.06 L220.4 572.11 L220.5 572.15 L220.6 572.2 L220.7 572.24 L220.8 572.28 L220.9 572.32 L221 572.36 L221.1 572.4 L221.2 572.43 L221.3 572.47 L221.4 572.51 L221.5 572.54 L221.6 572.58 L221.7 572.61 L221.8 572.64 L221.9 572.67 L222 572.7 L222.1 572.73 L222.2 572.76 L222.3 572.79 L222.4 572.82 L222.5 572.85 L222.6 572.87 L222.7 572.9 L222.8 572.92 L222.9 572.95 L223 572.97 L223.1 573 L223.2 573.02 L223.3 573.04 L223.4 573.07 L223.5 573.09 L223.6 573.11 L223.7 573.13 L223.8 573.15 L223.9 573.17 L224 573.19 L224.1 573.21 L224.2 573.23 L224.3 573.25 L224.4 573.27 L224.5 573.29 L224.6 573.31 L224.7 573.32 L224.8 573.34 L224.9 573.36 L225 573.37 L225.1 573.39 L225.2 573.41 L225.3 573.42 L225.4 573.44 L225.5 573.45 L225.6 573.47 L225.7 573.48 L225.8 573.5 L225.9 573.51 L226 573.53 L226.1 573.54 L226.2 573.55 L226.3 573.57 L226.4 573.58 L226.5 573.59 L226.6 573.61 L226.7 573.62 L226.8 573.63 L226.9 573.64 L227 573.65 L227.1 573.67 L227.2 573.68 L227.3 573.69 L227.4 573.7 L227.5 573.71 L227.6 573.72 L227.7 573.73 L227.8 573.74 L227.9 573.75 L228 573.76 L228.1 573.77 L228.2 573.78 L228.3 573.79 L228.4 573.8 L228.5 573.81 L228.6 573.82 L228.7 573.83 L228.8 573.84 L228.9 573.85 L229 573.86 L229.1 573.87 L229.2 573.88 L229.3 573.89 L229.4 573.9 L229.5 573.9 L229.6 573.91 L229.7 573.92 L229.8 573.93 L229.9 573.94 L230 573.94 L230.1 573.95 L230.2 573.96 L230.3 573.97 L230.4 573.98 L230.5 573.98 L230.6 573.99 L230.7 574 L230.8 574 L230.9 574.01 L231 574.02 L231.1 574.03 L231.2 574.03 L231.3 574.04 L231.4 574.05 L231.5 574.05 L231.6 574.06 L231.7 574.06 L231.8 574.07 L231.9 574.08 L232 574.08 L233 574.14 L234 574.2 L235 574.24 L236 574.29 L237 574.32 L238 574.36 L239 574.39 L240 574.42 L241 574.45 L242 574.48 L243 574.5 L244 574.52 L245 574.55 L246 574.56 L247 574.58 L248 574.6 L249 574.62 L250 574.63 L251 574.65 L252 574.66 L253 574.67 L254 574.68 L255 574.7 L256 574.71 L257 574.72 L258 574.73 L259 574.74 L260 574.75 L261 574.75 L262 574.76 L263 574.77 L264 574.78 L265 574.78 L266 574.79 L267 574.8 L268 574.8 L269 574.81 L270 574.82 L271 574.82 L272 574.83 L273 574.83 L274 574.84 L275 574.84 L276 574.85 L277 574.85 L278 574.86 L279 574.86 L280 574.87 L281 574.87 L282 574.87 L283 574.88 L284 574.88 L285 574.88 L286 574.89 L287 574.89 L288 574.89 L289 574.9 L290 574.9 L291 574.9 L292 574.91 L293 574.91 L294 574.91 L295 574.91 L296 574.92 L297 574.92 L298 574.92 L299 574.92 L300 574.93 L301 574.93 L302 574.93 L303 574.93 L304 574.94 L305 574.94 L306 574.94 L307 574.94 L308 574.94 L309 574.95 L310 574.95 L311 574.95 L312 574.95 L313 574.95 L314 574.95 L315 574.96 L316 574.96 L317 574.96 L318 574.96 L319 574.96 L320 574.96 L321 574.97 L322 574.97 L323 574.97 L324 574.97 L325 574.97 L326 574.97 L327 574.97 L328 574.98 L329 574.98 L330 574.98 L331 574.98 L332 574.98 L333 574.98 L334 574.98 L335 574.98 L336 574.98 L337 574.99 L338 574.99 L339 574.99 L340 574.99 L341 574.99 L342 574.99 L343 574.99 L344 574.99 L345 574.99 L346 574.99 L347 575 L348 575 L349 575 L350 575 L351 575 L352 575 L353 575 L354 575 L355 575 L356 575 L357 575 L358 575 L359 575.01 L360 575.01 L361 575.01 L362 575.01 L363 575.01 L364 575.01 L365 575.01 L366 575.01 L367 575.01 L368 575.01 L369 575.01 L370 575.01 L371 575.01 L372 575.01 L373 575.02 L374 575.02 L375 575.02 L376 575.02 L377 575.02 L378 575.02 L379 575.02 L380 575.02 L381 575.02 L382 575.02 L383 575.02 L384 575.02 L385 575.02 L386 575.02 L387 575.02 L388 575.02 L389 575.02 L390 575.02 L391 575.03 L392 575.03 L393 575.03 L394 575.03 L395 575.03 L396 575.03 L397 575.03 L398 575.03 L399 575.03 L400 575.03 L401 575.03 L402 575.03 L403 575.03 L404 575.03 L405 575.03 L406 575.03 L407 575.03 L408 575.03 L409 575.03 L410 575.03 L411 575.03 L412 575.03 L413 575.03 L414 575.04 L415 575.04 L416 575.04 L417 575.04 L418 575.04 L419 575.04 L420 575.04 L421 575.04 L422 575.04 L423 575.04 L424 575.04 L425 575.04 L426 575.04 L427 575.04 L428 575.04 L429 575.04 L430 575.04 L431 575.04 L432 575.04 L433 575.04 L434 575.04 L435 575.04 L436 575.04 L437 575.04 L438 575.04 L439 575.04 L440 575.04 L441 575.04 L442 575.04 L443 575.04 L444 575.04 L445 575.05 L446 575.05 L447 575.05 L448 575.05 L449 575.05 L450 575.05 L451 575.05 L452 575.05 L453 575.05 L454 575.05 L455 575.05 L456 575.05 L457 575.05 L458 575.05 L459 575.05 L460 575.05 L461 575.05 L462 575.05 L463 575.05 L464 575.05 L465 575.05 L466 575.05 L467 575.05 L468 575.05 L469 575.05 L470 575.05 L471 575.05 L472 575.05 L473 575.05 L474 575.05 L475 575.05 L476 575.05 L477 575.05 L478 575.05 L479 575.05 L480 575.05 L481 575.05 L482 575.05 L483 575.05 L484 575.05 L485 575.05 L486 575.05 L487 575.05 L488 575.06 L489 575.06 L490 575.06 L491 575.06 L492 575.06 L493 575.06 L494 575.06 L495 575.06 L496 575.06 L497 575.06 L498 575.06 L499 575.06 L500 575.06 L501 575.06 L502 575.06 L503 575.06 L504 575.06 L505 575.06 L506 575.06 L507 575.06 L508 575.06 L509 575.06 L510 575.06 L511 575.06 L512 575.06 L513 575.06 L514 575.06 L515 575.06 L516 575.06 L517 575.06 L518 575.06 L519 575.06 L520 575.06 L521 575.06 L522 575.06 L523 575.06 L524 575.06 L525 575.06 L526 575.06 L527 575.06 L528 575.06 L529 575.06 L530 575.06 L531 575.06 L532 575.06 L533 575.06 L534 575.06 L535 575.06 L536 575.06 L537 575.06 L538 575.06 L539 575.06 L540 575.06 L541 575.06 L542 575.06 L543 575.06 L544 575.06 L545 575.06 L546 575.06 L547 575.06 L548 575.06 L549 575.06 L550 575.06 L551 575.06 L552 575.06 L553 575.06 L554 575.07 L555 575.07 L556 575.07 L557 575.07 L558 575.07 L559 575.07 L560 575.07 L561 575.07 L562 575.07 L563 575.07 L564 575.07 L565 575.07 L566 575.07 L567 575.07 L568 575.07 L569 575.07 L570 575.07 L571 575.07 L572 575.07 L573 575.07 L574 575.07 L575 575.07 L576 575.07 L577 575.07 L578 575.07 L579 575.07 L580 575.07 L581 575.07 L582 575.07 L583 575.07 L584 575.07 L585 575.07 L586 575.07 L587 575.07 L588 575.07 L589 575.07 L590 575.07 L591 575.07 L592 575.07 L593 575.07 L594 575.07 L595 575.07 L596 575.07 L597 575.07 L598 575.07 L599 575.07 L600 575.07 L601 575.07 L602 575.07 L603 575.07 L604 575.07 L605 575.07 L606 575.07 L607 575.07 L608 575.07 L609 575.07 L610 575.07 L611 575.07 L612 575.07 L613 575.07 L614 575.07 L615 575.07 L616 575.07 L617 575.07 L618 575.07 L619 575.07 L620 575.07 L621 575.07 L622 575.07 L623 575.07 L624 575.07 L625 575.07 L626 575.07 L627 575.07 L628 575.07 L629 575.07 L630 575.07 L631 575.07 L632 575.07 L633 575.07 L634 575.07 L635 575.07 L636 575.07 L637 575.07 L638 575.07 L639 575.07 L640 575.07 L641 575.07 L642 575.07 L643 575.07 L644 575.07 L645 575.07 L646 575.07 L647 575.07 L648 575.07 L649 575.07 L650 575.07 L651 575.07 L652 575.07 L653 575.07 L654 575.07 L655 575.07 L656 575.07 L657 575.07 L658 575.07 L659 575.07 L660 575.07 L661 575.07 L662 575.07 L663 575.07 L664 575.07 L665 575.07 L666 575.07 L667 575.07 L668 575.08 L669 575.08" fill="none" stroke="#ff33a0" stroke-width="2.6" stroke-linejoin="round" stroke-linecap="butt" />
<rect x="212.5" y="519.6" width="1.6" height="1.4" fill="#000"/>
<rect x="212.2" y="540.9" width="1.6" height="1.4" fill="#000"/>
<rect x="210.9" y="554.9" width="1.6" height="1.4" fill="#000"/>
<rect x="214" y="554.9" width="1.6" height="1.4" fill="#000"/>
<rect x="210.5" y="560.6" width="1.6" height="1.4" fill="#000"/>
<rect x="214" y="560.6" width="1.6" height="1.4" fill="#000"/>
<rect x="210.5" y="564.5" width="1.6" height="1.4" fill="#000"/>
<rect x="214.4" y="565" width="1.6" height="1.4" fill="#000"/>
<rect x="209.6" y="567.1" width="1.6" height="1.4" fill="#000"/>
<rect x="214.9" y="568" width="1.6" height="1.4" fill="#000"/>
<rect x="207.8" y="570.2" width="1.6" height="1.4" fill="#000"/>
<rect x="217" y="570.2" width="1.6" height="1.4" fill="#000"/>
<rect x="205.2" y="571.7" width="1.6" height="1.4" fill="#000"/>
<rect x="219.2" y="571.7" width="1.6" height="1.4" fill="#000"/>
<rect x="203" y="572.6" width="1.6" height="1.4" fill="#000"/>
<rect x="223.2" y="572.6" width="1.6" height="1.4" fill="#000"/>
<rect x="200.2" y="573.1" width="1.6" height="1.4" fill="#000"/>
<rect x="226.2" y="573.1" width="1.6" height="1.4" fill="#000"/>
<rect x="197.2" y="573.3" width="1.6" height="1.4" fill="#000"/>
<rect x="229.2" y="573.3" width="1.6" height="1.4" fill="#000"/>
<rect x="194.2" y="573.5" width="1.6" height="1.4" fill="#000"/>
<rect x="232.2" y="573.5" width="1.6" height="1.4" fill="#000"/>
<rect x="190.7" y="573.6" width="1.6" height="1.4" fill="#000"/>
<path d="M104 657.87 L104.25 657.85 L104.5 657.83 L104.75 657.8 L105 657.77 L105.25 657.74 L105.5 657.7 L105.75 657.66 L106 657.62 L106.25 657.57 L106.5 657.51 L106.75 657.45 L107 657.38 L107.25 657.3 L107.5 657.22 L107.75 657.12 L108 657.02 L108.25 656.92 L108.5 656.8 L108.75 656.67 L109 656.54 L109.25 656.39 L109.5 656.24 L109.75 656.08 L110 655.91 L110.25 655.73 L110.5 655.54 L110.75 655.35 L111 655.16 L111.25 654.96 L111.5 654.75 L111.75 654.55 L112 654.34 L112.05 654.3 L112.1 654.25 L112.15 654.21 L112.2 654.17 L112.25 654.13 L112.3 654.09 L112.35 654.04 L112.4 654 L112.45 653.96 L112.5 653.92 L112.55 653.87 L112.6 653.83 L112.65 653.79 L112.7 653.75 L112.75 653.7 L112.8 653.66 L112.85 653.62 L112.9 653.58 L112.95 653.53 L113 653.49 L113.05 653.45 L113.1 653.41 L113.15 653.36 L113.2 653.32 L113.25 653.28 L113.3 653.23 L113.35 653.19 L113.4 653.14 L113.45 653.1 L113.5 653.06 L113.55 653.01 L113.6 652.97 L113.65 652.92 L113.7 652.87 L113.75 652.83 L113.8 652.78 L113.85 652.74 L113.9 652.69 L113.95 652.64 L114 652.59 L114.05 652.54 L114.1 652.49 L114.15 652.44 L114.2 652.39 L114.25 652.34 L114.3 652.28 L114.35 652.23 L114.4 652.17 L114.45 652.12 L114.5 652.06 L114.55 652 L114.6 651.94 L114.65 651.89 L114.7 651.83 L114.75 651.78 L114.8 651.72 L114.85 651.67 L114.9 651.62 L114.95 651.56 L115 651.51 L115.05 651.45 L115.1 651.4 L115.15 651.34 L115.2 651.28 L115.25 651.22 L115.3 651.15 L115.35 651.08 L115.4 651.01 L115.45 650.93 L115.5 650.85 L115.55 650.76 L115.6 650.67 L115.65 650.57 L115.7 650.45 L115.75 650.33 L115.8 650.2 L115.85 650.06 L115.9 649.9 L115.95 649.73 L116 649.55 L116.01 649.51 L116.02 649.47 L116.03 649.42 L116.04 649.38 L116.05 649.34 L116.06 649.3 L116.07 649.25 L116.08 649.21 L116.09 649.16 L116.1 649.11 L116.11 649.06 L116.12 649.02 L116.13 648.97 L116.14 648.91 L116.15 648.86 L116.16 648.81 L116.17 648.76 L116.18 648.7 L116.19 648.64 L116.2 648.59 L116.21 648.53 L116.22 648.47 L116.23 648.41 L116.24 648.34 L116.25 648.28 L116.26 648.21 L116.27 648.15 L116.28 648.08 L116.29 648.01 L116.3 647.94 L116.31 647.87 L116.32 647.79 L116.33 647.72 L116.34 647.64 L116.35 647.56 L116.36 647.48 L116.37 647.4 L116.38 647.31 L116.39 647.23 L116.4 647.14 L116.41 647.05 L116.42 646.96 L116.43 646.86 L116.44 646.77 L116.45 646.67 L116.46 646.57 L116.47 646.46 L116.48 646.36 L116.49 646.25 L116.5 646.14 L116.51 646.02 L116.52 645.91 L116.53 645.79 L116.54 645.67 L116.55 645.54 L116.56 645.41 L116.57 645.28 L116.58 645.14 L116.59 645.01 L116.6 644.86 L116.61 644.72 L116.62 644.57 L116.63 644.41 L116.64 644.26 L116.65 644.09 L116.66 643.93 L116.67 643.75 L116.68 643.58 L116.69 643.4 L116.7 643.21 L116.71 643.02 L116.72 642.82 L116.73 642.62 L116.74 642.41 L116.75 642.2 L116.76 641.97 L116.77 641.75 L116.78 641.51 L116.79 641.27 L116.8 641.02 L116.81 640.76 L116.82 640.49 L116.83 640.22 L116.84 639.93 L116.85 639.64 L116.86 639.34 L116.87 639.02 L116.88 638.7 L116.89 638.36 L116.9 638.02 L116.91 637.66 L116.92 637.28 L116.93 636.9 L116.94 636.49 L116.95 636.08 L116.96 635.65 L116.97 635.2 L116.98 634.73 L116.99 634.25 L117 633.74 L117.01 633.22 L117.02 632.67 L117.03 632.1 L117.04 631.51 L117.05 630.89 L117.06 630.25 L117.07 629.57 L117.08 628.87 L117.09 628.14 L117.1 627.38 L117.11 626.58 L117.12 625.75 L117.13 624.88 L117.14 623.98 L117.15 623.04 L117.16 622.07 L117.17 621.07 L117.18 620.04 L117.19 619.01 L117.2 618.07 L117.21 619.03 L117.22 620.07 L117.23 621.12 L117.24 622.14 L117.25 623.12 L117.26 624.08 L117.27 625 L117.28 625.88 L117.29 626.73 L117.3 627.54 L117.31 628.32 L117.32 629.07 L117.33 629.79 L117.34 630.48 L117.35 631.14 L117.36 631.77 L117.37 632.38 L117.38 632.96 L117.39 633.53 L117.4 634.07 L117.41 634.59 L117.42 635.09 L117.43 635.57 L117.44 636.04 L117.45 636.49 L117.46 636.92 L117.47 637.34 L117.48 637.74 L117.49 638.13 L117.5 638.51 L117.51 638.87 L117.52 639.22 L117.53 639.56 L117.54 639.89 L117.55 640.21 L117.56 640.52 L117.57 640.82 L117.58 641.11 L117.59 641.4 L117.6 641.67 L117.61 641.94 L117.62 642.2 L117.63 642.45 L117.64 642.69 L117.65 642.93 L117.66 643.16 L117.67 643.39 L117.68 643.61 L117.69 643.82 L117.7 644.03 L117.71 644.23 L117.72 644.43 L117.73 644.62 L117.74 644.81 L117.75 644.99 L117.76 645.17 L117.77 645.34 L117.78 645.51 L117.79 645.68 L117.8 645.84 L117.81 646 L117.82 646.16 L117.83 646.31 L117.84 646.46 L117.85 646.6 L117.86 646.74 L117.87 646.88 L117.88 647.02 L117.89 647.15 L117.9 647.28 L117.91 647.41 L117.92 647.53 L117.93 647.65 L117.94 647.77 L117.95 647.89 L117.96 648 L117.97 648.12 L117.98 648.23 L117.99 648.34 L118 648.44 L118.01 648.55 L118.02 648.65 L118.03 648.75 L118.04 648.85 L118.05 648.94 L118.06 649.04 L118.07 649.13 L118.08 649.22 L118.09 649.31 L118.1 649.4 L118.11 649.49 L118.12 649.57 L118.13 649.66 L118.14 649.74 L118.15 649.82 L118.16 649.9 L118.17 649.98 L118.18 650.06 L118.19 650.13 L118.2 650.21 L118.21 650.28 L118.22 650.35 L118.23 650.42 L118.24 650.49 L118.25 650.56 L118.26 650.63 L118.27 650.7 L118.28 650.76 L118.29 650.83 L118.3 650.89 L118.31 650.95 L118.32 651.01 L118.33 651.08 L118.34 651.14 L118.35 651.19 L118.36 651.25 L118.37 651.31 L118.38 651.37 L118.39 651.42 L118.4 651.48 L118.41 651.53 L118.42 651.58 L118.43 651.64 L118.44 651.69 L118.45 651.74 L118.46 651.79 L118.47 651.84 L118.48 651.89 L118.49 651.94 L118.5 651.98 L118.55 652.21 L118.6 652.43 L118.65 652.63 L118.7 652.82 L118.75 653 L118.8 653.17 L118.85 653.32 L118.9 653.47 L118.95 653.62 L119 653.75 L119.05 653.88 L119.1 654 L119.15 654.12 L119.2 654.23 L119.25 654.33 L119.3 654.43 L119.35 654.53 L119.4 654.62 L119.45 654.71 L119.5 654.79 L119.55 654.87 L119.6 654.95 L119.65 655.02 L119.7 655.09 L119.75 655.16 L119.8 655.23 L119.85 655.29 L119.9 655.35 L119.95 655.41 L120 655.47 L120.05 655.52 L120.1 655.57 L120.15 655.62 L120.2 655.67 L120.25 655.72 L120.3 655.77 L120.35 655.81 L120.4 655.86 L120.45 655.9 L120.5 655.94 L120.55 655.98 L120.6 656.02 L120.65 656.05 L120.7 656.09 L120.75 656.13 L120.8 656.16 L120.85 656.19 L120.9 656.23 L120.95 656.26 L121 656.29 L121.05 656.32 L121.1 656.35 L121.15 656.38 L121.2 656.4 L121.25 656.43 L121.3 656.46 L121.35 656.48 L121.4 656.51 L121.45 656.53 L121.5 656.56 L121.55 656.58 L121.6 656.6 L121.65 656.62 L121.7 656.65 L121.75 656.67 L121.8 656.69 L121.85 656.71 L121.9 656.73 L121.95 656.75 L122 656.77 L122.05 656.79 L122.1 656.8 L122.15 656.82 L122.2 656.84 L122.25 656.86 L122.3 656.87 L122.35 656.89 L122.4 656.91 L122.45 656.92 L122.5 656.94 L122.55 656.95 L122.6 656.97 L122.65 656.98 L122.7 657 L122.75 657.01 L122.8 657.03 L122.85 657.04 L122.9 657.06 L122.95 657.07 L123 657.08 L123.05 657.09 L123.1 657.11 L123.15 657.12 L123.2 657.13 L123.25 657.14 L123.3 657.16 L123.35 657.17 L123.4 657.18 L123.45 657.19 L123.5 657.2 L123.55 657.21 L123.6 657.22 L123.65 657.23 L123.7 657.24 L123.75 657.25 L123.8 657.26 L123.85 657.27 L123.9 657.28 L123.95 657.29 L124 657.3 L125 657.47 L126 657.59 L127 657.69 L128 657.77 L129 657.84 L130 657.89 L131 657.94 L132 657.98 L133 658.02 L134 658.05 L135 658.08 L136 658.1 L137 658.12 L138 658.14 L139 658.16 L140 658.18 L141 658.19 L142 658.2 L143 658.22 L144 658.23 L145 658.24 L146 658.25 L147 658.26 L148 658.27 L149 658.27 L150 658.28 L151 658.29 L152 658.3 L153 658.3 L154 658.31 L155 658.31 L156 658.32 L157 658.32 L158 658.33 L159 658.33 L160 658.34 L161 658.34 L162 658.35 L163 658.35 L164 658.35 L165 658.36 L166 658.36 L167 658.36 L168 658.37 L169 658.37 L170 658.37 L171 658.37 L172 658.38 L173 658.38 L174 658.38 L175 658.38 L176 658.39 L177 658.39 L178 658.39 L179 658.39 L180 658.39 L181 658.4 L182 658.4 L183 658.4 L184 658.4 L185 658.4 L186 658.4 L187 658.4 L188 658.41 L189 658.41 L190 658.41 L191 658.41 L192 658.41 L193 658.41 L194 658.41 L195 658.42 L196 658.42 L197 658.42 L198 658.42 L199 658.42 L200 658.42 L201 658.42 L202 658.42 L203 658.42 L204 658.43 L205 658.43 L206 658.43 L207 658.43 L208 658.43 L209 658.43 L210 658.43 L211 658.43 L212 658.43 L213 658.43 L214 658.43 L215 658.43 L216 658.44 L217 658.44 L218 658.44 L219 658.44 L220 658.44 L221 658.44 L222 658.44 L223 658.44 L224 658.44 L225 658.44 L226 658.44 L227 658.44 L228 658.44 L229 658.44 L230 658.44 L231 658.44 L232 658.44 L233 658.45 L234 658.45 L235 658.45 L236 658.45 L237 658.45 L238 658.45 L239 658.45 L240 658.45 L241 658.45 L242 658.45 L243 658.45 L244 658.45 L245 658.45 L246 658.45 L247 658.45 L248 658.45 L249 658.45 L250 658.45 L251 658.45 L252 658.45 L253 658.45 L254 658.45 L255 658.45 L256 658.46 L257 658.46 L258 658.46 L259 658.46 L260 658.46 L261 658.46 L262 658.46 L263 658.46 L264 658.46 L265 658.46 L266 658.46 L267 658.46 L268 658.46 L269 658.46 L270 658.46 L271 658.46 L272 658.46 L273 658.46 L274 658.46 L275 658.46 L276 658.46 L277 658.46 L278 658.46 L279 658.46 L280 658.46 L281 658.46 L282 658.46 L283 658.46 L284 658.46 L285 658.46 L286 658.46 L287 658.46 L288 658.46 L289 658.46 L290 658.46 L291 658.47 L292 658.47 L293 658.47 L294 658.47 L295 658.47 L296 658.47 L297 658.47 L298 658.47 L299 658.47 L300 658.47 L301 658.47 L302 658.47 L303 658.47 L304 658.47 L305 658.47 L306 658.47 L307 658.47 L308 658.47 L309 658.47 L310 658.47 L311 658.47 L312 658.47 L313 658.47 L314 658.47 L315 658.47 L316 658.47 L317 658.47 L318 658.47 L319 658.47 L320 658.47 L321 658.47 L322 658.47 L323 658.47 L324 658.47 L325 658.47 L326 658.47 L327 658.47 L328 658.47 L329 658.47 L330 658.47 L331 658.47 L332 658.47 L333 658.47 L334 658.47 L335 658.47 L336 658.47 L337 658.47 L338 658.47 L339 658.47 L340 658.47 L341 658.47 L342 658.47 L343 658.47 L344 658.47 L345 658.47 L346 658.47 L347 658.47 L348 658.47 L349 658.47 L350 658.47 L351 658.47 L352 658.47 L353 658.48 L354 658.48 L355 658.48 L356 658.48 L357 658.48 L358 658.48 L359 658.48 L360 658.48 L361 658.48 L362 658.48 L363 658.48 L364 658.48 L365 658.48 L366 658.48 L367 658.48 L368 658.48 L369 658.48 L370 658.48 L371 658.48 L372 658.48 L373 658.48 L374 658.48 L375 658.48 L376 658.48 L377 658.48 L378 658.48 L379 658.48 L380 658.48 L381 658.48 L382 658.48 L383 658.48 L384 658.48 L385 658.48 L386 658.48 L387 658.48 L388 658.48 L389 658.48 L390 658.48 L391 658.48 L392 658.48 L393 658.48 L394 658.48 L395 658.48 L396 658.48 L397 658.48 L398 658.48 L399 658.48 L400 658.48 L401 658.48 L402 658.48 L403 658.48 L404 658.48 L405 658.48 L406 658.48 L407 658.48 L408 658.48 L409 658.48 L410 658.48 L411 658.48 L412 658.48 L413 658.48 L414 658.48 L415 658.48 L416 658.48 L417 658.48 L418 658.48 L419 658.48 L420 658.48 L421 658.48 L422 658.48 L423 658.48 L424 658.48 L425 658.48 L426 658.48 L427 658.48 L428 658.48 L429 658.48 L430 658.48 L431 658.48 L432 658.48 L433 658.48 L434 658.48 L435 658.48 L436 658.48 L437 658.48 L438 658.48 L439 658.48 L440 658.48 L441 658.48 L442 658.48 L443 658.48 L444 658.48 L445 658.48 L446 658.48 L447 658.48 L448 658.48 L449 658.48 L450 658.48 L451 658.48 L452 658.48 L453 658.48 L454 658.48 L455 658.48 L456 658.48 L457 658.48 L458 658.48 L459 658.48 L460 658.48 L461 658.48 L462 658.48 L463 658.48 L464 658.48 L465 658.48 L466 658.48 L467 658.48 L468 658.48 L469 658.48 L470 658.48 L471 658.48 L472 658.48 L473 658.48 L474 658.48 L475 658.48 L476 658.48 L477 658.48 L478 658.48 L479 658.48 L480 658.48 L481 658.48 L482 658.48 L483 658.48 L484 658.48 L485 658.48 L486 658.48 L487 658.48 L488 658.48 L489 658.48 L490 658.48 L491 658.48 L492 658.49 L493 658.49 L494 658.49 L495 658.49 L496 658.49 L497 658.49 L498 658.49 L499 658.49 L500 658.49 L501 658.49 L502 658.49 L503 658.49 L504 658.49 L505 658.49 L506 658.49 L507 658.49 L508 658.49 L509 658.49 L510 658.49 L511 658.49 L512 658.49 L513 658.49 L514 658.49 L515 658.49 L516 658.49 L517 658.49 L518 658.49 L519 658.49 L520 658.49 L521 658.49 L522 658.49 L523 658.49 L524 658.49 L525 658.49 L526 658.49 L527 658.49 L528 658.49 L529 658.49 L530 658.49 L531 658.49 L532 658.49 L533 658.49 L534 658.49 L535 658.49 L536 658.49 L537 658.49 L538 658.49 L539 658.49 L540 658.49 L541 658.49 L542 658.49 L543 658.49 L544 658.49 L545 658.49 L546 658.49 L547 658.49 L548 658.49 L549 658.49 L550 658.49 L551 658.49 L552 658.49 L553 658.49 L554 658.49 L555 658.49 L556 658.49 L557 658.49 L558 658.49 L559 658.49 L560 658.49 L561 658.49 L562 658.49 L563 658.49 L564 658.49 L565 658.49 L566 658.49 L567 658.49 L568 658.49 L569 658.49 L570 658.49 L571 658.49 L572 658.49 L573 658.49 L574 658.49 L575 658.49 L576 658.49 L577 658.49 L578 658.49 L579 658.49 L580 658.49 L581 658.49 L582 658.49 L583 658.49 L584 658.49 L585 658.49 L586 658.49 L587 658.49 L588 658.49 L589 658.49 L590 658.49 L591 658.49 L592 658.49 L593 658.49 L594 658.49 L595 658.49 L596 658.49 L597 658.49 L598 658.49 L599 658.49 L600 658.49 L601 658.49 L602 658.49 L603 658.49 L604 658.49 L605 658.49 L606 658.49 L607 658.49 L608 658.49 L609 658.49 L610 658.49 L611 658.49 L612 658.49 L613 658.49 L614 658.49 L615 658.49 L616 658.49 L617 658.49 L618 658.49 L619 658.49 L620 658.49 L621 658.49 L622 658.49 L623 658.49 L624 658.49 L625 658.49 L626 658.49 L627 658.49 L628 658.49 L629 658.49 L630 658.49 L631 658.49 L632 658.49 L633 658.49 L634 658.49 L635 658.49 L636 658.49 L637 658.49 L638 658.49 L639 658.49 L640 658.49 L641 658.49 L642 658.49 L643 658.49 L644 658.49 L645 658.49 L646 658.49 L647 658.49 L648 658.49 L649 658.49 L650 658.49 L651 658.49 L652 658.49 L653 658.49 L654 658.49 L655 658.49 L656 658.49 L657 658.49 L658 658.49 L659 658.49 L660 658.49 L661 658.49 L662 658.49 L663 658.49 L664 658.49 L665 658.49 L666 658.49 L667 658.49 L668 658.49 L669 658.49" fill="none" stroke="#ff33a0" stroke-width="2.2" stroke-linejoin="round" stroke-linecap="butt" />
<path d="M104 741.5 L104.02 737.55 L104.05 731.86 L104.08 725.05 L104.12 717.72 L104.16 710.49 L104.2 703.96 L104.25 698.77 L104.3 695.5 L104.35 694.24 L104.41 694.43 L104.47 695.75 L104.54 697.88 L104.6 700.49 L104.67 703.26 L104.74 705.87 L104.8 708 L104.86 709.89 L104.92 711.96 L104.98 714.14 L105.04 716.34 L105.11 718.51 L105.17 720.55 L105.23 722.41 L105.3 724 L105.37 725.34 L105.43 726.5 L105.49 727.5 L105.55 728.38 L105.62 729.14 L105.7 729.81 L105.79 730.43 L105.9 731 L106.03 731.5 L106.17 731.88 L106.32 732.16 L106.49 732.38 L106.66 732.54 L106.84 732.69 L107.02 732.83 L107.2 733 L107.39 733.17 L107.58 733.31 L107.78 733.43 L107.99 733.53 L108.19 733.63 L108.4 733.74 L108.6 733.86 L108.8 734 L108.99 734.16 L109.18 734.33 L109.37 734.5 L109.56 734.68 L109.74 734.87 L109.93 735.07 L110.11 735.28 L110.3 735.5 L110.49 735.74 L110.67 735.99 L110.85 736.26 L111.04 736.54 L111.22 736.82 L111.41 737.09 L111.6 737.35 L111.8 737.6 L111.99 737.83 L112.18 738.06 L112.37 738.28 L112.56 738.49 L112.76 738.69 L112.98 738.9 L113.22 739.1 L113.5 739.3 L113.78 739.5 L114.03 739.7 L114.29 739.89 L114.58 740.09 L114.92 740.28 L115.33 740.46 L115.85 740.63 L116.5 740.8 L117.25 740.96 L118.09 741.11 L119 741.26 L120 741.4 L121.09 741.53 L122.29 741.66 L123.59 741.78 L125 741.9 L126.67 742.01 L128.64 742.12 L130.81 742.22 L133.03 742.32 L135.19 742.41 L137.15 742.48 L138.8 742.55 L140 742.6 L669.6 742.9" fill="none" stroke="#ff33a0" stroke-width="2.4" stroke-linejoin="round" stroke-linecap="butt" />
<path d="M104 826 L104.02 822.45 L104.05 817.32 L104.08 811.17 L104.12 804.56 L104.16 798.08 L104.2 792.27 L104.25 787.73 L104.3 785 L104.35 784.19 L104.41 784.79 L104.46 786.48 L104.53 788.94 L104.59 791.84 L104.66 794.87 L104.73 797.69 L104.8 800 L104.88 802.02 L104.95 804.18 L105.03 806.39 L105.12 808.59 L105.21 810.73 L105.3 812.71 L105.4 814.5 L105.5 816 L105.61 817.21 L105.72 818.18 L105.83 818.95 L105.95 819.57 L106.08 820.1 L106.21 820.56 L106.35 821.01 L106.5 821.5 L106.66 821.99 L106.82 822.42 L106.98 822.81 L107.16 823.16 L107.34 823.47 L107.54 823.76 L107.76 824.04 L108 824.3 L108.22 824.54 L108.39 824.75 L108.56 824.94 L108.75 825.1 L109.01 825.25 L109.36 825.4 L109.85 825.54 L110.5 825.7 L111.42 825.87 L112.61 826.04 L113.97 826.22 L115.41 826.39 L116.83 826.55 L118.13 826.69 L119.22 826.81 L120 826.9 L669.6 827.3" fill="none" stroke="#ff33a0" stroke-width="2.4" stroke-linejoin="round" stroke-linecap="butt" />
<path d="M104 905 L104.02 902.85 L104.05 899.73 L104.08 896 L104.11 891.99 L104.15 888.06 L104.2 884.55 L104.25 881.81 L104.3 880.2 L104.36 879.79 L104.43 880.28 L104.5 881.46 L104.58 883.11 L104.66 885.01 L104.74 886.94 L104.82 888.67 L104.9 890 L104.97 891.02 L105.04 891.98 L105.11 892.9 L105.18 893.77 L105.25 894.61 L105.33 895.42 L105.41 896.22 L105.5 897 L105.59 897.77 L105.67 898.51 L105.75 899.23 L105.84 899.93 L105.94 900.61 L106.06 901.26 L106.21 901.89 L106.4 902.5 L106.6 903.09 L106.81 903.66 L107.04 904.21 L107.29 904.74 L107.59 905.25 L107.93 905.73 L108.33 906.18 L108.8 906.6 L109.32 906.99 L109.87 907.34 L110.47 907.67 L111.12 907.97 L111.84 908.25 L112.66 908.51 L113.57 908.76 L114.6 909 L115.77 909.23 L117.06 909.44 L118.47 909.64 L119.96 909.82 L121.51 909.98 L123.1 910.14 L124.7 910.27 L126.3 910.4 L128.01 910.51 L129.91 910.6 L131.89 910.68 L133.88 910.74 L135.78 910.79 L137.49 910.83 L138.93 910.87 L140 910.9 L669.6 911.2" fill="none" stroke="#ff33a0" stroke-width="2.4" stroke-linejoin="round" stroke-linecap="butt" />
<line x1="104" y1="575.7" x2="188" y2="575.7" stroke="#000" stroke-width="1.8"/>
<line x1="235" y1="575.7" x2="669.6" y2="575.7" stroke="#000" stroke-width="1.8"/>
<line x1="188" y1="573.9" x2="235" y2="573.9" stroke="#000" stroke-width="0.9" stroke-dasharray="8 3"/>
<line x1="124" y1="658.9" x2="669.6" y2="658.9" stroke="#000" stroke-width="1.6" stroke-opacity="0.75"/>
<line x1="567.5" y1="530.2" x2="609.4" y2="530.2" stroke="#ff33a0" stroke-width="1.9"/>
<text x="618.2" y="537.2" font-size="20.5" text-anchor="start" >IMF1</text>
<line x1="567.1" y1="612.6" x2="608.8" y2="612.6" stroke="#ff33a0" stroke-width="1.9"/>
<text x="618.2" y="619.4" font-size="20.5" text-anchor="start" >IMF2</text>
<line x1="564.3" y1="692" x2="606.7" y2="692" stroke="#ff33a0" stroke-width="1.9"/>
<text x="615.7" y="699.7" font-size="20.5" text-anchor="start" >IMF3</text>
<line x1="564.3" y1="773.6" x2="605.6" y2="773.6" stroke="#ff33a0" stroke-width="1.9"/>
<text x="615.3" y="781.4" font-size="20.5" text-anchor="start" >IMF4</text>
<line x1="563.3" y1="872.6" x2="605.2" y2="872.6" stroke="#ff33a0" stroke-width="1.9"/>
<text x="614.6" y="879.4" font-size="20.5" text-anchor="start" >IMF5</text>
<rect x="587.6" y="529.4" width="1.4" height="1.3" fill="#333"/>
<text transform="translate(19.2 896.3) rotate(-90)" font-size="22.1">Power Spectral Density/((mm/s<tspan font-size="14" dy="-9">2</tspan><tspan dy="9">)/Hz)</tspan></text>
<text x="393" y="961.6" font-size="22" text-anchor="middle" >Frequency/Hz</text>
</svg>
</body></html>
